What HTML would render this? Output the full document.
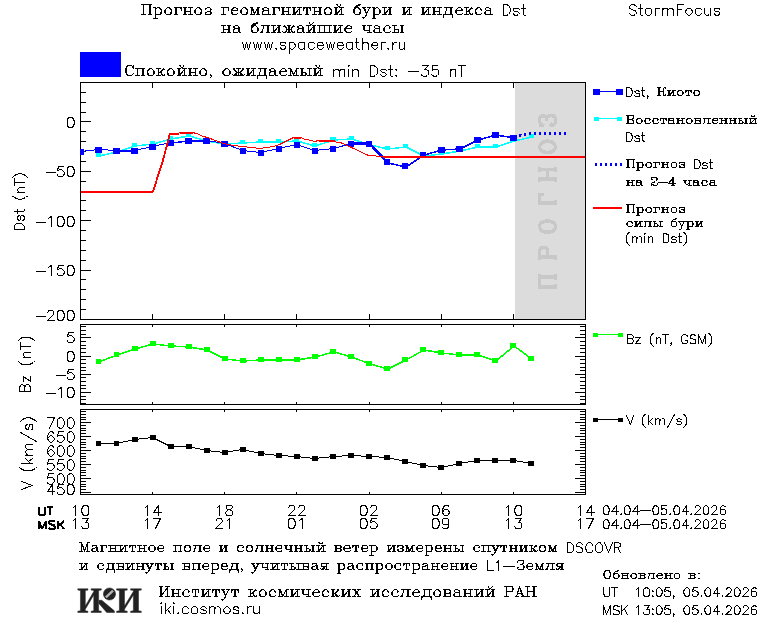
<!DOCTYPE html>
<html><head><meta charset="utf-8"><title>StormFocus</title>
<style>html,body{margin:0;padding:0;background:#fff;font-family:"Liberation Sans",sans-serif}svg{display:block}</style></head>
<body><svg width="760" height="620" viewBox="0 0 760 620" shape-rendering="crispEdges">
<rect width="760" height="620" fill="#fff"/>
<rect x="80" y="52" width="41" height="25" fill="#0000ff"/>
<rect x="515" y="83" width="70" height="236" fill="#dcdcdc"/>
<path d="M539.593 287.05L555.49 287.05M539.593 286.3L555.49 286.3M539.593 277.3L555.49 277.3M539.593 276.55L555.49 276.55M539.593 289.3L539.593 274.3M555.49 289.3L555.49 284.05M555.49 279.55L555.49 274.3" fill="none" stroke="#c8c8c8" stroke-width="3"/>
<path d="M539.593 257.625L555.49 257.625M539.593 256.875L555.49 256.875M539.593 259.875L539.593 250.875L540.35 248.625L541.107 247.875L542.621 247.125L544.892 247.125L546.406 247.875L547.163 248.625L547.92 250.875L547.92 256.875M539.593 250.875L540.35 249.375L541.107 248.625L542.621 247.875L544.892 247.875L546.406 248.625L547.163 249.375L547.92 250.875M555.49 259.875L555.49 254.625" fill="none" stroke="#c8c8c8" stroke-width="3"/>
<path d="M539.593 227.4L540.35 229.65L541.864 231.15L543.378 231.9L546.406 232.65L548.677 232.65L551.705 231.9L553.219 231.15L554.733 229.65L555.49 227.4L555.49 225.9L554.733 223.65L553.219 222.15L551.705 221.4L548.677 220.65L546.406 220.65L543.378 221.4L541.864 222.15L540.35 223.65L539.593 225.9L539.593 227.4M539.593 227.4L540.35 228.9L541.864 230.4L543.378 231.15L546.406 231.9L548.677 231.9L551.705 231.15L553.219 230.4L554.733 228.9L555.49 227.4M555.49 225.9L554.733 224.4L553.219 222.9L551.705 222.15L548.677 221.4L546.406 221.4L543.378 222.15L541.864 222.9L540.35 224.4L539.593 225.9" fill="none" stroke="#c8c8c8" stroke-width="3"/>
<path d="M539.593 203.175L555.49 203.175M539.593 202.425L555.49 202.425M539.593 205.425L539.593 194.175L544.135 194.175L539.593 194.925M555.49 205.425L555.49 200.175" fill="none" stroke="#c8c8c8" stroke-width="3"/>
<path d="M539.593 179.55L555.49 179.55M539.593 178.8L555.49 178.8M539.593 169.8L555.49 169.8M539.593 169.05L555.49 169.05M539.593 181.8L539.593 176.55M539.593 172.05L539.593 166.8M547.163 178.8L547.163 169.8M555.49 181.8L555.49 176.55M555.49 172.05L555.49 166.8" fill="none" stroke="#c8c8c8" stroke-width="3"/>
<path d="M539.593 147.7L540.35 149.95L541.864 151.45L543.378 152.2L546.406 152.95L548.677 152.95L551.705 152.2L553.219 151.45L554.733 149.95L555.49 147.7L555.49 146.2L554.733 143.95L553.219 142.45L551.705 141.7L548.677 140.95L546.406 140.95L543.378 141.7L541.864 142.45L540.35 143.95L539.593 146.2L539.593 147.7M539.593 147.7L540.35 149.2L541.864 150.7L543.378 151.45L546.406 152.2L548.677 152.2L551.705 151.45L553.219 150.7L554.733 149.2L555.49 147.7M555.49 146.2L554.733 144.7L553.219 143.2L551.705 142.45L548.677 141.7L546.406 141.7L543.378 142.45L541.864 143.2L540.35 144.7L539.593 146.2" fill="none" stroke="#c8c8c8" stroke-width="3"/>
<path d="M541.864 124.9L539.593 125.65L544.135 125.65L541.864 124.9L540.35 123.4L539.593 121.9L539.593 118.9L540.35 116.65L541.864 115.9L544.135 115.9L545.649 116.65L546.406 118.9L546.406 121.15M539.593 118.9L540.35 117.4L541.864 116.65L544.135 116.65L545.649 117.4L546.406 118.9M546.406 118.9L547.163 117.4L548.677 115.9L550.191 115.15L552.462 115.15L553.976 115.9L554.733 116.65L555.49 118.9L555.49 122.65L554.733 124.15L553.976 124.9L552.462 125.65L551.705 125.65L550.948 124.9L551.705 124.15L552.462 124.9M547.92 116.65L550.191 115.9L552.462 115.9L553.976 116.65L554.733 117.4L555.49 118.9" fill="none" stroke="#c8c8c8" stroke-width="3"/>
<rect x="80" y="82" width="506" height="1" fill="#000"/>
<rect x="80" y="319" width="506" height="1" fill="#000"/>
<rect x="80" y="82" width="1" height="238" fill="#000"/>
<rect x="585" y="82" width="1" height="238" fill="#000"/>
<rect x="152" y="82" width="1" height="6" fill="#000"/>
<rect x="152" y="314" width="1" height="6" fill="#000"/>
<rect x="224" y="82" width="1" height="6" fill="#000"/>
<rect x="224" y="314" width="1" height="6" fill="#000"/>
<rect x="296" y="82" width="1" height="6" fill="#000"/>
<rect x="296" y="314" width="1" height="6" fill="#000"/>
<rect x="369" y="82" width="1" height="6" fill="#000"/>
<rect x="369" y="314" width="1" height="6" fill="#000"/>
<rect x="441" y="82" width="1" height="6" fill="#000"/>
<rect x="441" y="314" width="1" height="6" fill="#000"/>
<rect x="513" y="82" width="1" height="6" fill="#000"/>
<rect x="513" y="314" width="1" height="6" fill="#000"/>
<rect x="80" y="82" width="6" height="1" fill="#000"/>
<rect x="80" y="92" width="6" height="1" fill="#000"/>
<rect x="80" y="102" width="6" height="1" fill="#000"/>
<rect x="80" y="112" width="6" height="1" fill="#000"/>
<rect x="80" y="121" width="11" height="1" fill="#000"/>
<rect x="80" y="131" width="6" height="1" fill="#000"/>
<rect x="80" y="141" width="6" height="1" fill="#000"/>
<rect x="80" y="151" width="6" height="1" fill="#000"/>
<rect x="80" y="161" width="6" height="1" fill="#000"/>
<rect x="80" y="171" width="11" height="1" fill="#000"/>
<rect x="80" y="181" width="6" height="1" fill="#000"/>
<rect x="80" y="191" width="6" height="1" fill="#000"/>
<rect x="80" y="200" width="6" height="1" fill="#000"/>
<rect x="80" y="210" width="6" height="1" fill="#000"/>
<rect x="80" y="220" width="11" height="1" fill="#000"/>
<rect x="80" y="230" width="6" height="1" fill="#000"/>
<rect x="80" y="240" width="6" height="1" fill="#000"/>
<rect x="80" y="250" width="6" height="1" fill="#000"/>
<rect x="80" y="260" width="6" height="1" fill="#000"/>
<rect x="80" y="270" width="11" height="1" fill="#000"/>
<rect x="80" y="279" width="6" height="1" fill="#000"/>
<rect x="80" y="289" width="6" height="1" fill="#000"/>
<rect x="80" y="299" width="6" height="1" fill="#000"/>
<rect x="80" y="309" width="6" height="1" fill="#000"/>
<rect x="80" y="319" width="11" height="1" fill="#000"/>
<rect x="80" y="324" width="506" height="1" fill="#000"/>
<rect x="80" y="404" width="506" height="1" fill="#000"/>
<rect x="80" y="324" width="1" height="81" fill="#000"/>
<rect x="585" y="324" width="1" height="81" fill="#000"/>
<rect x="152" y="324" width="1" height="3" fill="#000"/>
<rect x="152" y="402" width="1" height="3" fill="#000"/>
<rect x="224" y="324" width="1" height="3" fill="#000"/>
<rect x="224" y="402" width="1" height="3" fill="#000"/>
<rect x="296" y="324" width="1" height="3" fill="#000"/>
<rect x="296" y="402" width="1" height="3" fill="#000"/>
<rect x="369" y="324" width="1" height="3" fill="#000"/>
<rect x="369" y="402" width="1" height="3" fill="#000"/>
<rect x="441" y="324" width="1" height="3" fill="#000"/>
<rect x="441" y="402" width="1" height="3" fill="#000"/>
<rect x="513" y="324" width="1" height="3" fill="#000"/>
<rect x="513" y="402" width="1" height="3" fill="#000"/>
<rect x="80" y="326" width="6" height="1" fill="#000"/>
<rect x="580" y="326" width="6" height="1" fill="#000"/>
<rect x="80" y="330" width="6" height="1" fill="#000"/>
<rect x="580" y="330" width="6" height="1" fill="#000"/>
<rect x="80" y="334" width="6" height="1" fill="#000"/>
<rect x="580" y="334" width="6" height="1" fill="#000"/>
<rect x="80" y="337" width="11" height="1" fill="#000"/>
<rect x="575" y="337" width="11" height="1" fill="#000"/>
<rect x="80" y="341" width="6" height="1" fill="#000"/>
<rect x="580" y="341" width="6" height="1" fill="#000"/>
<rect x="80" y="345" width="6" height="1" fill="#000"/>
<rect x="580" y="345" width="6" height="1" fill="#000"/>
<rect x="80" y="348" width="6" height="1" fill="#000"/>
<rect x="580" y="348" width="6" height="1" fill="#000"/>
<rect x="80" y="352" width="6" height="1" fill="#000"/>
<rect x="580" y="352" width="6" height="1" fill="#000"/>
<rect x="80" y="356" width="11" height="1" fill="#000"/>
<rect x="575" y="356" width="11" height="1" fill="#000"/>
<rect x="80" y="359" width="6" height="1" fill="#000"/>
<rect x="580" y="359" width="6" height="1" fill="#000"/>
<rect x="80" y="363" width="6" height="1" fill="#000"/>
<rect x="580" y="363" width="6" height="1" fill="#000"/>
<rect x="80" y="367" width="6" height="1" fill="#000"/>
<rect x="580" y="367" width="6" height="1" fill="#000"/>
<rect x="80" y="370" width="6" height="1" fill="#000"/>
<rect x="580" y="370" width="6" height="1" fill="#000"/>
<rect x="80" y="374" width="11" height="1" fill="#000"/>
<rect x="575" y="374" width="11" height="1" fill="#000"/>
<rect x="80" y="377" width="6" height="1" fill="#000"/>
<rect x="580" y="377" width="6" height="1" fill="#000"/>
<rect x="80" y="381" width="6" height="1" fill="#000"/>
<rect x="580" y="381" width="6" height="1" fill="#000"/>
<rect x="80" y="385" width="6" height="1" fill="#000"/>
<rect x="580" y="385" width="6" height="1" fill="#000"/>
<rect x="80" y="388" width="6" height="1" fill="#000"/>
<rect x="580" y="388" width="6" height="1" fill="#000"/>
<rect x="80" y="392" width="11" height="1" fill="#000"/>
<rect x="575" y="392" width="11" height="1" fill="#000"/>
<rect x="80" y="396" width="6" height="1" fill="#000"/>
<rect x="580" y="396" width="6" height="1" fill="#000"/>
<rect x="80" y="399" width="6" height="1" fill="#000"/>
<rect x="580" y="399" width="6" height="1" fill="#000"/>
<rect x="80" y="403" width="6" height="1" fill="#000"/>
<rect x="580" y="403" width="6" height="1" fill="#000"/>
<rect x="80" y="409" width="506" height="1" fill="#000"/>
<rect x="80" y="494" width="506" height="1" fill="#000"/>
<rect x="80" y="409" width="1" height="86" fill="#000"/>
<rect x="585" y="409" width="1" height="86" fill="#000"/>
<rect x="152" y="409" width="1" height="3" fill="#000"/>
<rect x="152" y="492" width="1" height="3" fill="#000"/>
<rect x="224" y="409" width="1" height="3" fill="#000"/>
<rect x="224" y="492" width="1" height="3" fill="#000"/>
<rect x="296" y="409" width="1" height="3" fill="#000"/>
<rect x="296" y="492" width="1" height="3" fill="#000"/>
<rect x="369" y="409" width="1" height="3" fill="#000"/>
<rect x="369" y="492" width="1" height="3" fill="#000"/>
<rect x="441" y="409" width="1" height="3" fill="#000"/>
<rect x="441" y="492" width="1" height="3" fill="#000"/>
<rect x="513" y="409" width="1" height="3" fill="#000"/>
<rect x="513" y="492" width="1" height="3" fill="#000"/>
<rect x="80" y="411" width="6" height="1" fill="#000"/>
<rect x="580" y="411" width="6" height="1" fill="#000"/>
<rect x="80" y="414" width="6" height="1" fill="#000"/>
<rect x="580" y="414" width="6" height="1" fill="#000"/>
<rect x="80" y="417" width="6" height="1" fill="#000"/>
<rect x="580" y="417" width="6" height="1" fill="#000"/>
<rect x="80" y="419" width="6" height="1" fill="#000"/>
<rect x="580" y="419" width="6" height="1" fill="#000"/>
<rect x="80" y="422" width="11" height="1" fill="#000"/>
<rect x="575" y="422" width="11" height="1" fill="#000"/>
<rect x="80" y="425" width="6" height="1" fill="#000"/>
<rect x="580" y="425" width="6" height="1" fill="#000"/>
<rect x="80" y="428" width="6" height="1" fill="#000"/>
<rect x="580" y="428" width="6" height="1" fill="#000"/>
<rect x="80" y="430" width="6" height="1" fill="#000"/>
<rect x="580" y="430" width="6" height="1" fill="#000"/>
<rect x="80" y="433" width="6" height="1" fill="#000"/>
<rect x="580" y="433" width="6" height="1" fill="#000"/>
<rect x="80" y="436" width="11" height="1" fill="#000"/>
<rect x="575" y="436" width="11" height="1" fill="#000"/>
<rect x="80" y="439" width="6" height="1" fill="#000"/>
<rect x="580" y="439" width="6" height="1" fill="#000"/>
<rect x="80" y="442" width="6" height="1" fill="#000"/>
<rect x="580" y="442" width="6" height="1" fill="#000"/>
<rect x="80" y="444" width="6" height="1" fill="#000"/>
<rect x="580" y="444" width="6" height="1" fill="#000"/>
<rect x="80" y="447" width="6" height="1" fill="#000"/>
<rect x="580" y="447" width="6" height="1" fill="#000"/>
<rect x="80" y="450" width="11" height="1" fill="#000"/>
<rect x="575" y="450" width="11" height="1" fill="#000"/>
<rect x="80" y="453" width="6" height="1" fill="#000"/>
<rect x="580" y="453" width="6" height="1" fill="#000"/>
<rect x="80" y="456" width="6" height="1" fill="#000"/>
<rect x="580" y="456" width="6" height="1" fill="#000"/>
<rect x="80" y="458" width="6" height="1" fill="#000"/>
<rect x="580" y="458" width="6" height="1" fill="#000"/>
<rect x="80" y="461" width="6" height="1" fill="#000"/>
<rect x="580" y="461" width="6" height="1" fill="#000"/>
<rect x="80" y="464" width="11" height="1" fill="#000"/>
<rect x="575" y="464" width="11" height="1" fill="#000"/>
<rect x="80" y="467" width="6" height="1" fill="#000"/>
<rect x="580" y="467" width="6" height="1" fill="#000"/>
<rect x="80" y="470" width="6" height="1" fill="#000"/>
<rect x="580" y="470" width="6" height="1" fill="#000"/>
<rect x="80" y="472" width="6" height="1" fill="#000"/>
<rect x="580" y="472" width="6" height="1" fill="#000"/>
<rect x="80" y="475" width="6" height="1" fill="#000"/>
<rect x="580" y="475" width="6" height="1" fill="#000"/>
<rect x="80" y="478" width="11" height="1" fill="#000"/>
<rect x="575" y="478" width="11" height="1" fill="#000"/>
<rect x="80" y="481" width="6" height="1" fill="#000"/>
<rect x="580" y="481" width="6" height="1" fill="#000"/>
<rect x="80" y="484" width="6" height="1" fill="#000"/>
<rect x="580" y="484" width="6" height="1" fill="#000"/>
<rect x="80" y="486" width="6" height="1" fill="#000"/>
<rect x="580" y="486" width="6" height="1" fill="#000"/>
<rect x="80" y="489" width="6" height="1" fill="#000"/>
<rect x="580" y="489" width="6" height="1" fill="#000"/>
<rect x="80" y="492" width="11" height="1" fill="#000"/>
<rect x="575" y="492" width="11" height="1" fill="#000"/>
<path d="M99 156L117 152L135 146L153 144L171 139L189 136L207 141L225 144L243 143L261 142L279 142L297 141L315 146L334 140L352 139L370 145L388 149L406 147L424 156L442 154L460 151L478 147L496 147L514 141L532 137" fill="none" stroke="#00ffff" stroke-width="1.5" stroke-linejoin="round"/>
<rect x="96" y="153" width="5" height="4" fill="#00ffff"/>
<rect x="114" y="149" width="5" height="4" fill="#00ffff"/>
<rect x="132" y="143" width="5" height="4" fill="#00ffff"/>
<rect x="150" y="141" width="5" height="4" fill="#00ffff"/>
<rect x="168" y="136" width="5" height="4" fill="#00ffff"/>
<rect x="186" y="133" width="5" height="4" fill="#00ffff"/>
<rect x="204" y="138" width="5" height="4" fill="#00ffff"/>
<rect x="222" y="141" width="5" height="4" fill="#00ffff"/>
<rect x="240" y="140" width="5" height="4" fill="#00ffff"/>
<rect x="258" y="139" width="5" height="4" fill="#00ffff"/>
<rect x="276" y="139" width="5" height="4" fill="#00ffff"/>
<rect x="294" y="138" width="5" height="4" fill="#00ffff"/>
<rect x="312" y="143" width="5" height="4" fill="#00ffff"/>
<rect x="330" y="137" width="6" height="4" fill="#00ffff"/>
<rect x="349" y="136" width="5" height="4" fill="#00ffff"/>
<rect x="367" y="142" width="5" height="4" fill="#00ffff"/>
<rect x="385" y="146" width="5" height="4" fill="#00ffff"/>
<rect x="403" y="144" width="5" height="4" fill="#00ffff"/>
<rect x="421" y="153" width="5" height="4" fill="#00ffff"/>
<rect x="439" y="151" width="5" height="4" fill="#00ffff"/>
<rect x="457" y="148" width="5" height="4" fill="#00ffff"/>
<rect x="475" y="144" width="5" height="4" fill="#00ffff"/>
<rect x="493" y="144" width="5" height="4" fill="#00ffff"/>
<rect x="511" y="138" width="5" height="4" fill="#00ffff"/>
<rect x="529" y="134" width="5" height="4" fill="#00ffff"/>
<path d="M80.5 151.5L98.5 149.5" fill="none" stroke="#0000ff" stroke-width="1"/>
<path d="M98.5 149.5L116.5 150.5" fill="none" stroke="#0000ff" stroke-width="1"/>
<path d="M117 151L135 151" fill="none" stroke="#0000ff" stroke-width="1.5" stroke-linejoin="round"/>
<path d="M134.5 150.5L152.5 146.5" fill="none" stroke="#0000ff" stroke-width="1"/>
<path d="M152.5 146.5L170.5 142.5" fill="none" stroke="#0000ff" stroke-width="1"/>
<path d="M171 143L189 141" fill="none" stroke="#0000ff" stroke-width="1.5" stroke-linejoin="round"/>
<path d="M189 141L207 141" fill="none" stroke="#0000ff" stroke-width="1.5" stroke-linejoin="round"/>
<path d="M206.5 140.5L224.5 143.5" fill="none" stroke="#0000ff" stroke-width="1"/>
<path d="M224.5 143.5L242.5 150.5" fill="none" stroke="#0000ff" stroke-width="1"/>
<path d="M242.5 150.5L260.5 152.5" fill="none" stroke="#0000ff" stroke-width="1"/>
<path d="M260.5 152.5L278.5 148.5" fill="none" stroke="#0000ff" stroke-width="1"/>
<path d="M278.5 148.5L296.5 144.5" fill="none" stroke="#0000ff" stroke-width="1"/>
<path d="M296.5 144.5L314.5 150.5" fill="none" stroke="#0000ff" stroke-width="1"/>
<path d="M314.5 150.5L333.5 148.5" fill="none" stroke="#0000ff" stroke-width="1"/>
<path d="M333.5 148.5L351.5 143.5" fill="none" stroke="#0000ff" stroke-width="1"/>
<path d="M351.5 143.5L369.5 143.5" fill="none" stroke="#0000ff" stroke-width="2.5"/>
<path d="M369.5 143.5L387.5 162.5" fill="none" stroke="#0000ff" stroke-width="2.5"/>
<path d="M388 163L406 167" fill="none" stroke="#0000ff" stroke-width="1.5" stroke-linejoin="round"/>
<path d="M406 167L424 155" fill="none" stroke="#0000ff" stroke-width="1.5" stroke-linejoin="round"/>
<path d="M424 155L442 150" fill="none" stroke="#0000ff" stroke-width="1.5" stroke-linejoin="round"/>
<path d="M442 150L460 149" fill="none" stroke="#0000ff" stroke-width="1.5" stroke-linejoin="round"/>
<path d="M460 149L478 140" fill="none" stroke="#0000ff" stroke-width="1.5" stroke-linejoin="round"/>
<path d="M478 140L496 135" fill="none" stroke="#0000ff" stroke-width="1.5" stroke-linejoin="round"/>
<path d="M496 135L514 138" fill="none" stroke="#0000ff" stroke-width="1.5" stroke-linejoin="round"/>
<rect x="80" y="149" width="4" height="6" fill="#0000ff"/>
<rect x="95" y="147" width="7" height="6" fill="#0000ff"/>
<rect x="113" y="148" width="7" height="6" fill="#0000ff"/>
<rect x="131" y="148" width="7" height="6" fill="#0000ff"/>
<rect x="149" y="144" width="7" height="6" fill="#0000ff"/>
<rect x="167" y="140" width="7" height="6" fill="#0000ff"/>
<rect x="185" y="138" width="7" height="6" fill="#0000ff"/>
<rect x="203" y="138" width="7" height="6" fill="#0000ff"/>
<rect x="221" y="141" width="7" height="6" fill="#0000ff"/>
<rect x="240" y="148" width="6" height="6" fill="#0000ff"/>
<rect x="258" y="150" width="6" height="6" fill="#0000ff"/>
<rect x="276" y="146" width="6" height="6" fill="#0000ff"/>
<rect x="294" y="142" width="6" height="6" fill="#0000ff"/>
<rect x="312" y="148" width="6" height="6" fill="#0000ff"/>
<rect x="330" y="146" width="6" height="6" fill="#0000ff"/>
<rect x="348" y="141" width="6" height="6" fill="#0000ff"/>
<rect x="366" y="141" width="6" height="6" fill="#0000ff"/>
<rect x="384" y="159" width="6" height="6" fill="#0000ff"/>
<rect x="402" y="163" width="6" height="6" fill="#0000ff"/>
<rect x="420" y="152" width="6" height="6" fill="#0000ff"/>
<rect x="438" y="147" width="7" height="6" fill="#0000ff"/>
<rect x="456" y="146" width="7" height="6" fill="#0000ff"/>
<rect x="474" y="137" width="7" height="6" fill="#0000ff"/>
<rect x="492" y="132" width="7" height="6" fill="#0000ff"/>
<rect x="510" y="135" width="7" height="6" fill="#0000ff"/>
<path d="M80.5 191.5L152.5 191.5L162.5 160.5L169.5 133.5L178.5 133.5L179.5 132.5L192.5 132.5L196.5 133.5L203.5 136.5L207.5 137.5L215.5 140.5L223.5 143.5L233.5 145.5L242.5 146.5L251.5 147.5L260.5 148.5L266.5 147.5L273.5 146.5L279.5 144.5L287.5 140.5L293.5 137.5L300.5 137.5L305.5 139.5L311.5 140.5L314.5 141.5L318.5 140.5L334.5 140.5L336.5 142.5L340.5 142.5L351.5 147.5L368.5 155.5L382.5 156.5L585.5 156.5" fill="none" stroke="#ff0000" stroke-width="1"/>
<path d="M81 192L153 192" fill="none" stroke="#ff0000" stroke-width="1.5" stroke-linejoin="round"/>
<path d="M153 192L163 161" fill="none" stroke="#ff0000" stroke-width="1.5" stroke-linejoin="round"/>
<path d="M163 161L170 134" fill="none" stroke="#ff0000" stroke-width="1.5" stroke-linejoin="round"/>
<path d="M170 134L179 134" fill="none" stroke="#ff0000" stroke-width="1.5" stroke-linejoin="round"/>
<path d="M180 133L193 133" fill="none" stroke="#ff0000" stroke-width="1.5" stroke-linejoin="round"/>
<path d="M294 138L301 138" fill="none" stroke="#ff0000" stroke-width="1.5" stroke-linejoin="round"/>
<path d="M319 141L335 141" fill="none" stroke="#ff0000" stroke-width="1.5" stroke-linejoin="round"/>
<path d="M383 157L586 157" fill="none" stroke="#ff0000" stroke-width="1.5" stroke-linejoin="round"/>
<rect x="519" y="134" width="2" height="3" fill="#0000ff"/>
<rect x="524" y="133" width="2" height="3" fill="#0000ff"/>
<rect x="529" y="132" width="2" height="3" fill="#0000ff"/>
<rect x="519" y="136" width="1" height="1" fill="#0000ff"/>
<rect x="521" y="134" width="1" height="1" fill="#0000ff"/>
<rect x="534" y="132" width="2" height="3" fill="#0000ff"/>
<rect x="539" y="132" width="2" height="3" fill="#0000ff"/>
<rect x="544" y="132" width="2" height="3" fill="#0000ff"/>
<rect x="549" y="132" width="2" height="3" fill="#0000ff"/>
<rect x="554" y="132" width="2" height="3" fill="#0000ff"/>
<rect x="559" y="132" width="2" height="3" fill="#0000ff"/>
<rect x="564" y="132" width="2" height="3" fill="#0000ff"/>
<path d="M99 362L117 355L135 349L153 344L171 346L189 347L207 350L225 359L243 361L261 360L279 360L297 360L315 357L334 352L352 357L370 364L388 369L406 360L424 350L442 353L460 355L478 355L496 361L514 346L532 359" fill="none" stroke="#00ff00" stroke-width="1.5" stroke-linejoin="round"/>
<rect x="96" y="359" width="5" height="5" fill="#00ff00"/>
<rect x="114" y="352" width="5" height="5" fill="#00ff00"/>
<rect x="132" y="346" width="6" height="5" fill="#00ff00"/>
<rect x="150" y="341" width="6" height="5" fill="#00ff00"/>
<rect x="168" y="343" width="6" height="5" fill="#00ff00"/>
<rect x="186" y="344" width="6" height="5" fill="#00ff00"/>
<rect x="204" y="347" width="6" height="5" fill="#00ff00"/>
<rect x="222" y="356" width="6" height="5" fill="#00ff00"/>
<rect x="240" y="358" width="6" height="5" fill="#00ff00"/>
<rect x="258" y="357" width="6" height="5" fill="#00ff00"/>
<rect x="276" y="357" width="6" height="5" fill="#00ff00"/>
<rect x="294" y="357" width="6" height="5" fill="#00ff00"/>
<rect x="312" y="354" width="6" height="5" fill="#00ff00"/>
<rect x="330" y="349" width="6" height="5" fill="#00ff00"/>
<rect x="348" y="354" width="6" height="5" fill="#00ff00"/>
<rect x="366" y="361" width="6" height="5" fill="#00ff00"/>
<rect x="384" y="366" width="6" height="5" fill="#00ff00"/>
<rect x="402" y="357" width="6" height="5" fill="#00ff00"/>
<rect x="420" y="347" width="6" height="5" fill="#00ff00"/>
<rect x="438" y="350" width="6" height="5" fill="#00ff00"/>
<rect x="456" y="352" width="6" height="5" fill="#00ff00"/>
<rect x="474" y="352" width="6" height="5" fill="#00ff00"/>
<rect x="492" y="358" width="6" height="5" fill="#00ff00"/>
<rect x="510" y="343" width="6" height="5" fill="#00ff00"/>
<rect x="528" y="356" width="6" height="5" fill="#00ff00"/>
<path d="M98.5 443.5L116.5 443.5L134.5 439.5L152.5 437.5L170.5 446.5L188.5 446.5L206.5 450.5L224.5 452.5L242.5 449.5L260.5 453.5L278.5 455.5L296.5 456.5L314.5 458.5L333.5 456.5L351.5 455.5L369.5 456.5L387.5 457.5L405.5 461.5L423.5 465.5L441.5 467.5L459.5 463.5L477.5 460.5L495.5 460.5L513.5 460.5L531.5 463.5" fill="none" stroke="#000" stroke-width="1"/>
<rect x="96" y="441" width="5" height="5" fill="#000"/>
<rect x="114" y="441" width="5" height="5" fill="#000"/>
<rect x="132" y="437" width="6" height="5" fill="#000"/>
<rect x="150" y="435" width="6" height="5" fill="#000"/>
<rect x="168" y="444" width="6" height="5" fill="#000"/>
<rect x="186" y="444" width="6" height="5" fill="#000"/>
<rect x="204" y="448" width="6" height="5" fill="#000"/>
<rect x="222" y="450" width="6" height="5" fill="#000"/>
<rect x="240" y="447" width="6" height="5" fill="#000"/>
<rect x="258" y="451" width="6" height="5" fill="#000"/>
<rect x="276" y="453" width="6" height="5" fill="#000"/>
<rect x="294" y="454" width="6" height="5" fill="#000"/>
<rect x="312" y="456" width="6" height="5" fill="#000"/>
<rect x="330" y="454" width="6" height="5" fill="#000"/>
<rect x="348" y="453" width="6" height="5" fill="#000"/>
<rect x="366" y="454" width="6" height="5" fill="#000"/>
<rect x="384" y="455" width="6" height="5" fill="#000"/>
<rect x="402" y="459" width="6" height="5" fill="#000"/>
<rect x="420" y="463" width="6" height="5" fill="#000"/>
<rect x="438" y="465" width="6" height="5" fill="#000"/>
<rect x="456" y="461" width="6" height="5" fill="#000"/>
<rect x="474" y="458" width="6" height="5" fill="#000"/>
<rect x="492" y="458" width="6" height="5" fill="#000"/>
<rect x="510" y="458" width="6" height="5" fill="#000"/>
<rect x="528" y="461" width="6" height="5" fill="#000"/>
<rect x="585" y="82" width="1" height="238" fill="#000"/>
<path d="M143.5 4.5L143.5 14.5M143.5 4.5L143.5 14.5M149.5 4.5L149.5 14.5M150.5 4.5L150.5 14.5M141.5 4.5L151.5 4.5M141.5 14.5L145.5 14.5M148.5 14.5L151.5 14.5M155.5 7.5L155.5 18.5M155.5 7.5L155.5 18.5M155.5 9.5L156.5 8.5L157.5 7.5L158.5 7.5L160.5 8.5L161.5 9.5L161.5 10.5L161.5 11.5L161.5 13.5L160.5 14.5L158.5 14.5L157.5 14.5L156.5 14.5L155.5 13.5M158.5 7.5L159.5 8.5L160.5 9.5L161.5 10.5L161.5 11.5L160.5 13.5L159.5 14.5L158.5 14.5M153.5 7.5L155.5 7.5M153.5 18.5L157.5 18.5M167.5 7.5L166.5 8.5L165.5 9.5L164.5 10.5L164.5 11.5L165.5 13.5L166.5 14.5L167.5 14.5L168.5 14.5L170.5 14.5L171.5 13.5L171.5 11.5L171.5 10.5L171.5 9.5L170.5 8.5L168.5 7.5L167.5 7.5M167.5 7.5L166.5 8.5L165.5 9.5L165.5 10.5L165.5 11.5L165.5 13.5L166.5 14.5L167.5 14.5M168.5 14.5L169.5 14.5L170.5 13.5L171.5 11.5L171.5 10.5L170.5 9.5L169.5 8.5L168.5 7.5M175.5 7.5L175.5 14.5M176.5 7.5L176.5 14.5M174.5 7.5L181.5 7.5L181.5 10.5L180.5 7.5M174.5 14.5L177.5 14.5M184.5 7.5L184.5 14.5M185.5 7.5L185.5 14.5M190.5 7.5L190.5 14.5M190.5 7.5L190.5 14.5M183.5 7.5L186.5 7.5M188.5 7.5L192.5 7.5M185.5 11.5L190.5 11.5M183.5 14.5L186.5 14.5M188.5 14.5L192.5 14.5M197.5 7.5L196.5 8.5L195.5 9.5L194.5 10.5L194.5 11.5L195.5 13.5L196.5 14.5L197.5 14.5L198.5 14.5L200.5 14.5L201.5 13.5L201.5 11.5L201.5 10.5L201.5 9.5L200.5 8.5L198.5 7.5L197.5 7.5M197.5 7.5L196.5 8.5L195.5 9.5L195.5 10.5L195.5 11.5L195.5 13.5L196.5 14.5L197.5 14.5M198.5 14.5L199.5 14.5L200.5 13.5L201.5 11.5L201.5 10.5L200.5 9.5L199.5 8.5L198.5 7.5M205.5 8.5L205.5 7.5L205.5 9.5L205.5 8.5L206.5 8.5L207.5 7.5L209.5 7.5L210.5 8.5L211.5 9.5L210.5 10.5L209.5 11.5M209.5 7.5L210.5 8.5L210.5 9.5L210.5 10.5L209.5 11.5M207.5 11.5L209.5 11.5L210.5 11.5L211.5 12.5L211.5 13.5L210.5 14.5L209.5 14.5L207.5 14.5L205.5 14.5L205.5 13.5L205.5 12.5L206.5 12.5L205.5 13.5M209.5 11.5L210.5 11.5L210.5 12.5L210.5 13.5L210.5 14.5L209.5 14.5M223.5 7.5L223.5 14.5M223.5 7.5L223.5 14.5M221.5 7.5L228.5 7.5L228.5 10.5L228.5 7.5M221.5 14.5L225.5 14.5M231.5 10.5L237.5 10.5L237.5 9.5L237.5 8.5L236.5 8.5L235.5 7.5L234.5 7.5L232.5 8.5L231.5 9.5L231.5 10.5L231.5 11.5L231.5 13.5L232.5 14.5L234.5 14.5L235.5 14.5L236.5 14.5L237.5 13.5M237.5 10.5L237.5 9.5L236.5 8.5M234.5 7.5L233.5 8.5L232.5 9.5L231.5 10.5L231.5 11.5L232.5 13.5L233.5 14.5L234.5 14.5M243.5 7.5L242.5 8.5L241.5 9.5L240.5 10.5L240.5 11.5L241.5 13.5L242.5 14.5L243.5 14.5L244.5 14.5L246.5 14.5L247.5 13.5L247.5 11.5L247.5 10.5L247.5 9.5L246.5 8.5L244.5 7.5L243.5 7.5M243.5 7.5L242.5 8.5L241.5 9.5L241.5 10.5L241.5 11.5L241.5 13.5L242.5 14.5L243.5 14.5M244.5 14.5L245.5 14.5L246.5 13.5L247.5 11.5L247.5 10.5L246.5 9.5L245.5 8.5L244.5 7.5M251.5 7.5L251.5 14.5M251.5 7.5L254.5 14.5M252.5 7.5L254.5 13.5M257.5 7.5L254.5 14.5M257.5 7.5L257.5 14.5M258.5 7.5L258.5 14.5M250.5 7.5L252.5 7.5M257.5 7.5L259.5 7.5M250.5 14.5L253.5 14.5M256.5 14.5L259.5 14.5M263.5 8.5L263.5 9.5L262.5 9.5L262.5 8.5L263.5 8.5L264.5 7.5L266.5 7.5L267.5 8.5L268.5 8.5L268.5 9.5L268.5 13.5L269.5 14.5M268.5 8.5L268.5 13.5L268.5 14.5L269.5 14.5L270.5 14.5M268.5 9.5L267.5 10.5L264.5 10.5L262.5 11.5L262.5 12.5L262.5 13.5L262.5 14.5L264.5 14.5L265.5 14.5L267.5 14.5L268.5 13.5M264.5 10.5L263.5 11.5L262.5 12.5L262.5 13.5L263.5 14.5L264.5 14.5M273.5 7.5L273.5 14.5M274.5 7.5L274.5 14.5M272.5 7.5L279.5 7.5L279.5 10.5L278.5 7.5M272.5 14.5L275.5 14.5M282.5 7.5L282.5 14.5M283.5 7.5L283.5 14.5M288.5 7.5L288.5 14.5M288.5 7.5L288.5 14.5M281.5 7.5L284.5 7.5M286.5 7.5L290.5 7.5M283.5 11.5L288.5 11.5M281.5 14.5L284.5 14.5M286.5 14.5L290.5 14.5M293.5 7.5L293.5 14.5M294.5 7.5L294.5 14.5M299.5 7.5L299.5 14.5M299.5 7.5L299.5 14.5M292.5 7.5L295.5 7.5M297.5 7.5L301.5 7.5M292.5 14.5L295.5 14.5M297.5 14.5L301.5 14.5M299.5 8.5L294.5 14.5M306.5 7.5L306.5 14.5M307.5 7.5L307.5 14.5M304.5 7.5L303.5 10.5L303.5 7.5L310.5 7.5L310.5 10.5L309.5 7.5M305.5 14.5L308.5 14.5M314.5 7.5L314.5 14.5M314.5 7.5L314.5 14.5M319.5 7.5L319.5 14.5M320.5 7.5L320.5 14.5M312.5 7.5L316.5 7.5M318.5 7.5L321.5 7.5M314.5 11.5L319.5 11.5M312.5 14.5L316.5 14.5M318.5 14.5L321.5 14.5M327.5 7.5L325.5 8.5L324.5 9.5L324.5 10.5L324.5 11.5L324.5 13.5L325.5 14.5L327.5 14.5L328.5 14.5L330.5 14.5L331.5 13.5L331.5 11.5L331.5 10.5L331.5 9.5L330.5 8.5L328.5 7.5L327.5 7.5M327.5 7.5L326.5 8.5L325.5 9.5L324.5 10.5L324.5 11.5L325.5 13.5L326.5 14.5L327.5 14.5M328.5 14.5L329.5 14.5L330.5 13.5L331.5 11.5L331.5 10.5L330.5 9.5L329.5 8.5L328.5 7.5M335.5 7.5L335.5 14.5M336.5 7.5L336.5 14.5M341.5 7.5L341.5 14.5M341.5 7.5L341.5 14.5M334.5 7.5L337.5 7.5M339.5 7.5L343.5 7.5M334.5 14.5L337.5 14.5M339.5 14.5L343.5 14.5M341.5 8.5L336.5 14.5M337.5 4.5L336.5 4.5L337.5 5.5L338.5 6.5L339.5 6.5L340.5 5.5L340.5 4.5M360.5 4.5L359.5 4.5L356.5 5.5L355.5 6.5L354.5 8.5L353.5 9.5L353.5 11.5L354.5 13.5L355.5 14.5L356.5 14.5L357.5 14.5L359.5 14.5L360.5 13.5L360.5 11.5L360.5 10.5L360.5 9.5L359.5 8.5L357.5 7.5L356.5 7.5L355.5 8.5L354.5 9.5L353.5 10.5M360.5 4.5L359.5 5.5L358.5 5.5L356.5 6.5L355.5 7.5L354.5 8.5M356.5 7.5L355.5 8.5L354.5 9.5L354.5 10.5L354.5 11.5L354.5 13.5L355.5 14.5L356.5 14.5M357.5 14.5L358.5 14.5L359.5 13.5L360.5 11.5L360.5 10.5L359.5 9.5L358.5 8.5L357.5 7.5M363.5 7.5L366.5 14.5M364.5 7.5L366.5 13.5M369.5 7.5L366.5 14.5L365.5 16.5L364.5 17.5L363.5 18.5L362.5 17.5L363.5 17.5M362.5 7.5L365.5 7.5M367.5 7.5L370.5 7.5M373.5 7.5L373.5 18.5M374.5 7.5L374.5 18.5M374.5 9.5L375.5 8.5L376.5 7.5L377.5 7.5L378.5 8.5L379.5 9.5L380.5 10.5L380.5 11.5L379.5 13.5L378.5 14.5L377.5 14.5L376.5 14.5L375.5 14.5L374.5 13.5M377.5 7.5L378.5 8.5L379.5 9.5L379.5 10.5L379.5 11.5L379.5 13.5L378.5 14.5L377.5 14.5M372.5 7.5L374.5 7.5M372.5 18.5L375.5 18.5M384.5 7.5L384.5 14.5M384.5 7.5L384.5 14.5M389.5 7.5L389.5 14.5M390.5 7.5L390.5 14.5M382.5 7.5L386.5 7.5M388.5 7.5L391.5 7.5M382.5 14.5L386.5 14.5M388.5 14.5L391.5 14.5M389.5 8.5L384.5 14.5M403.5 7.5L403.5 14.5M404.5 7.5L404.5 14.5M409.5 7.5L409.5 14.5M409.5 7.5L409.5 14.5M402.5 7.5L405.5 7.5M407.5 7.5L411.5 7.5M402.5 14.5L405.5 14.5M407.5 14.5L411.5 14.5M409.5 8.5L404.5 14.5M422.5 7.5L422.5 14.5M423.5 7.5L423.5 14.5M428.5 7.5L428.5 14.5M428.5 7.5L428.5 14.5M421.5 7.5L424.5 7.5M426.5 7.5L430.5 7.5M421.5 14.5L424.5 14.5M426.5 14.5L430.5 14.5M428.5 8.5L423.5 14.5M433.5 7.5L433.5 14.5M434.5 7.5L434.5 14.5M439.5 7.5L439.5 14.5M439.5 7.5L439.5 14.5M432.5 7.5L435.5 7.5M437.5 7.5L441.5 7.5M434.5 11.5L439.5 11.5M432.5 14.5L435.5 14.5M437.5 14.5L441.5 14.5M446.5 7.5L446.5 9.5L445.5 12.5L445.5 14.5L444.5 14.5M450.5 7.5L450.5 14.5M451.5 7.5L451.5 14.5M444.5 7.5L452.5 7.5M443.5 14.5L443.5 17.5L443.5 14.5L452.5 14.5L452.5 17.5L452.5 14.5M456.5 10.5L462.5 10.5L462.5 9.5L461.5 8.5L460.5 7.5L458.5 7.5L457.5 8.5L456.5 9.5L455.5 10.5L455.5 11.5L456.5 13.5L457.5 14.5L458.5 14.5L459.5 14.5L461.5 14.5L462.5 13.5M461.5 10.5L461.5 9.5L461.5 8.5M458.5 7.5L457.5 8.5L456.5 9.5L456.5 10.5L456.5 11.5L456.5 13.5L457.5 14.5L458.5 14.5M466.5 7.5L466.5 14.5M466.5 7.5L466.5 14.5M464.5 7.5L468.5 7.5M466.5 11.5L467.5 11.5L469.5 10.5L470.5 8.5L471.5 7.5L472.5 8.5L471.5 8.5M467.5 11.5L469.5 11.5L469.5 12.5L470.5 14.5L471.5 14.5M467.5 11.5L468.5 11.5L469.5 12.5L470.5 14.5L471.5 14.5L472.5 14.5L472.5 13.5M464.5 14.5L468.5 14.5M481.5 9.5L480.5 9.5L481.5 10.5L481.5 9.5L480.5 8.5L479.5 7.5L478.5 7.5L476.5 8.5L475.5 9.5L475.5 10.5L475.5 11.5L475.5 13.5L476.5 14.5L478.5 14.5L479.5 14.5L480.5 14.5L481.5 13.5M478.5 7.5L477.5 8.5L476.5 9.5L475.5 10.5L475.5 11.5L476.5 13.5L477.5 14.5L478.5 14.5M485.5 8.5L485.5 9.5L485.5 8.5L486.5 7.5L488.5 7.5L489.5 8.5L490.5 8.5L490.5 9.5L490.5 13.5L491.5 14.5M490.5 8.5L490.5 13.5L490.5 14.5L491.5 14.5L492.5 14.5M490.5 9.5L489.5 10.5L486.5 10.5L485.5 11.5L484.5 12.5L484.5 13.5L485.5 14.5L486.5 14.5L488.5 14.5L489.5 14.5L490.5 13.5M486.5 10.5L485.5 11.5L485.5 12.5L485.5 13.5L485.5 14.5L486.5 14.5M503.5 4.5L503.5 15.5M503.5 4.5L506.5 4.5L508.5 5.5L509.5 6.5L509.5 7.5L510.5 8.5L510.5 11.5L509.5 12.5L509.5 13.5L508.5 14.5L506.5 15.5L503.5 15.5M519.5 9.5L518.5 8.5L516.5 8.5L515.5 8.5L513.5 8.5L513.5 9.5L513.5 10.5L514.5 11.5L517.5 11.5L518.5 12.5L519.5 13.5L518.5 14.5L516.5 15.5L515.5 15.5L513.5 14.5L513.5 13.5M523.5 4.5L523.5 13.5L523.5 14.5L524.5 15.5L525.5 15.5M521.5 8.5L525.5 8.5" fill="none" stroke="#000" stroke-width="1" stroke-linecap="square"/>
<path d="M223.5 25.5L223.5 32.5M223.5 25.5L223.5 32.5M228.5 25.5L228.5 32.5M229.5 25.5L229.5 32.5M221.5 25.5L225.5 25.5M227.5 25.5L230.5 25.5M223.5 29.5L228.5 29.5M221.5 32.5L225.5 32.5M227.5 32.5L230.5 32.5M234.5 26.5L234.5 27.5L233.5 27.5L233.5 26.5L234.5 26.5L235.5 25.5L237.5 25.5L238.5 26.5L239.5 27.5L239.5 31.5L239.5 32.5L240.5 32.5M238.5 26.5L238.5 31.5L239.5 32.5L240.5 32.5M238.5 27.5L238.5 28.5L235.5 28.5L233.5 29.5L233.5 30.5L233.5 31.5L233.5 32.5L235.5 32.5L236.5 32.5L237.5 32.5L238.5 31.5M235.5 28.5L234.5 29.5L233.5 30.5L233.5 31.5L234.5 32.5L235.5 32.5M257.5 22.5L254.5 23.5L252.5 24.5L251.5 26.5L251.5 27.5L251.5 29.5L251.5 31.5L252.5 32.5L254.5 32.5L255.5 32.5L256.5 32.5L257.5 31.5L258.5 29.5L258.5 28.5L257.5 27.5L256.5 26.5L255.5 25.5L254.5 25.5L252.5 26.5L251.5 27.5L251.5 28.5M257.5 22.5L257.5 23.5L256.5 23.5L254.5 24.5L252.5 25.5L251.5 26.5M254.5 25.5L253.5 26.5L252.5 27.5L251.5 28.5L251.5 29.5L252.5 31.5L253.5 32.5L254.5 32.5M255.5 32.5L256.5 32.5L257.5 31.5L257.5 29.5L257.5 28.5L257.5 27.5L256.5 26.5L255.5 25.5M263.5 25.5L263.5 27.5L262.5 30.5L262.5 32.5L261.5 32.5L260.5 32.5L261.5 31.5L261.5 32.5M267.5 25.5L267.5 32.5M268.5 25.5L268.5 32.5M261.5 25.5L269.5 25.5M266.5 32.5L269.5 32.5M273.5 25.5L273.5 32.5M273.5 25.5L273.5 32.5M278.5 25.5L278.5 32.5M279.5 25.5L279.5 32.5M271.5 25.5L275.5 25.5M277.5 25.5L280.5 25.5M271.5 32.5L275.5 32.5M277.5 32.5L280.5 32.5M278.5 26.5L273.5 32.5M288.5 25.5L288.5 32.5M289.5 25.5L289.5 32.5M287.5 25.5L290.5 25.5M284.5 26.5L283.5 26.5L284.5 25.5L285.5 26.5L286.5 28.5L287.5 29.5L290.5 29.5L291.5 28.5L292.5 26.5L293.5 25.5L294.5 26.5L293.5 26.5M287.5 29.5L286.5 29.5L286.5 30.5L285.5 32.5L284.5 32.5M287.5 29.5L286.5 30.5L285.5 32.5L284.5 32.5L283.5 32.5L282.5 31.5M290.5 29.5L291.5 29.5L291.5 30.5L292.5 32.5L293.5 32.5M290.5 29.5L291.5 30.5L292.5 32.5L293.5 32.5L294.5 32.5L294.5 31.5M287.5 32.5L290.5 32.5M298.5 26.5L298.5 27.5L297.5 27.5L297.5 26.5L298.5 26.5L299.5 25.5L301.5 25.5L302.5 26.5L303.5 27.5L303.5 31.5L303.5 32.5L304.5 32.5M302.5 26.5L302.5 31.5L303.5 32.5L304.5 32.5M302.5 27.5L302.5 28.5L299.5 28.5L297.5 29.5L297.5 30.5L297.5 31.5L297.5 32.5L299.5 32.5L300.5 32.5L301.5 32.5L302.5 31.5M299.5 28.5L298.5 29.5L297.5 30.5L297.5 31.5L298.5 32.5L299.5 32.5M308.5 25.5L308.5 32.5M308.5 25.5L308.5 32.5M313.5 25.5L313.5 32.5M314.5 25.5L314.5 32.5M306.5 25.5L310.5 25.5M312.5 25.5L315.5 25.5M306.5 32.5L310.5 32.5M312.5 32.5L315.5 32.5M313.5 26.5L308.5 32.5M309.5 22.5L309.5 23.5L310.5 24.5L311.5 24.5L312.5 23.5L313.5 22.5M319.5 25.5L319.5 32.5M319.5 25.5L319.5 32.5M324.5 25.5L324.5 32.5M324.5 25.5L324.5 32.5M329.5 25.5L329.5 32.5M329.5 25.5L329.5 32.5M317.5 25.5L321.5 25.5M322.5 25.5L326.5 25.5M327.5 25.5L331.5 25.5M317.5 32.5L331.5 32.5M334.5 25.5L334.5 32.5M335.5 25.5L335.5 32.5M340.5 25.5L340.5 32.5M340.5 25.5L340.5 32.5M333.5 25.5L336.5 25.5M338.5 25.5L342.5 25.5M333.5 32.5L336.5 32.5M338.5 32.5L342.5 32.5M340.5 26.5L335.5 32.5M345.5 28.5L351.5 28.5L351.5 27.5L351.5 26.5L350.5 26.5L349.5 25.5L348.5 25.5L346.5 26.5L345.5 27.5L344.5 28.5L344.5 29.5L345.5 31.5L346.5 32.5L348.5 32.5L349.5 32.5L350.5 32.5L351.5 31.5M351.5 28.5L351.5 27.5L350.5 26.5M348.5 25.5L347.5 26.5L345.5 27.5L345.5 28.5L345.5 29.5L345.5 31.5L347.5 32.5L348.5 32.5M363.5 25.5L363.5 29.5L364.5 30.5L365.5 30.5L366.5 30.5L368.5 30.5L369.5 29.5M364.5 25.5L364.5 29.5L364.5 30.5L365.5 30.5M369.5 25.5L369.5 32.5M369.5 25.5L369.5 32.5M362.5 25.5L365.5 25.5M367.5 25.5L371.5 25.5M367.5 32.5L371.5 32.5M374.5 26.5L374.5 27.5L374.5 26.5L375.5 25.5L377.5 25.5L378.5 26.5L379.5 26.5L379.5 27.5L379.5 31.5L380.5 32.5M379.5 26.5L379.5 31.5L379.5 32.5L380.5 32.5L381.5 32.5M379.5 27.5L378.5 28.5L375.5 28.5L374.5 29.5L373.5 30.5L373.5 31.5L374.5 32.5L375.5 32.5L377.5 32.5L378.5 32.5L379.5 31.5M375.5 28.5L374.5 29.5L374.5 30.5L374.5 31.5L374.5 32.5L375.5 32.5M389.5 27.5L389.5 28.5L390.5 27.5L389.5 26.5L388.5 25.5L386.5 25.5L385.5 26.5L384.5 27.5L383.5 28.5L383.5 29.5L384.5 31.5L385.5 32.5L386.5 32.5L387.5 32.5L389.5 32.5L390.5 31.5M386.5 25.5L385.5 26.5L384.5 27.5L384.5 28.5L384.5 29.5L384.5 31.5L385.5 32.5L386.5 32.5M394.5 25.5L394.5 32.5M394.5 25.5L394.5 32.5M392.5 25.5L396.5 25.5M394.5 29.5L396.5 29.5L398.5 29.5L398.5 30.5L398.5 31.5L398.5 32.5L396.5 32.5L392.5 32.5M396.5 29.5L397.5 29.5L398.5 30.5L398.5 31.5L397.5 32.5L396.5 32.5M401.5 25.5L401.5 32.5M402.5 25.5L402.5 32.5M400.5 25.5L403.5 25.5M400.5 32.5L403.5 32.5" fill="none" stroke="#000" stroke-width="1" stroke-linecap="square"/>
<path d="M242.5 42.5L244.5 49.5M246.5 42.5L244.5 49.5M246.5 42.5L248.5 49.5M250.5 42.5L248.5 49.5M253.5 42.5L255.5 49.5M257.5 42.5L255.5 49.5M257.5 42.5L259.5 49.5M261.5 42.5L259.5 49.5M264.5 42.5L266.5 49.5M268.5 42.5L266.5 49.5M268.5 42.5L270.5 49.5M272.5 42.5L270.5 49.5M276.5 48.5L275.5 48.5L276.5 49.5L276.5 48.5M285.5 43.5L285.5 42.5L283.5 42.5L282.5 42.5L280.5 42.5L280.5 43.5L280.5 44.5L281.5 45.5L284.5 45.5L285.5 46.5L285.5 47.5L285.5 48.5L283.5 49.5L282.5 49.5L280.5 48.5L280.5 47.5M289.5 42.5L289.5 53.5M289.5 43.5L290.5 42.5L291.5 42.5L292.5 42.5L293.5 42.5L294.5 43.5L295.5 45.5L295.5 46.5L294.5 47.5L293.5 48.5L292.5 49.5L291.5 49.5L290.5 48.5L289.5 47.5M304.5 42.5L304.5 49.5M304.5 43.5L303.5 42.5L302.5 42.5L300.5 42.5L299.5 42.5L298.5 43.5L298.5 45.5L298.5 46.5L298.5 47.5L299.5 48.5L300.5 49.5L302.5 49.5L303.5 48.5L304.5 47.5M314.5 43.5L313.5 42.5L312.5 42.5L310.5 42.5L309.5 42.5L308.5 43.5L308.5 45.5L308.5 46.5L308.5 47.5L309.5 48.5L310.5 49.5L312.5 49.5L313.5 48.5L314.5 47.5M317.5 45.5L323.5 45.5L323.5 44.5L322.5 43.5L322.5 42.5L321.5 42.5L319.5 42.5L318.5 42.5L317.5 43.5L317.5 45.5L317.5 46.5L317.5 47.5L318.5 48.5L319.5 49.5L321.5 49.5L322.5 48.5L323.5 47.5M326.5 42.5L328.5 49.5M330.5 42.5L328.5 49.5M330.5 42.5L332.5 49.5M334.5 42.5L332.5 49.5M337.5 45.5L343.5 45.5L343.5 44.5L342.5 43.5L342.5 42.5L341.5 42.5L339.5 42.5L338.5 42.5L337.5 43.5L337.5 45.5L337.5 46.5L337.5 47.5L338.5 48.5L339.5 49.5L341.5 49.5L342.5 48.5L343.5 47.5M352.5 42.5L352.5 49.5M352.5 43.5L351.5 42.5L350.5 42.5L348.5 42.5L347.5 42.5L346.5 43.5L346.5 45.5L346.5 46.5L346.5 47.5L347.5 48.5L348.5 49.5L350.5 49.5L351.5 48.5L352.5 47.5M356.5 38.5L356.5 47.5L357.5 48.5L358.5 49.5L359.5 49.5M355.5 42.5L358.5 42.5M362.5 38.5L362.5 49.5M362.5 44.5L363.5 42.5L364.5 42.5L366.5 42.5L367.5 42.5L368.5 44.5L368.5 49.5M371.5 45.5L377.5 45.5L377.5 44.5L377.5 43.5L376.5 42.5L375.5 42.5L374.5 42.5L373.5 42.5L372.5 43.5L371.5 45.5L371.5 46.5L372.5 47.5L373.5 48.5L374.5 49.5L375.5 49.5L376.5 48.5L377.5 47.5M381.5 42.5L381.5 49.5M381.5 45.5L381.5 43.5L382.5 42.5L383.5 42.5L385.5 42.5M388.5 48.5L387.5 48.5L388.5 49.5L388.5 48.5M392.5 42.5L392.5 49.5M392.5 45.5L393.5 43.5L394.5 42.5L395.5 42.5L396.5 42.5M399.5 42.5L399.5 47.5L399.5 48.5L400.5 49.5L402.5 49.5L403.5 48.5L404.5 47.5M404.5 42.5L404.5 49.5" fill="none" stroke="#000" stroke-width="1" stroke-linecap="square"/>
<path d="M636.5 6.5L635.5 5.5L633.5 4.5L631.5 4.5L630.5 5.5L629.5 6.5L629.5 7.5L629.5 8.5L630.5 8.5L631.5 9.5L634.5 10.5L635.5 10.5L635.5 11.5L636.5 12.5L636.5 13.5L635.5 14.5L633.5 15.5L631.5 15.5L630.5 14.5L629.5 13.5M640.5 4.5L640.5 13.5L640.5 14.5L641.5 15.5L642.5 15.5M638.5 8.5L642.5 8.5M647.5 8.5L646.5 8.5L645.5 9.5L645.5 11.5L645.5 12.5L645.5 13.5L646.5 14.5L647.5 15.5L649.5 15.5L650.5 14.5L651.5 13.5L651.5 12.5L651.5 11.5L651.5 9.5L650.5 8.5L649.5 8.5L647.5 8.5M655.5 8.5L655.5 15.5M655.5 11.5L655.5 9.5L656.5 8.5L658.5 8.5L659.5 8.5M662.5 8.5L662.5 15.5M662.5 10.5L663.5 8.5L664.5 8.5L666.5 8.5L667.5 8.5L667.5 10.5L667.5 15.5M667.5 10.5L669.5 8.5L670.5 8.5L671.5 8.5L672.5 8.5L673.5 10.5L673.5 15.5M677.5 4.5L677.5 15.5M677.5 4.5L683.5 4.5M677.5 9.5L681.5 9.5M688.5 8.5L687.5 8.5L686.5 9.5L685.5 11.5L685.5 12.5L686.5 13.5L687.5 14.5L688.5 15.5L689.5 15.5L690.5 14.5L691.5 13.5L692.5 12.5L692.5 11.5L691.5 9.5L690.5 8.5L689.5 8.5L688.5 8.5M701.5 9.5L700.5 8.5L699.5 8.5L697.5 8.5L696.5 8.5L695.5 9.5L695.5 11.5L695.5 12.5L695.5 13.5L696.5 14.5L697.5 15.5L699.5 15.5L700.5 14.5L701.5 13.5M704.5 8.5L704.5 13.5L705.5 14.5L706.5 15.5L707.5 15.5L709.5 14.5L710.5 13.5M710.5 8.5L710.5 15.5M719.5 9.5L719.5 8.5L717.5 8.5L716.5 8.5L714.5 8.5L714.5 9.5L714.5 10.5L715.5 11.5L718.5 11.5L719.5 12.5L719.5 13.5L719.5 14.5L717.5 15.5L716.5 15.5L714.5 14.5L714.5 13.5" fill="none" stroke="#000" stroke-width="1" stroke-linecap="square"/>
<path d="M132.5 66.5L133.5 68.5L133.5 65.5L132.5 66.5L131.5 65.5L130.5 65.5L129.5 65.5L127.5 65.5L126.5 66.5L126.5 67.5L125.5 69.5L125.5 71.5L126.5 73.5L126.5 74.5L127.5 75.5L129.5 75.5L130.5 75.5L131.5 75.5L132.5 74.5L133.5 73.5M129.5 65.5L128.5 65.5L127.5 66.5L126.5 67.5L126.5 69.5L126.5 71.5L126.5 73.5L127.5 74.5L128.5 75.5L129.5 75.5M137.5 68.5L137.5 75.5M137.5 68.5L137.5 75.5M142.5 68.5L142.5 75.5M143.5 68.5L143.5 75.5M135.5 68.5L144.5 68.5M135.5 75.5L139.5 75.5M141.5 75.5L144.5 75.5M150.5 68.5L148.5 69.5L147.5 70.5L147.5 71.5L147.5 72.5L147.5 74.5L148.5 75.5L150.5 75.5L151.5 75.5L152.5 75.5L153.5 74.5L154.5 72.5L154.5 71.5L153.5 70.5L152.5 69.5L151.5 68.5L150.5 68.5M150.5 68.5L149.5 69.5L148.5 70.5L147.5 71.5L147.5 72.5L148.5 74.5L149.5 75.5L150.5 75.5M151.5 75.5L152.5 75.5L153.5 74.5L153.5 72.5L153.5 71.5L153.5 70.5L152.5 69.5L151.5 68.5M158.5 68.5L158.5 75.5M158.5 68.5L158.5 75.5M156.5 68.5L160.5 68.5M158.5 72.5L159.5 72.5L161.5 71.5L162.5 69.5L163.5 68.5L164.5 69.5L163.5 69.5M159.5 72.5L161.5 72.5L161.5 73.5L162.5 75.5L163.5 75.5M159.5 72.5L160.5 72.5L161.5 73.5L162.5 75.5L163.5 75.5L164.5 75.5L164.5 74.5M156.5 75.5L160.5 75.5M170.5 68.5L168.5 69.5L167.5 70.5L167.5 71.5L167.5 72.5L167.5 74.5L168.5 75.5L170.5 75.5L171.5 75.5L172.5 75.5L173.5 74.5L174.5 72.5L174.5 71.5L173.5 70.5L172.5 69.5L171.5 68.5L170.5 68.5M170.5 68.5L169.5 69.5L168.5 70.5L167.5 71.5L167.5 72.5L168.5 74.5L169.5 75.5L170.5 75.5M171.5 75.5L172.5 75.5L173.5 74.5L173.5 72.5L173.5 71.5L173.5 70.5L172.5 69.5L171.5 68.5M178.5 68.5L178.5 75.5M179.5 68.5L179.5 75.5M184.5 68.5L184.5 75.5M184.5 68.5L184.5 75.5M177.5 68.5L180.5 68.5M182.5 68.5L186.5 68.5M177.5 75.5L180.5 75.5M182.5 75.5L186.5 75.5M184.5 69.5L179.5 75.5M180.5 65.5L179.5 65.5L180.5 66.5L181.5 67.5L182.5 67.5L183.5 66.5L183.5 65.5M189.5 68.5L189.5 75.5M190.5 68.5L190.5 75.5M195.5 68.5L195.5 75.5M195.5 68.5L195.5 75.5M188.5 68.5L191.5 68.5M193.5 68.5L197.5 68.5M190.5 72.5L195.5 72.5M188.5 75.5L191.5 75.5M193.5 75.5L197.5 75.5M202.5 68.5L201.5 69.5L200.5 70.5L199.5 71.5L199.5 72.5L200.5 74.5L201.5 75.5L202.5 75.5L203.5 75.5L205.5 75.5L206.5 74.5L206.5 72.5L206.5 71.5L206.5 70.5L205.5 69.5L203.5 68.5L202.5 68.5M202.5 68.5L201.5 69.5L200.5 70.5L200.5 71.5L200.5 72.5L200.5 74.5L201.5 75.5L202.5 75.5M203.5 75.5L204.5 75.5L205.5 74.5L206.5 72.5L206.5 71.5L205.5 70.5L204.5 69.5L203.5 68.5M210.5 75.5L210.5 74.5L211.5 75.5L211.5 76.5L210.5 77.5M226.5 68.5L224.5 69.5L223.5 70.5L222.5 71.5L222.5 72.5L223.5 74.5L224.5 75.5L226.5 75.5L227.5 75.5L228.5 75.5L229.5 74.5L230.5 72.5L230.5 71.5L229.5 70.5L228.5 69.5L227.5 68.5L226.5 68.5M226.5 68.5L225.5 69.5L223.5 70.5L223.5 71.5L223.5 72.5L223.5 74.5L225.5 75.5L226.5 75.5M227.5 75.5L228.5 75.5L229.5 74.5L229.5 72.5L229.5 71.5L229.5 70.5L228.5 69.5L227.5 68.5M238.5 68.5L238.5 75.5M238.5 68.5L238.5 75.5M236.5 68.5L240.5 68.5M234.5 69.5L233.5 69.5L233.5 68.5L234.5 68.5L234.5 69.5L235.5 71.5L236.5 71.5L237.5 72.5L239.5 72.5L240.5 71.5L241.5 71.5L242.5 69.5L242.5 68.5L243.5 68.5L243.5 69.5L242.5 69.5M237.5 72.5L236.5 72.5L235.5 73.5L234.5 75.5M237.5 72.5L236.5 73.5L235.5 75.5L234.5 75.5L233.5 75.5L232.5 74.5M239.5 72.5L240.5 72.5L241.5 73.5L242.5 75.5M239.5 72.5L240.5 73.5L241.5 75.5L242.5 75.5L243.5 75.5L244.5 74.5M236.5 75.5L240.5 75.5M247.5 68.5L247.5 75.5M248.5 68.5L248.5 75.5M253.5 68.5L253.5 75.5M253.5 68.5L253.5 75.5M246.5 68.5L249.5 68.5M251.5 68.5L255.5 68.5M246.5 75.5L249.5 75.5M251.5 75.5L255.5 75.5M253.5 69.5L248.5 75.5M260.5 68.5L260.5 70.5L259.5 73.5L259.5 75.5L258.5 75.5M264.5 68.5L264.5 75.5M265.5 68.5L265.5 75.5M258.5 68.5L266.5 68.5M257.5 75.5L257.5 78.5L257.5 75.5L266.5 75.5L266.5 78.5L266.5 75.5M270.5 69.5L270.5 70.5L269.5 70.5L269.5 69.5L270.5 69.5L271.5 68.5L273.5 68.5L274.5 69.5L275.5 70.5L275.5 74.5L276.5 75.5M274.5 69.5L274.5 74.5L275.5 75.5L276.5 75.5L277.5 75.5M274.5 70.5L274.5 71.5L271.5 71.5L269.5 72.5L269.5 73.5L269.5 74.5L269.5 75.5L271.5 75.5L272.5 75.5L273.5 75.5L274.5 74.5M271.5 71.5L270.5 72.5L269.5 73.5L269.5 74.5L270.5 75.5L271.5 75.5M280.5 71.5L286.5 71.5L286.5 70.5L285.5 69.5L284.5 68.5L282.5 68.5L281.5 69.5L280.5 70.5L279.5 71.5L279.5 72.5L280.5 74.5L281.5 75.5L282.5 75.5L283.5 75.5L285.5 75.5L286.5 74.5M285.5 71.5L285.5 70.5L285.5 69.5M282.5 68.5L281.5 69.5L280.5 70.5L280.5 71.5L280.5 72.5L280.5 74.5L281.5 75.5L282.5 75.5M290.5 68.5L290.5 75.5M290.5 68.5L293.5 75.5M290.5 68.5L293.5 74.5M296.5 68.5L293.5 75.5M296.5 68.5L296.5 75.5M296.5 68.5L296.5 75.5M288.5 68.5L290.5 68.5M296.5 68.5L298.5 68.5M288.5 75.5L291.5 75.5M294.5 75.5L298.5 75.5M301.5 68.5L301.5 75.5M302.5 68.5L302.5 75.5M300.5 68.5L303.5 68.5M302.5 72.5L304.5 72.5L305.5 72.5L306.5 73.5L306.5 74.5L305.5 75.5L304.5 75.5L300.5 75.5M304.5 72.5L305.5 72.5L305.5 73.5L305.5 74.5L305.5 75.5L304.5 75.5M309.5 68.5L309.5 75.5M309.5 68.5L309.5 75.5M307.5 68.5L311.5 68.5M307.5 75.5L311.5 75.5M314.5 68.5L314.5 75.5M315.5 68.5L315.5 75.5M320.5 68.5L320.5 75.5M320.5 68.5L320.5 75.5M313.5 68.5L316.5 68.5M318.5 68.5L322.5 68.5M313.5 75.5L316.5 75.5M318.5 75.5L322.5 75.5M320.5 69.5L315.5 75.5M316.5 65.5L315.5 65.5L316.5 66.5L317.5 67.5L318.5 67.5L319.5 66.5L319.5 65.5M333.5 69.5L333.5 76.5M333.5 71.5L335.5 69.5L336.5 69.5L337.5 69.5L338.5 69.5L339.5 71.5L339.5 76.5M339.5 71.5L340.5 69.5L341.5 69.5L343.5 69.5L344.5 69.5L344.5 71.5L344.5 76.5M348.5 65.5L348.5 66.5L349.5 65.5L348.5 65.5M348.5 69.5L348.5 76.5M352.5 69.5L352.5 76.5M352.5 71.5L354.5 69.5L355.5 69.5L356.5 69.5L357.5 69.5L358.5 71.5L358.5 76.5M370.5 65.5L370.5 76.5M370.5 65.5L373.5 65.5L375.5 66.5L376.5 67.5L377.5 68.5L377.5 69.5L377.5 72.5L377.5 73.5L376.5 74.5L375.5 75.5L373.5 76.5L370.5 76.5M386.5 70.5L385.5 69.5L384.5 69.5L382.5 69.5L381.5 69.5L380.5 70.5L381.5 71.5L382.5 72.5L384.5 72.5L385.5 73.5L386.5 74.5L385.5 75.5L384.5 76.5L382.5 76.5L381.5 75.5L380.5 74.5M390.5 65.5L390.5 74.5L390.5 75.5L391.5 76.5L392.5 76.5M388.5 69.5L392.5 69.5M396.5 69.5L395.5 69.5L396.5 70.5L396.5 69.5M396.5 75.5L395.5 75.5L396.5 76.5L396.5 75.5M408.5 71.5L418.5 71.5M422.5 65.5L428.5 65.5L424.5 69.5L426.5 69.5L427.5 70.5L428.5 70.5L428.5 72.5L428.5 73.5L428.5 74.5L427.5 75.5L425.5 76.5L423.5 76.5L422.5 75.5L421.5 75.5L421.5 74.5M437.5 65.5L432.5 65.5L432.5 70.5L432.5 69.5L434.5 69.5L435.5 69.5L437.5 69.5L438.5 70.5L438.5 72.5L438.5 73.5L438.5 74.5L437.5 75.5L435.5 76.5L434.5 76.5L432.5 75.5L431.5 74.5M450.5 69.5L450.5 76.5M450.5 71.5L451.5 69.5L452.5 69.5L454.5 69.5L455.5 69.5L455.5 71.5L455.5 76.5M461.5 65.5L461.5 76.5M458.5 65.5L465.5 65.5" fill="none" stroke="#000" stroke-width="1" stroke-linecap="square"/>
<rect x="596" y="91" width="24" height="1" fill="#0000ff"/>
<rect x="593" y="89" width="7" height="6" fill="#0000ff"/>
<rect x="616" y="89" width="7" height="6" fill="#0000ff"/>
<path d="M626.5 87.5L626.5 96.5M626.5 87.5L629.5 87.5L630.5 88.5L631.5 88.5L631.5 89.5L632.5 91.5L632.5 93.5L631.5 94.5L631.5 95.5L630.5 96.5L629.5 96.5L626.5 96.5M639.5 91.5L637.5 90.5L636.5 90.5L635.5 91.5L634.5 91.5L635.5 92.5L636.5 93.5L638.5 93.5L639.5 93.5L639.5 94.5L639.5 95.5L639.5 96.5L637.5 96.5L636.5 96.5L635.5 96.5L634.5 95.5M642.5 87.5L642.5 94.5L643.5 96.5L644.5 96.5M641.5 90.5L644.5 90.5M648.5 96.5L647.5 96.5L647.5 95.5L648.5 96.5L647.5 97.5L647.5 98.5M658.5 87.5L658.5 95.5M659.5 87.5L659.5 95.5M657.5 87.5L660.5 87.5M659.5 91.5L662.5 91.5L663.5 90.5L663.5 88.5L664.5 87.5L665.5 87.5L665.5 88.5L664.5 87.5L665.5 87.5M662.5 91.5L663.5 91.5L663.5 92.5L663.5 94.5L664.5 95.5M662.5 91.5L663.5 92.5L663.5 94.5L663.5 95.5L664.5 95.5L665.5 95.5L665.5 94.5M657.5 95.5L660.5 95.5M668.5 90.5L668.5 95.5M669.5 90.5L669.5 95.5M673.5 90.5L673.5 95.5M673.5 90.5L673.5 95.5M667.5 90.5L670.5 90.5M672.5 90.5L675.5 90.5M667.5 95.5L670.5 95.5M672.5 95.5L675.5 95.5M673.5 90.5L669.5 95.5M679.5 90.5L678.5 90.5L677.5 91.5L677.5 92.5L677.5 93.5L677.5 94.5L678.5 95.5L679.5 95.5L680.5 95.5L681.5 95.5L682.5 94.5L683.5 93.5L683.5 92.5L682.5 91.5L681.5 90.5L680.5 90.5L679.5 90.5M679.5 90.5L678.5 90.5L678.5 91.5L677.5 92.5L677.5 93.5L678.5 94.5L678.5 95.5L679.5 95.5M680.5 95.5L681.5 95.5L682.5 94.5L682.5 93.5L682.5 92.5L682.5 91.5L681.5 90.5L680.5 90.5M688.5 90.5L688.5 95.5M688.5 90.5L688.5 95.5M686.5 90.5L685.5 92.5L685.5 90.5L691.5 90.5L691.5 92.5L690.5 90.5M686.5 95.5L689.5 95.5M696.5 90.5L694.5 90.5L694.5 91.5L693.5 92.5L693.5 93.5L694.5 94.5L694.5 95.5L696.5 95.5L697.5 95.5L698.5 95.5L699.5 94.5L699.5 93.5L699.5 92.5L699.5 91.5L698.5 90.5L697.5 90.5L696.5 90.5M696.5 90.5L695.5 90.5L694.5 91.5L694.5 92.5L694.5 93.5L694.5 94.5L695.5 95.5L696.5 95.5M697.5 95.5L698.5 94.5L699.5 93.5L699.5 92.5L698.5 91.5L697.5 90.5" fill="none" stroke="#000" stroke-width="1" stroke-linecap="square"/>
<rect x="596" y="118" width="24" height="1" fill="#00ffff"/>
<rect x="594" y="117" width="5" height="4" fill="#00ffff"/>
<rect x="617" y="117" width="5" height="4" fill="#00ffff"/>
<path d="M627.5 115.5L627.5 123.5M628.5 115.5L628.5 123.5M626.5 115.5L631.5 115.5L632.5 115.5L633.5 115.5L633.5 116.5L633.5 117.5L633.5 118.5L632.5 118.5L631.5 119.5M631.5 115.5L632.5 115.5L633.5 116.5L633.5 117.5L632.5 118.5L631.5 119.5M628.5 119.5L631.5 119.5L632.5 119.5L633.5 120.5L633.5 122.5L633.5 123.5L632.5 123.5L631.5 123.5L626.5 123.5M631.5 119.5L632.5 119.5L632.5 120.5L633.5 120.5L633.5 122.5L632.5 123.5L631.5 123.5M638.5 118.5L637.5 118.5L636.5 119.5L636.5 120.5L636.5 121.5L636.5 122.5L637.5 123.5L638.5 123.5L639.5 123.5L640.5 123.5L641.5 122.5L642.5 121.5L642.5 120.5L641.5 119.5L640.5 118.5L639.5 118.5L638.5 118.5M638.5 118.5L637.5 118.5L637.5 119.5L636.5 120.5L636.5 121.5L637.5 122.5L637.5 123.5L638.5 123.5M639.5 123.5L640.5 123.5L641.5 122.5L641.5 121.5L641.5 120.5L641.5 119.5L640.5 118.5L639.5 118.5M649.5 119.5L649.5 120.5L650.5 119.5L649.5 118.5L648.5 118.5L647.5 118.5L645.5 118.5L645.5 119.5L644.5 120.5L644.5 121.5L645.5 122.5L645.5 123.5L647.5 123.5L649.5 123.5L650.5 122.5M647.5 118.5L646.5 118.5L645.5 119.5L645.5 120.5L645.5 121.5L645.5 122.5L646.5 123.5L647.5 123.5M657.5 119.5L657.5 120.5L658.5 119.5L657.5 118.5L656.5 118.5L655.5 118.5L653.5 118.5L653.5 119.5L652.5 120.5L652.5 121.5L653.5 122.5L653.5 123.5L655.5 123.5L657.5 123.5L658.5 122.5M655.5 118.5L654.5 118.5L653.5 119.5L653.5 120.5L653.5 121.5L653.5 122.5L654.5 123.5L655.5 123.5M663.5 118.5L663.5 123.5M663.5 118.5L663.5 123.5M660.5 118.5L660.5 120.5L660.5 118.5L666.5 118.5L666.5 120.5L665.5 118.5M661.5 123.5L664.5 123.5M669.5 118.5L669.5 119.5L668.5 119.5L668.5 118.5L669.5 118.5L670.5 118.5L671.5 118.5L672.5 118.5L673.5 118.5L673.5 119.5L673.5 122.5L674.5 123.5M673.5 118.5L673.5 122.5L673.5 123.5L674.5 123.5M673.5 119.5L672.5 120.5L670.5 120.5L668.5 120.5L668.5 121.5L668.5 122.5L668.5 123.5L670.5 123.5L671.5 123.5L672.5 123.5L673.5 122.5M670.5 120.5L669.5 120.5L668.5 121.5L668.5 122.5L669.5 123.5L670.5 123.5M677.5 118.5L677.5 123.5M678.5 118.5L678.5 123.5M682.5 118.5L682.5 123.5M682.5 118.5L682.5 123.5M676.5 118.5L679.5 118.5M681.5 118.5L684.5 118.5M678.5 120.5L682.5 120.5M676.5 123.5L679.5 123.5M681.5 123.5L684.5 123.5M688.5 118.5L687.5 118.5L686.5 119.5L686.5 120.5L686.5 121.5L686.5 122.5L687.5 123.5L688.5 123.5L689.5 123.5L690.5 123.5L691.5 122.5L692.5 121.5L692.5 120.5L691.5 119.5L690.5 118.5L689.5 118.5L688.5 118.5M688.5 118.5L687.5 118.5L687.5 119.5L686.5 120.5L686.5 121.5L687.5 122.5L687.5 123.5L688.5 123.5M689.5 123.5L690.5 123.5L691.5 122.5L691.5 121.5L691.5 120.5L691.5 119.5L690.5 118.5L689.5 118.5M695.5 118.5L695.5 123.5M695.5 118.5L695.5 123.5M694.5 118.5L698.5 118.5L700.5 118.5L700.5 119.5L700.5 120.5L698.5 120.5M698.5 118.5L699.5 118.5L700.5 119.5L699.5 120.5L698.5 120.5M695.5 120.5L698.5 120.5L700.5 121.5L700.5 122.5L700.5 123.5L698.5 123.5L694.5 123.5M698.5 120.5L699.5 121.5L700.5 122.5L699.5 123.5L698.5 123.5M704.5 118.5L704.5 119.5L704.5 122.5L703.5 123.5L702.5 123.5L703.5 123.5M708.5 118.5L708.5 123.5M708.5 118.5L708.5 123.5M703.5 118.5L710.5 118.5M707.5 123.5L710.5 123.5M712.5 120.5L717.5 120.5L717.5 119.5L717.5 118.5L716.5 118.5L714.5 118.5L713.5 118.5L712.5 119.5L712.5 120.5L712.5 121.5L712.5 122.5L713.5 123.5L714.5 123.5L715.5 123.5L716.5 123.5L717.5 122.5M717.5 120.5L717.5 119.5L716.5 118.5M714.5 118.5L713.5 118.5L713.5 119.5L712.5 120.5L712.5 121.5L713.5 122.5L713.5 123.5L714.5 123.5M721.5 118.5L721.5 123.5M721.5 118.5L721.5 123.5M725.5 118.5L725.5 123.5M726.5 118.5L726.5 123.5M719.5 118.5L722.5 118.5M724.5 118.5L727.5 118.5M721.5 120.5L725.5 120.5M719.5 123.5L722.5 123.5M724.5 123.5L727.5 123.5M730.5 118.5L730.5 123.5M730.5 118.5L730.5 123.5M734.5 118.5L734.5 123.5M735.5 118.5L735.5 123.5M729.5 118.5L731.5 118.5M733.5 118.5L736.5 118.5M730.5 120.5L734.5 120.5M729.5 123.5L731.5 123.5M733.5 123.5L736.5 123.5M739.5 118.5L739.5 123.5M739.5 118.5L739.5 123.5M738.5 118.5L741.5 118.5M739.5 120.5L741.5 120.5L742.5 121.5L743.5 122.5L742.5 123.5L741.5 123.5L738.5 123.5M741.5 120.5L742.5 121.5L742.5 122.5L742.5 123.5L741.5 123.5M745.5 118.5L745.5 123.5M746.5 118.5L746.5 123.5M744.5 118.5L747.5 118.5M744.5 123.5L747.5 123.5M750.5 118.5L750.5 123.5M750.5 118.5L750.5 123.5M755.5 118.5L755.5 123.5M755.5 118.5L755.5 123.5M749.5 118.5L752.5 118.5M753.5 118.5L756.5 118.5M749.5 123.5L752.5 123.5M753.5 123.5L756.5 123.5M755.5 118.5L750.5 123.5M751.5 115.5L751.5 116.5L752.5 116.5L753.5 116.5L754.5 116.5L754.5 115.5" fill="none" stroke="#000" stroke-width="1" stroke-linecap="square"/>
<path d="M626.5 132.5L626.5 141.5M626.5 132.5L629.5 132.5L630.5 133.5L631.5 133.5L631.5 134.5L632.5 136.5L632.5 138.5L631.5 139.5L631.5 140.5L630.5 141.5L629.5 141.5L626.5 141.5M639.5 136.5L637.5 135.5L636.5 135.5L635.5 136.5L634.5 136.5L635.5 137.5L636.5 138.5L638.5 138.5L639.5 138.5L639.5 139.5L639.5 140.5L639.5 141.5L637.5 141.5L636.5 141.5L635.5 141.5L634.5 140.5M642.5 132.5L642.5 139.5L643.5 141.5L644.5 141.5M641.5 135.5L644.5 135.5" fill="none" stroke="#000" stroke-width="1" stroke-linecap="square"/>
<rect x="595" y="163" width="2" height="3" fill="#0000ff"/>
<rect x="600" y="163" width="2" height="3" fill="#0000ff"/>
<rect x="605" y="163" width="2" height="3" fill="#0000ff"/>
<rect x="610" y="163" width="2" height="3" fill="#0000ff"/>
<rect x="615" y="163" width="2" height="3" fill="#0000ff"/>
<rect x="620" y="163" width="2" height="3" fill="#0000ff"/>
<path d="M627.5 159.5L627.5 167.5M628.5 159.5L628.5 167.5M633.5 159.5L633.5 167.5M633.5 159.5L633.5 167.5M626.5 159.5L634.5 159.5M626.5 167.5L629.5 167.5M632.5 167.5L634.5 167.5M637.5 162.5L637.5 170.5M638.5 162.5L638.5 170.5M638.5 163.5L639.5 162.5L640.5 162.5L642.5 162.5L642.5 163.5L643.5 164.5L643.5 165.5L642.5 166.5L642.5 167.5L640.5 167.5L639.5 167.5L638.5 166.5M640.5 162.5L641.5 162.5L642.5 163.5L642.5 164.5L642.5 165.5L642.5 166.5L641.5 167.5L640.5 167.5M636.5 162.5L638.5 162.5M636.5 170.5L639.5 170.5M648.5 162.5L647.5 162.5L646.5 163.5L645.5 164.5L645.5 165.5L646.5 166.5L647.5 167.5L648.5 167.5L649.5 167.5L650.5 167.5L651.5 166.5L651.5 165.5L651.5 164.5L651.5 163.5L650.5 162.5L649.5 162.5L648.5 162.5M648.5 162.5L647.5 162.5L646.5 163.5L646.5 164.5L646.5 165.5L646.5 166.5L647.5 167.5L648.5 167.5M649.5 167.5L650.5 167.5L650.5 166.5L651.5 165.5L651.5 164.5L650.5 163.5L650.5 162.5L649.5 162.5M655.5 162.5L655.5 167.5M655.5 162.5L655.5 167.5M653.5 162.5L659.5 162.5L659.5 164.5L659.5 162.5M653.5 167.5L656.5 167.5M662.5 162.5L662.5 167.5M663.5 162.5L663.5 167.5M667.5 162.5L667.5 167.5M667.5 162.5L667.5 167.5M661.5 162.5L664.5 162.5M666.5 162.5L668.5 162.5M663.5 164.5L667.5 164.5M661.5 167.5L664.5 167.5M666.5 167.5L668.5 167.5M673.5 162.5L672.5 162.5L671.5 163.5L671.5 164.5L671.5 165.5L671.5 166.5L672.5 167.5L673.5 167.5L674.5 167.5L675.5 167.5L676.5 166.5L676.5 165.5L676.5 164.5L676.5 163.5L675.5 162.5L674.5 162.5L673.5 162.5M673.5 162.5L672.5 162.5L671.5 163.5L671.5 164.5L671.5 165.5L671.5 166.5L672.5 167.5L673.5 167.5M674.5 167.5L675.5 167.5L676.5 166.5L676.5 165.5L676.5 164.5L676.5 163.5L675.5 162.5L674.5 162.5M679.5 162.5L679.5 163.5L679.5 162.5L680.5 162.5L681.5 162.5L682.5 162.5L684.5 162.5L684.5 163.5L684.5 164.5L682.5 164.5M682.5 162.5L683.5 162.5L684.5 163.5L683.5 164.5L682.5 164.5M681.5 164.5L682.5 164.5L684.5 165.5L684.5 166.5L684.5 167.5L682.5 167.5L681.5 167.5L679.5 167.5L679.5 166.5L679.5 165.5L680.5 166.5L679.5 166.5M682.5 164.5L683.5 165.5L684.5 166.5L683.5 167.5L682.5 167.5M694.5 159.5L694.5 168.5M694.5 159.5L697.5 159.5L698.5 160.5L699.5 160.5L699.5 161.5L700.5 163.5L700.5 165.5L699.5 166.5L699.5 167.5L698.5 168.5L697.5 168.5L694.5 168.5M707.5 163.5L706.5 163.5L705.5 162.5L704.5 162.5L702.5 163.5L702.5 164.5L703.5 165.5L705.5 165.5L706.5 165.5L707.5 166.5L707.5 167.5L706.5 168.5L705.5 168.5L704.5 168.5L702.5 168.5L702.5 167.5M710.5 159.5L710.5 166.5L710.5 168.5L711.5 168.5L712.5 168.5M709.5 162.5L712.5 162.5" fill="none" stroke="#000" stroke-width="1" stroke-linecap="square"/>
<path d="M627.5 180.5L627.5 185.5M628.5 180.5L628.5 185.5M632.5 180.5L632.5 185.5M632.5 180.5L632.5 185.5M626.5 180.5L629.5 180.5M631.5 180.5L634.5 180.5M628.5 182.5L632.5 182.5M626.5 185.5L629.5 185.5M631.5 185.5L634.5 185.5M637.5 180.5L637.5 181.5L636.5 181.5L636.5 180.5L637.5 180.5L639.5 180.5L640.5 180.5L641.5 181.5L641.5 184.5L641.5 185.5L642.5 185.5M640.5 180.5L640.5 184.5L641.5 185.5L642.5 185.5M640.5 181.5L640.5 182.5L637.5 182.5L636.5 182.5L636.5 183.5L636.5 184.5L636.5 185.5L637.5 185.5L639.5 185.5L640.5 184.5M637.5 182.5L636.5 183.5L636.5 184.5L637.5 185.5M651.5 178.5L652.5 179.5L651.5 179.5L651.5 178.5L651.5 177.5L652.5 177.5L653.5 177.5L655.5 177.5L656.5 177.5L657.5 178.5L657.5 179.5L656.5 180.5L655.5 181.5L653.5 182.5L652.5 182.5L651.5 183.5L651.5 184.5L651.5 185.5M655.5 177.5L656.5 177.5L656.5 178.5L656.5 179.5L656.5 180.5L655.5 181.5L653.5 182.5M651.5 185.5L651.5 184.5L652.5 184.5L654.5 185.5L655.5 185.5L656.5 185.5L657.5 184.5M652.5 184.5L654.5 185.5L656.5 185.5L657.5 184.5L657.5 183.5M658.5 182.5L667.5 182.5M672.5 177.5L672.5 185.5M673.5 177.5L673.5 185.5M673.5 177.5L668.5 183.5L675.5 183.5M671.5 185.5L674.5 185.5M684.5 180.5L684.5 182.5L685.5 183.5L686.5 184.5L687.5 184.5L688.5 183.5L689.5 182.5M685.5 180.5L685.5 182.5L685.5 183.5L686.5 184.5M689.5 180.5L689.5 185.5M689.5 180.5L689.5 185.5M683.5 180.5L686.5 180.5M688.5 180.5L691.5 180.5M688.5 185.5L691.5 185.5M694.5 180.5L694.5 181.5L693.5 181.5L693.5 180.5L694.5 180.5L695.5 180.5L696.5 180.5L697.5 180.5L698.5 181.5L698.5 184.5L698.5 185.5L699.5 185.5M697.5 180.5L697.5 184.5L698.5 185.5L699.5 185.5M697.5 181.5L697.5 182.5L695.5 182.5L693.5 182.5L693.5 183.5L693.5 184.5L693.5 185.5L695.5 185.5L696.5 185.5L697.5 185.5L697.5 184.5M695.5 182.5L694.5 182.5L693.5 183.5L693.5 184.5L694.5 185.5L695.5 185.5M706.5 181.5L706.5 182.5L707.5 181.5L706.5 180.5L705.5 180.5L704.5 180.5L702.5 180.5L702.5 181.5L701.5 182.5L701.5 183.5L702.5 184.5L702.5 185.5L704.5 185.5L705.5 185.5L706.5 185.5L707.5 184.5M704.5 180.5L703.5 180.5L702.5 181.5L702.5 182.5L702.5 183.5L702.5 184.5L703.5 185.5L704.5 185.5M710.5 180.5L710.5 181.5L710.5 180.5L711.5 180.5L713.5 180.5L714.5 180.5L714.5 181.5L714.5 184.5L715.5 185.5M714.5 180.5L714.5 184.5L714.5 185.5L715.5 185.5L716.5 185.5M714.5 181.5L713.5 182.5L711.5 182.5L710.5 182.5L709.5 183.5L709.5 184.5L710.5 185.5L711.5 185.5L712.5 185.5L713.5 185.5L714.5 184.5M711.5 182.5L710.5 182.5L710.5 183.5L710.5 184.5L710.5 185.5L711.5 185.5" fill="none" stroke="#000" stroke-width="1" stroke-linecap="square"/>
<rect x="593" y="207" width="29" height="2" fill="#ff0000"/>
<path d="M627.5 204.5L627.5 212.5M628.5 204.5L628.5 212.5M633.5 204.5L633.5 212.5M633.5 204.5L633.5 212.5M626.5 204.5L634.5 204.5M626.5 212.5L629.5 212.5M632.5 212.5L634.5 212.5M637.5 207.5L637.5 215.5M638.5 207.5L638.5 215.5M638.5 208.5L639.5 207.5L640.5 207.5L642.5 207.5L642.5 208.5L643.5 209.5L643.5 210.5L642.5 211.5L642.5 212.5L640.5 212.5L639.5 212.5L638.5 211.5M640.5 207.5L641.5 207.5L642.5 208.5L642.5 209.5L642.5 210.5L642.5 211.5L641.5 212.5L640.5 212.5M636.5 207.5L638.5 207.5M636.5 215.5L639.5 215.5M648.5 207.5L647.5 207.5L646.5 208.5L645.5 209.5L645.5 210.5L646.5 211.5L647.5 212.5L648.5 212.5L649.5 212.5L650.5 212.5L651.5 211.5L651.5 210.5L651.5 209.5L651.5 208.5L650.5 207.5L649.5 207.5L648.5 207.5M648.5 207.5L647.5 207.5L646.5 208.5L646.5 209.5L646.5 210.5L646.5 211.5L647.5 212.5L648.5 212.5M649.5 212.5L650.5 212.5L650.5 211.5L651.5 210.5L651.5 209.5L650.5 208.5L650.5 207.5L649.5 207.5M655.5 207.5L655.5 212.5M655.5 207.5L655.5 212.5M653.5 207.5L659.5 207.5L659.5 209.5L659.5 207.5M653.5 212.5L656.5 212.5M662.5 207.5L662.5 212.5M663.5 207.5L663.5 212.5M667.5 207.5L667.5 212.5M667.5 207.5L667.5 212.5M661.5 207.5L664.5 207.5M666.5 207.5L668.5 207.5M663.5 209.5L667.5 209.5M661.5 212.5L664.5 212.5M666.5 212.5L668.5 212.5M673.5 207.5L672.5 207.5L671.5 208.5L671.5 209.5L671.5 210.5L671.5 211.5L672.5 212.5L673.5 212.5L674.5 212.5L675.5 212.5L676.5 211.5L676.5 210.5L676.5 209.5L676.5 208.5L675.5 207.5L674.5 207.5L673.5 207.5M673.5 207.5L672.5 207.5L671.5 208.5L671.5 209.5L671.5 210.5L671.5 211.5L672.5 212.5L673.5 212.5M674.5 212.5L675.5 212.5L676.5 211.5L676.5 210.5L676.5 209.5L676.5 208.5L675.5 207.5L674.5 207.5M679.5 207.5L679.5 208.5L679.5 207.5L680.5 207.5L681.5 207.5L682.5 207.5L684.5 207.5L684.5 208.5L684.5 209.5L682.5 209.5M682.5 207.5L683.5 207.5L684.5 208.5L683.5 209.5L682.5 209.5M681.5 209.5L682.5 209.5L684.5 210.5L684.5 211.5L684.5 212.5L682.5 212.5L681.5 212.5L679.5 212.5L679.5 211.5L679.5 210.5L680.5 211.5L679.5 211.5M682.5 209.5L683.5 210.5L684.5 211.5L683.5 212.5L682.5 212.5" fill="none" stroke="#000" stroke-width="1" stroke-linecap="square"/>
<path d="M632.5 222.5L631.5 222.5L632.5 223.5L632.5 222.5L631.5 221.5L630.5 221.5L629.5 221.5L628.5 221.5L627.5 222.5L626.5 223.5L626.5 224.5L627.5 225.5L628.5 226.5L629.5 226.5L630.5 226.5L631.5 226.5L632.5 225.5M629.5 221.5L628.5 221.5L627.5 222.5L627.5 223.5L627.5 224.5L627.5 225.5L628.5 226.5L629.5 226.5M635.5 221.5L635.5 226.5M636.5 221.5L636.5 226.5M640.5 221.5L640.5 226.5M640.5 221.5L640.5 226.5M634.5 221.5L637.5 221.5M639.5 221.5L642.5 221.5M634.5 226.5L637.5 226.5M639.5 226.5L642.5 226.5M640.5 221.5L636.5 226.5M645.5 221.5L645.5 222.5L645.5 225.5L645.5 226.5L644.5 226.5L643.5 226.5L644.5 226.5M649.5 221.5L649.5 226.5M650.5 221.5L650.5 226.5M644.5 221.5L651.5 221.5M648.5 226.5L651.5 226.5M654.5 221.5L654.5 226.5M654.5 221.5L654.5 226.5M653.5 221.5L655.5 221.5M654.5 223.5L656.5 223.5L657.5 224.5L658.5 225.5L657.5 226.5L656.5 226.5L653.5 226.5M656.5 223.5L657.5 224.5L657.5 225.5L657.5 226.5L656.5 226.5M660.5 221.5L660.5 226.5M660.5 221.5L660.5 226.5M659.5 221.5L662.5 221.5M659.5 226.5L662.5 226.5M676.5 218.5L673.5 219.5L672.5 220.5L671.5 221.5L671.5 222.5L671.5 224.5L671.5 225.5L672.5 226.5L673.5 226.5L674.5 226.5L675.5 226.5L676.5 225.5L676.5 224.5L676.5 223.5L676.5 222.5L675.5 221.5L674.5 221.5L673.5 221.5L672.5 221.5L671.5 222.5L671.5 223.5M676.5 218.5L675.5 219.5L673.5 219.5L672.5 220.5L671.5 221.5M673.5 221.5L672.5 221.5L671.5 222.5L671.5 223.5L671.5 224.5L671.5 225.5L672.5 226.5L673.5 226.5M674.5 226.5L675.5 226.5L676.5 225.5L676.5 224.5L676.5 223.5L676.5 222.5L675.5 221.5L674.5 221.5M679.5 221.5L681.5 226.5M679.5 221.5L681.5 226.5M684.5 221.5L681.5 226.5L681.5 228.5L680.5 229.5L679.5 229.5L678.5 229.5L679.5 229.5M678.5 221.5L681.5 221.5M682.5 221.5L685.5 221.5M687.5 221.5L687.5 229.5M688.5 221.5L688.5 229.5M688.5 222.5L689.5 221.5L690.5 221.5L692.5 221.5L692.5 222.5L693.5 223.5L693.5 224.5L692.5 225.5L692.5 226.5L690.5 226.5L689.5 226.5L688.5 225.5M690.5 221.5L691.5 221.5L692.5 222.5L692.5 223.5L692.5 224.5L692.5 225.5L691.5 226.5L690.5 226.5M686.5 221.5L688.5 221.5M686.5 229.5L689.5 229.5M696.5 221.5L696.5 226.5M697.5 221.5L697.5 226.5M701.5 221.5L701.5 226.5M701.5 221.5L701.5 226.5M695.5 221.5L698.5 221.5M700.5 221.5L702.5 221.5M695.5 226.5L698.5 226.5M700.5 226.5L702.5 226.5M701.5 221.5L697.5 226.5" fill="none" stroke="#000" stroke-width="1" stroke-linecap="square"/>
<path d="M629.5 232.5L628.5 232.5L627.5 234.5L626.5 235.5L626.5 237.5L626.5 239.5L626.5 241.5L627.5 243.5L628.5 244.5L629.5 245.5M632.5 236.5L632.5 242.5M632.5 238.5L633.5 237.5L634.5 236.5L635.5 236.5L636.5 237.5L636.5 238.5L636.5 242.5M636.5 238.5L638.5 237.5L639.5 236.5L640.5 236.5L641.5 237.5L641.5 238.5L641.5 242.5M644.5 233.5L644.5 234.5L645.5 233.5L644.5 233.5M644.5 236.5L644.5 242.5M648.5 236.5L648.5 242.5M648.5 238.5L649.5 237.5L650.5 236.5L651.5 236.5L652.5 237.5L652.5 238.5L652.5 242.5M663.5 233.5L663.5 242.5M663.5 233.5L665.5 233.5L667.5 234.5L668.5 234.5L668.5 235.5L668.5 237.5L668.5 239.5L668.5 240.5L668.5 241.5L667.5 242.5L665.5 242.5L663.5 242.5M676.5 237.5L675.5 237.5L674.5 236.5L673.5 236.5L671.5 237.5L671.5 238.5L672.5 239.5L674.5 239.5L675.5 239.5L676.5 240.5L676.5 241.5L675.5 242.5L674.5 242.5L673.5 242.5L671.5 242.5L671.5 241.5M679.5 233.5L679.5 240.5L679.5 242.5L680.5 242.5L681.5 242.5M678.5 236.5L681.5 236.5M683.5 232.5L684.5 232.5L685.5 234.5L686.5 235.5L686.5 237.5L686.5 239.5L686.5 241.5L685.5 243.5L684.5 244.5L683.5 245.5" fill="none" stroke="#000" stroke-width="1" stroke-linecap="square"/>
<rect x="595" y="334" width="26" height="1" fill="#00ff00"/>
<rect x="593" y="333" width="5" height="4" fill="#00ff00"/>
<rect x="618" y="333" width="5" height="4" fill="#00ff00"/>
<path d="M627.5 334.5L627.5 343.5M627.5 334.5L631.5 334.5L632.5 335.5L633.5 336.5L633.5 337.5L632.5 338.5L631.5 338.5M627.5 338.5L631.5 338.5L632.5 339.5L633.5 340.5L633.5 341.5L632.5 342.5L632.5 343.5L631.5 343.5L627.5 343.5M640.5 337.5L635.5 343.5M635.5 337.5L640.5 337.5M635.5 343.5L640.5 343.5M653.5 333.5L652.5 333.5L651.5 335.5L650.5 336.5L650.5 338.5L650.5 340.5L650.5 342.5L651.5 344.5L652.5 345.5L653.5 346.5M656.5 337.5L656.5 343.5M656.5 339.5L657.5 338.5L658.5 337.5L659.5 337.5L660.5 338.5L660.5 339.5L660.5 343.5M665.5 334.5L665.5 343.5M662.5 334.5L668.5 334.5M671.5 343.5L670.5 343.5L671.5 342.5L671.5 343.5L671.5 344.5L670.5 345.5M687.5 336.5L687.5 335.5L686.5 335.5L685.5 334.5L683.5 334.5L682.5 335.5L681.5 336.5L681.5 338.5L681.5 340.5L681.5 341.5L682.5 342.5L682.5 343.5L683.5 343.5L685.5 343.5L686.5 343.5L687.5 342.5L687.5 341.5L687.5 340.5M685.5 340.5L687.5 340.5M695.5 335.5L693.5 334.5L692.5 334.5L690.5 335.5L690.5 336.5L690.5 337.5L690.5 338.5L691.5 338.5L694.5 339.5L695.5 339.5L695.5 340.5L695.5 342.5L695.5 343.5L693.5 343.5L692.5 343.5L690.5 343.5L690.5 342.5M698.5 334.5L698.5 343.5M698.5 334.5L702.5 343.5M705.5 334.5L702.5 343.5M705.5 334.5L705.5 343.5M708.5 333.5L709.5 333.5L710.5 335.5L711.5 336.5L711.5 338.5L711.5 340.5L711.5 342.5L710.5 344.5L709.5 345.5L708.5 346.5" fill="none" stroke="#000" stroke-width="1" stroke-linecap="square"/>
<rect x="595" y="419" width="26" height="1" fill="#000"/>
<rect x="593" y="418" width="5" height="4" fill="#000"/>
<rect x="618" y="418" width="5" height="4" fill="#000"/>
<path d="M626.5 415.5L630.5 424.5M633.5 415.5L630.5 424.5M645.5 414.5L644.5 414.5L643.5 416.5L642.5 417.5L642.5 419.5L642.5 421.5L642.5 423.5L643.5 425.5L644.5 426.5L645.5 427.5M648.5 415.5L648.5 424.5M652.5 418.5L648.5 422.5M649.5 421.5L652.5 424.5M655.5 418.5L655.5 424.5M655.5 420.5L656.5 419.5L657.5 418.5L658.5 418.5L659.5 419.5L659.5 420.5L659.5 424.5M659.5 420.5L661.5 419.5L662.5 418.5L663.5 418.5L664.5 419.5L664.5 420.5L664.5 424.5M674.5 414.5L667.5 427.5M681.5 419.5L680.5 419.5L679.5 418.5L678.5 418.5L677.5 419.5L676.5 419.5L677.5 420.5L677.5 421.5L680.5 421.5L681.5 422.5L681.5 423.5L680.5 424.5L679.5 424.5L678.5 424.5L677.5 424.5L676.5 423.5M683.5 414.5L684.5 414.5L685.5 416.5L686.5 417.5L686.5 419.5L686.5 421.5L686.5 423.5L685.5 425.5L684.5 426.5L683.5 427.5" fill="none" stroke="#000" stroke-width="1" stroke-linecap="square"/>
<path d="M70.5 117.5L68.5 117.5L67.5 119.5L67.5 121.5L67.5 123.5L67.5 125.5L68.5 127.5L70.5 127.5L71.5 127.5L72.5 127.5L73.5 125.5L74.5 123.5L74.5 121.5L73.5 119.5L72.5 117.5L71.5 117.5L70.5 117.5" fill="none" stroke="#000" stroke-width="1" stroke-linecap="square"/>
<path d="M46.5 172.5L55.5 172.5M63.5 166.5L58.5 166.5L57.5 170.5L58.5 170.5L59.5 169.5L61.5 169.5L62.5 170.5L63.5 171.5L64.5 172.5L64.5 173.5L63.5 175.5L62.5 176.5L61.5 176.5L59.5 176.5L58.5 176.5L57.5 175.5L57.5 174.5M70.5 166.5L68.5 166.5L67.5 168.5L67.5 170.5L67.5 172.5L67.5 174.5L68.5 176.5L70.5 176.5L71.5 176.5L72.5 176.5L73.5 174.5L74.5 172.5L74.5 170.5L73.5 168.5L72.5 166.5L71.5 166.5L70.5 166.5" fill="none" stroke="#000" stroke-width="1" stroke-linecap="square"/>
<path d="M36.5 222.5L45.5 222.5M48.5 218.5L49.5 217.5L51.5 216.5L51.5 226.5M60.5 216.5L58.5 216.5L57.5 218.5L57.5 220.5L57.5 222.5L57.5 224.5L58.5 226.5L60.5 226.5L61.5 226.5L62.5 226.5L63.5 224.5L64.5 222.5L64.5 220.5L63.5 218.5L62.5 216.5L61.5 216.5L60.5 216.5M70.5 216.5L68.5 216.5L67.5 218.5L67.5 220.5L67.5 222.5L67.5 224.5L68.5 226.5L70.5 226.5L71.5 226.5L72.5 226.5L73.5 224.5L74.5 222.5L74.5 220.5L73.5 218.5L72.5 216.5L71.5 216.5L70.5 216.5" fill="none" stroke="#000" stroke-width="1" stroke-linecap="square"/>
<path d="M36.5 271.5L45.5 271.5M48.5 267.5L49.5 266.5L51.5 265.5L51.5 275.5M63.5 265.5L58.5 265.5L57.5 269.5L58.5 269.5L59.5 268.5L61.5 268.5L62.5 269.5L63.5 270.5L64.5 271.5L64.5 272.5L63.5 274.5L62.5 275.5L61.5 275.5L59.5 275.5L58.5 275.5L57.5 274.5L57.5 273.5M70.5 265.5L68.5 265.5L67.5 267.5L67.5 269.5L67.5 271.5L67.5 273.5L68.5 275.5L70.5 275.5L71.5 275.5L72.5 275.5L73.5 273.5L74.5 271.5L74.5 269.5L73.5 267.5L72.5 265.5L71.5 265.5L70.5 265.5" fill="none" stroke="#000" stroke-width="1" stroke-linecap="square"/>
<path d="M36.5 316.5L45.5 316.5M47.5 312.5L48.5 311.5L48.5 310.5L49.5 310.5L51.5 310.5L52.5 310.5L53.5 311.5L53.5 312.5L53.5 313.5L53.5 314.5L52.5 315.5L47.5 320.5L54.5 320.5M60.5 310.5L58.5 310.5L57.5 312.5L57.5 314.5L57.5 316.5L57.5 318.5L58.5 320.5L60.5 320.5L61.5 320.5L62.5 320.5L63.5 318.5L64.5 316.5L64.5 314.5L63.5 312.5L62.5 310.5L61.5 310.5L60.5 310.5M70.5 310.5L68.5 310.5L67.5 312.5L67.5 314.5L67.5 316.5L67.5 318.5L68.5 320.5L70.5 320.5L71.5 320.5L72.5 320.5L73.5 318.5L74.5 316.5L74.5 314.5L73.5 312.5L72.5 310.5L71.5 310.5L70.5 310.5" fill="none" stroke="#000" stroke-width="1" stroke-linecap="square"/>
<path d="M73.5 332.5L68.5 332.5L67.5 336.5L68.5 336.5L69.5 335.5L71.5 335.5L72.5 336.5L73.5 337.5L74.5 338.5L74.5 339.5L73.5 341.5L72.5 342.5L71.5 342.5L69.5 342.5L68.5 342.5L67.5 341.5L67.5 340.5" fill="none" stroke="#000" stroke-width="1" stroke-linecap="square"/>
<path d="M70.5 351.5L68.5 351.5L67.5 353.5L67.5 355.5L67.5 357.5L67.5 359.5L68.5 361.5L70.5 361.5L71.5 361.5L72.5 361.5L73.5 359.5L74.5 357.5L74.5 355.5L73.5 353.5L72.5 351.5L71.5 351.5L70.5 351.5" fill="none" stroke="#000" stroke-width="1" stroke-linecap="square"/>
<path d="M56.5 375.5L65.5 375.5M73.5 369.5L68.5 369.5L67.5 373.5L68.5 373.5L69.5 372.5L71.5 372.5L72.5 373.5L73.5 374.5L74.5 375.5L74.5 376.5L73.5 378.5L72.5 379.5L71.5 379.5L69.5 379.5L68.5 379.5L67.5 378.5L67.5 377.5" fill="none" stroke="#000" stroke-width="1" stroke-linecap="square"/>
<path d="M46.5 393.5L55.5 393.5M58.5 389.5L59.5 388.5L61.5 387.5L61.5 397.5M70.5 387.5L68.5 387.5L67.5 389.5L67.5 391.5L67.5 393.5L67.5 395.5L68.5 397.5L70.5 397.5L71.5 397.5L72.5 397.5L73.5 395.5L74.5 393.5L74.5 391.5L73.5 389.5L72.5 387.5L71.5 387.5L70.5 387.5" fill="none" stroke="#000" stroke-width="1" stroke-linecap="square"/>
<path d="M54.5 417.5L49.5 428.5M47.5 417.5L54.5 417.5M60.5 417.5L58.5 418.5L57.5 419.5L57.5 422.5L57.5 423.5L57.5 426.5L58.5 427.5L60.5 428.5L61.5 428.5L62.5 427.5L63.5 426.5L64.5 423.5L64.5 422.5L63.5 419.5L62.5 418.5L61.5 417.5L60.5 417.5M70.5 417.5L68.5 418.5L67.5 419.5L67.5 422.5L67.5 423.5L67.5 426.5L68.5 427.5L70.5 428.5L71.5 428.5L72.5 427.5L73.5 426.5L74.5 423.5L74.5 422.5L73.5 419.5L72.5 418.5L71.5 417.5L70.5 417.5" fill="none" stroke="#000" stroke-width="1" stroke-linecap="square"/>
<path d="M53.5 433.5L53.5 432.5L51.5 431.5L50.5 431.5L49.5 432.5L48.5 433.5L47.5 436.5L47.5 438.5L48.5 440.5L49.5 441.5L50.5 442.5L51.5 442.5L52.5 441.5L53.5 440.5L54.5 439.5L54.5 438.5L53.5 437.5L52.5 436.5L51.5 435.5L50.5 435.5L49.5 436.5L48.5 437.5L47.5 438.5M63.5 431.5L58.5 431.5L57.5 436.5L58.5 435.5L59.5 435.5L61.5 435.5L62.5 435.5L63.5 436.5L64.5 438.5L64.5 439.5L63.5 440.5L62.5 441.5L61.5 442.5L59.5 442.5L58.5 441.5L57.5 441.5L57.5 440.5M70.5 431.5L68.5 432.5L67.5 433.5L67.5 436.5L67.5 437.5L67.5 440.5L68.5 441.5L70.5 442.5L71.5 442.5L72.5 441.5L73.5 440.5L74.5 437.5L74.5 436.5L73.5 433.5L72.5 432.5L71.5 431.5L70.5 431.5" fill="none" stroke="#000" stroke-width="1" stroke-linecap="square"/>
<path d="M53.5 447.5L53.5 446.5L51.5 445.5L50.5 445.5L49.5 446.5L48.5 447.5L47.5 450.5L47.5 452.5L48.5 454.5L49.5 455.5L50.5 456.5L51.5 456.5L52.5 455.5L53.5 454.5L54.5 453.5L54.5 452.5L53.5 451.5L52.5 450.5L51.5 449.5L50.5 449.5L49.5 450.5L48.5 451.5L47.5 452.5M60.5 445.5L58.5 446.5L57.5 447.5L57.5 450.5L57.5 451.5L57.5 454.5L58.5 455.5L60.5 456.5L61.5 456.5L62.5 455.5L63.5 454.5L64.5 451.5L64.5 450.5L63.5 447.5L62.5 446.5L61.5 445.5L60.5 445.5M70.5 445.5L68.5 446.5L67.5 447.5L67.5 450.5L67.5 451.5L67.5 454.5L68.5 455.5L70.5 456.5L71.5 456.5L72.5 455.5L73.5 454.5L74.5 451.5L74.5 450.5L73.5 447.5L72.5 446.5L71.5 445.5L70.5 445.5" fill="none" stroke="#000" stroke-width="1" stroke-linecap="square"/>
<path d="M53.5 459.5L48.5 459.5L47.5 464.5L48.5 463.5L49.5 463.5L51.5 463.5L52.5 463.5L53.5 464.5L54.5 466.5L54.5 467.5L53.5 468.5L52.5 469.5L51.5 470.5L49.5 470.5L48.5 469.5L47.5 469.5L47.5 468.5M63.5 459.5L58.5 459.5L57.5 464.5L58.5 463.5L59.5 463.5L61.5 463.5L62.5 463.5L63.5 464.5L64.5 466.5L64.5 467.5L63.5 468.5L62.5 469.5L61.5 470.5L59.5 470.5L58.5 469.5L57.5 469.5L57.5 468.5M70.5 459.5L68.5 460.5L67.5 461.5L67.5 464.5L67.5 465.5L67.5 468.5L68.5 469.5L70.5 470.5L71.5 470.5L72.5 469.5L73.5 468.5L74.5 465.5L74.5 464.5L73.5 461.5L72.5 460.5L71.5 459.5L70.5 459.5" fill="none" stroke="#000" stroke-width="1" stroke-linecap="square"/>
<path d="M53.5 473.5L48.5 473.5L47.5 478.5L48.5 477.5L49.5 477.5L51.5 477.5L52.5 477.5L53.5 478.5L54.5 480.5L54.5 481.5L53.5 482.5L52.5 483.5L51.5 484.5L49.5 484.5L48.5 483.5L47.5 483.5L47.5 482.5M60.5 473.5L58.5 474.5L57.5 475.5L57.5 478.5L57.5 479.5L57.5 482.5L58.5 483.5L60.5 484.5L61.5 484.5L62.5 483.5L63.5 482.5L64.5 479.5L64.5 478.5L63.5 475.5L62.5 474.5L61.5 473.5L60.5 473.5M70.5 473.5L68.5 474.5L67.5 475.5L67.5 478.5L67.5 479.5L67.5 482.5L68.5 483.5L70.5 484.5L71.5 484.5L72.5 483.5L73.5 482.5L74.5 479.5L74.5 478.5L73.5 475.5L72.5 474.5L71.5 473.5L70.5 473.5" fill="none" stroke="#000" stroke-width="1" stroke-linecap="square"/>
<path d="M52.5 484.5L47.5 491.5L54.5 491.5M52.5 484.5L52.5 494.5M63.5 484.5L58.5 484.5L57.5 488.5L58.5 488.5L59.5 487.5L61.5 487.5L62.5 488.5L63.5 489.5L64.5 490.5L64.5 491.5L63.5 493.5L62.5 494.5L61.5 494.5L59.5 494.5L58.5 494.5L57.5 493.5L57.5 492.5M70.5 484.5L68.5 484.5L67.5 486.5L67.5 488.5L67.5 490.5L67.5 492.5L68.5 494.5L70.5 494.5L71.5 494.5L72.5 494.5L73.5 492.5L74.5 490.5L74.5 488.5L73.5 486.5L72.5 484.5L71.5 484.5L70.5 484.5" fill="none" stroke="#000" stroke-width="1" stroke-linecap="square"/>
<path d="M14.5 229.5L24.5 229.5M14.5 229.5L14.5 226.5L14.5 225.5L15.5 224.5L16.5 223.5L18.5 223.5L20.5 223.5L21.5 223.5L22.5 224.5L23.5 225.5L24.5 226.5L24.5 229.5M19.5 215.5L18.5 215.5L17.5 217.5L17.5 218.5L18.5 220.5L19.5 220.5L20.5 219.5L20.5 216.5L21.5 215.5L22.5 215.5L23.5 215.5L24.5 217.5L24.5 218.5L23.5 220.5L22.5 220.5M14.5 211.5L22.5 211.5L23.5 211.5L24.5 210.5L24.5 209.5M17.5 213.5L17.5 209.5M12.5 196.5L13.5 196.5L14.5 197.5L16.5 198.5L19.5 199.5L20.5 199.5L23.5 198.5L25.5 197.5L26.5 196.5L27.5 196.5M17.5 192.5L24.5 192.5M19.5 192.5L18.5 191.5L17.5 190.5L17.5 189.5L18.5 188.5L19.5 187.5L24.5 187.5M14.5 182.5L24.5 182.5M14.5 185.5L14.5 178.5M12.5 177.5L13.5 176.5L14.5 175.5L16.5 174.5L19.5 173.5L20.5 173.5L23.5 174.5L25.5 175.5L26.5 176.5L27.5 177.5" fill="none" stroke="#000" stroke-width="1" stroke-linecap="square"/>
<path d="M19.5 391.5L30.5 391.5M19.5 391.5L19.5 387.5L20.5 385.5L21.5 384.5L22.5 384.5L23.5 385.5L24.5 385.5L24.5 387.5M24.5 391.5L24.5 387.5L25.5 385.5L26.5 384.5L28.5 384.5L29.5 385.5L30.5 387.5L30.5 391.5M23.5 376.5L30.5 381.5M23.5 381.5L23.5 376.5M30.5 381.5L30.5 376.5M18.5 361.5L19.5 362.5L20.5 363.5L22.5 364.5L24.5 364.5L26.5 364.5L29.5 364.5L31.5 363.5L33.5 362.5L34.5 361.5M23.5 357.5L30.5 357.5M25.5 357.5L24.5 356.5L23.5 355.5L23.5 353.5L24.5 352.5L25.5 352.5L30.5 352.5M20.5 346.5L30.5 346.5M20.5 349.5L20.5 342.5M18.5 340.5L19.5 339.5L20.5 338.5L22.5 337.5L25.5 337.5L27.5 337.5L29.5 337.5L31.5 338.5L33.5 339.5L34.5 340.5" fill="none" stroke="#000" stroke-width="1" stroke-linecap="square"/>
<path d="M21.5 489.5L32.5 485.5M21.5 481.5L32.5 485.5M19.5 467.5L20.5 468.5L22.5 469.5L24.5 470.5L26.5 470.5L28.5 470.5L31.5 470.5L33.5 469.5L35.5 468.5L36.5 467.5M21.5 463.5L32.5 463.5M25.5 458.5L30.5 463.5M28.5 461.5L32.5 458.5M25.5 455.5L32.5 455.5M27.5 455.5L26.5 453.5L25.5 452.5L25.5 451.5L26.5 450.5L27.5 449.5L32.5 449.5M27.5 449.5L26.5 448.5L25.5 447.5L25.5 445.5L26.5 444.5L27.5 444.5L32.5 444.5M20.5 432.5L36.5 441.5M27.5 424.5L26.5 424.5L25.5 426.5L25.5 427.5L26.5 429.5L27.5 429.5L28.5 429.5L28.5 428.5L29.5 425.5L29.5 424.5L30.5 424.5L31.5 424.5L32.5 424.5L32.5 426.5L32.5 427.5L32.5 429.5L31.5 429.5M20.5 421.5L21.5 420.5L22.5 419.5L24.5 418.5L27.5 417.5L29.5 417.5L31.5 418.5L33.5 419.5L35.5 420.5L36.5 421.5" fill="none" stroke="#000" stroke-width="1" stroke-linecap="square"/>
<path d="M73.5 507.5L74.5 506.5L75.5 505.5L75.5 515.5M84.5 505.5L83.5 505.5L82.5 507.5L81.5 509.5L81.5 511.5L82.5 513.5L83.5 515.5L84.5 515.5L85.5 515.5L87.5 515.5L88.5 513.5L88.5 511.5L88.5 509.5L88.5 507.5L87.5 505.5L85.5 505.5L84.5 505.5" fill="none" stroke="#000" stroke-width="1" stroke-linecap="square"/>
<path d="M73.5 520.5L74.5 519.5L75.5 518.5L75.5 528.5M82.5 518.5L88.5 518.5L85.5 522.5L86.5 522.5L87.5 522.5L88.5 523.5L88.5 524.5L88.5 525.5L88.5 527.5L87.5 528.5L85.5 528.5L84.5 528.5L82.5 528.5L82.5 527.5L81.5 526.5" fill="none" stroke="#000" stroke-width="1" stroke-linecap="square"/>
<path d="M145.5 507.5L146.5 506.5L147.5 505.5L147.5 515.5M158.5 505.5L153.5 512.5L161.5 512.5M158.5 505.5L158.5 515.5" fill="none" stroke="#000" stroke-width="1" stroke-linecap="square"/>
<path d="M145.5 520.5L146.5 519.5L147.5 518.5L147.5 528.5M160.5 518.5L155.5 528.5M153.5 518.5L160.5 518.5" fill="none" stroke="#000" stroke-width="1" stroke-linecap="square"/>
<path d="M217.5 507.5L218.5 506.5L219.5 505.5L219.5 515.5M228.5 505.5L226.5 505.5L226.5 506.5L226.5 507.5L226.5 508.5L227.5 509.5L229.5 509.5L231.5 510.5L232.5 511.5L232.5 512.5L232.5 513.5L232.5 514.5L231.5 515.5L230.5 515.5L228.5 515.5L226.5 515.5L226.5 514.5L225.5 513.5L225.5 512.5L226.5 511.5L227.5 510.5L228.5 509.5L230.5 509.5L231.5 508.5L232.5 507.5L232.5 506.5L231.5 505.5L230.5 505.5L228.5 505.5" fill="none" stroke="#000" stroke-width="1" stroke-linecap="square"/>
<path d="M216.5 520.5L216.5 519.5L217.5 518.5L218.5 518.5L220.5 518.5L221.5 518.5L221.5 519.5L222.5 520.5L222.5 521.5L221.5 522.5L220.5 523.5L215.5 528.5L222.5 528.5M227.5 520.5L228.5 519.5L229.5 518.5L229.5 528.5" fill="none" stroke="#000" stroke-width="1" stroke-linecap="square"/>
<path d="M288.5 507.5L289.5 506.5L289.5 505.5L290.5 505.5L292.5 505.5L293.5 505.5L294.5 506.5L294.5 507.5L294.5 508.5L294.5 509.5L293.5 510.5L288.5 515.5L295.5 515.5M298.5 507.5L299.5 506.5L299.5 505.5L300.5 505.5L302.5 505.5L303.5 505.5L304.5 506.5L304.5 507.5L304.5 508.5L304.5 509.5L303.5 510.5L298.5 515.5L305.5 515.5" fill="none" stroke="#000" stroke-width="1" stroke-linecap="square"/>
<path d="M291.5 518.5L289.5 518.5L288.5 520.5L288.5 522.5L288.5 524.5L288.5 526.5L289.5 528.5L291.5 528.5L292.5 528.5L293.5 528.5L294.5 526.5L295.5 524.5L295.5 522.5L294.5 520.5L293.5 518.5L292.5 518.5L291.5 518.5M299.5 520.5L300.5 519.5L302.5 518.5L302.5 528.5" fill="none" stroke="#000" stroke-width="1" stroke-linecap="square"/>
<path d="M363.5 505.5L361.5 505.5L360.5 507.5L360.5 509.5L360.5 511.5L360.5 513.5L361.5 515.5L363.5 515.5L364.5 515.5L365.5 515.5L366.5 513.5L367.5 511.5L367.5 509.5L366.5 507.5L365.5 505.5L364.5 505.5L363.5 505.5M370.5 507.5L371.5 506.5L371.5 505.5L372.5 505.5L374.5 505.5L375.5 505.5L376.5 506.5L376.5 507.5L376.5 508.5L376.5 509.5L375.5 510.5L370.5 515.5L377.5 515.5" fill="none" stroke="#000" stroke-width="1" stroke-linecap="square"/>
<path d="M363.5 518.5L361.5 518.5L360.5 520.5L360.5 522.5L360.5 524.5L360.5 526.5L361.5 528.5L363.5 528.5L364.5 528.5L365.5 528.5L366.5 526.5L367.5 524.5L367.5 522.5L366.5 520.5L365.5 518.5L364.5 518.5L363.5 518.5M376.5 518.5L371.5 518.5L370.5 522.5L371.5 522.5L372.5 521.5L374.5 521.5L375.5 522.5L376.5 523.5L377.5 524.5L377.5 525.5L376.5 527.5L375.5 528.5L374.5 528.5L372.5 528.5L371.5 528.5L370.5 527.5L370.5 526.5" fill="none" stroke="#000" stroke-width="1" stroke-linecap="square"/>
<path d="M435.5 505.5L433.5 505.5L432.5 507.5L432.5 509.5L432.5 511.5L432.5 513.5L433.5 515.5L435.5 515.5L436.5 515.5L437.5 515.5L438.5 513.5L439.5 511.5L439.5 509.5L438.5 507.5L437.5 505.5L436.5 505.5L435.5 505.5M448.5 506.5L448.5 505.5L446.5 505.5L445.5 505.5L444.5 505.5L443.5 507.5L442.5 509.5L442.5 512.5L443.5 514.5L444.5 515.5L445.5 515.5L446.5 515.5L447.5 515.5L448.5 514.5L449.5 512.5L448.5 510.5L447.5 509.5L446.5 509.5L445.5 509.5L444.5 509.5L443.5 510.5L442.5 512.5" fill="none" stroke="#000" stroke-width="1" stroke-linecap="square"/>
<path d="M435.5 518.5L433.5 518.5L432.5 520.5L432.5 522.5L432.5 524.5L432.5 526.5L433.5 528.5L435.5 528.5L436.5 528.5L437.5 528.5L438.5 526.5L439.5 524.5L439.5 522.5L438.5 520.5L437.5 518.5L436.5 518.5L435.5 518.5M448.5 521.5L448.5 523.5L447.5 524.5L445.5 524.5L443.5 524.5L442.5 523.5L442.5 521.5L442.5 519.5L443.5 518.5L445.5 518.5L447.5 518.5L448.5 519.5L448.5 521.5L448.5 524.5L448.5 526.5L447.5 528.5L445.5 528.5L444.5 528.5L443.5 528.5L442.5 527.5" fill="none" stroke="#000" stroke-width="1" stroke-linecap="square"/>
<path d="M506.5 507.5L507.5 506.5L508.5 505.5L508.5 515.5M517.5 505.5L516.5 505.5L515.5 507.5L514.5 509.5L514.5 511.5L515.5 513.5L516.5 515.5L517.5 515.5L518.5 515.5L520.5 515.5L521.5 513.5L521.5 511.5L521.5 509.5L521.5 507.5L520.5 505.5L518.5 505.5L517.5 505.5" fill="none" stroke="#000" stroke-width="1" stroke-linecap="square"/>
<path d="M506.5 520.5L507.5 519.5L508.5 518.5L508.5 528.5M515.5 518.5L521.5 518.5L518.5 522.5L519.5 522.5L520.5 522.5L521.5 523.5L521.5 524.5L521.5 525.5L521.5 527.5L520.5 528.5L518.5 528.5L517.5 528.5L515.5 528.5L515.5 527.5L514.5 526.5" fill="none" stroke="#000" stroke-width="1" stroke-linecap="square"/>
<path d="M578.5 507.5L579.5 506.5L580.5 505.5L580.5 515.5M591.5 505.5L586.5 512.5L594.5 512.5M591.5 505.5L591.5 515.5" fill="none" stroke="#000" stroke-width="1" stroke-linecap="square"/>
<path d="M578.5 520.5L579.5 519.5L580.5 518.5L580.5 528.5M593.5 518.5L588.5 528.5M586.5 518.5L593.5 518.5" fill="none" stroke="#000" stroke-width="1" stroke-linecap="square"/>
<path d="M39 507L39 513L39 514L40 515L42 515L44 515L45 514L45 513L45 507M50 507L50 515M47 507L53 507" fill="none" stroke="#000" stroke-width="2"/>
<path d="M39 521L39 529M39 521L42 529M46 521L42 529M46 521L46 529M55 522L54 521L53 521L51 521L50 521L49 522L49 523L50 524L53 525L54 525L54 526L55 527L55 528L54 529L53 529L51 529L50 529L49 528M58 521L58 529M64 521L58 526M60 524L64 529" fill="none" stroke="#000" stroke-width="2"/>
<path d="M605.5 505.5L604.5 506.5L603.5 507.5L603.5 509.5L603.5 510.5L603.5 512.5L604.5 514.5L605.5 514.5L606.5 514.5L608.5 514.5L608.5 512.5L609.5 510.5L609.5 509.5L608.5 507.5L608.5 506.5L606.5 505.5L605.5 505.5M616.5 505.5L611.5 511.5L618.5 511.5M616.5 505.5L616.5 514.5M621.5 513.5L620.5 514.5L621.5 514.5L621.5 513.5M626.5 505.5L625.5 506.5L624.5 507.5L624.5 509.5L624.5 510.5L624.5 512.5L625.5 514.5L626.5 514.5L627.5 514.5L629.5 514.5L629.5 512.5L630.5 510.5L630.5 509.5L629.5 507.5L629.5 506.5L627.5 505.5L626.5 505.5M637.5 505.5L632.5 511.5L639.5 511.5M637.5 505.5L637.5 514.5M640.5 510.5L650.5 510.5M655.5 505.5L653.5 506.5L653.5 507.5L652.5 509.5L652.5 510.5L653.5 512.5L653.5 514.5L655.5 514.5L657.5 514.5L658.5 512.5L658.5 510.5L658.5 509.5L658.5 507.5L657.5 506.5L655.5 505.5M666.5 505.5L661.5 505.5L661.5 509.5L663.5 508.5L664.5 508.5L665.5 509.5L666.5 509.5L666.5 511.5L666.5 513.5L665.5 514.5L664.5 514.5L663.5 514.5L661.5 514.5L661.5 513.5L661.5 512.5M670.5 513.5L669.5 514.5L670.5 514.5L670.5 513.5M676.5 505.5L674.5 506.5L674.5 507.5L673.5 509.5L673.5 510.5L674.5 512.5L674.5 514.5L676.5 514.5L678.5 514.5L679.5 512.5L679.5 510.5L679.5 509.5L679.5 507.5L678.5 506.5L676.5 505.5M686.5 505.5L682.5 511.5L688.5 511.5M686.5 505.5L686.5 514.5M691.5 513.5L690.5 514.5L691.5 514.5L691.5 513.5M695.5 507.5L695.5 506.5L696.5 505.5L698.5 505.5L699.5 506.5L700.5 507.5L700.5 508.5L699.5 509.5L698.5 510.5L694.5 514.5L700.5 514.5M705.5 505.5L704.5 506.5L703.5 507.5L703.5 509.5L703.5 510.5L703.5 512.5L704.5 514.5L705.5 514.5L706.5 514.5L707.5 514.5L708.5 512.5L708.5 510.5L708.5 509.5L708.5 507.5L707.5 506.5L706.5 505.5L705.5 505.5M711.5 507.5L712.5 506.5L713.5 505.5L715.5 505.5L716.5 506.5L716.5 507.5L716.5 508.5L716.5 509.5L715.5 510.5L711.5 514.5L717.5 514.5M725.5 506.5L724.5 506.5L723.5 505.5L722.5 505.5L721.5 506.5L720.5 507.5L720.5 509.5L720.5 511.5L720.5 513.5L721.5 514.5L722.5 514.5L723.5 514.5L724.5 514.5L725.5 513.5L725.5 511.5L725.5 510.5L724.5 509.5L723.5 509.5L722.5 509.5L721.5 509.5L720.5 510.5L720.5 511.5" fill="none" stroke="#000" stroke-width="1" stroke-linecap="square"/>
<path d="M605.5 519.5L604.5 520.5L603.5 521.5L603.5 523.5L603.5 524.5L603.5 526.5L604.5 528.5L605.5 528.5L606.5 528.5L608.5 528.5L608.5 526.5L609.5 524.5L609.5 523.5L608.5 521.5L608.5 520.5L606.5 519.5L605.5 519.5M616.5 519.5L611.5 525.5L618.5 525.5M616.5 519.5L616.5 528.5M621.5 527.5L620.5 528.5L621.5 528.5L621.5 527.5M626.5 519.5L625.5 520.5L624.5 521.5L624.5 523.5L624.5 524.5L624.5 526.5L625.5 528.5L626.5 528.5L627.5 528.5L629.5 528.5L629.5 526.5L630.5 524.5L630.5 523.5L629.5 521.5L629.5 520.5L627.5 519.5L626.5 519.5M637.5 519.5L632.5 525.5L639.5 525.5M637.5 519.5L637.5 528.5M640.5 524.5L650.5 524.5M655.5 519.5L653.5 520.5L653.5 521.5L652.5 523.5L652.5 524.5L653.5 526.5L653.5 528.5L655.5 528.5L657.5 528.5L658.5 526.5L658.5 524.5L658.5 523.5L658.5 521.5L657.5 520.5L655.5 519.5M666.5 519.5L661.5 519.5L661.5 523.5L663.5 522.5L664.5 522.5L665.5 523.5L666.5 523.5L666.5 525.5L666.5 527.5L665.5 528.5L664.5 528.5L663.5 528.5L661.5 528.5L661.5 527.5L661.5 526.5M670.5 527.5L669.5 528.5L670.5 528.5L670.5 527.5M676.5 519.5L674.5 520.5L674.5 521.5L673.5 523.5L673.5 524.5L674.5 526.5L674.5 528.5L676.5 528.5L678.5 528.5L679.5 526.5L679.5 524.5L679.5 523.5L679.5 521.5L678.5 520.5L676.5 519.5M686.5 519.5L682.5 525.5L688.5 525.5M686.5 519.5L686.5 528.5M691.5 527.5L690.5 528.5L691.5 528.5L691.5 527.5M695.5 521.5L695.5 520.5L696.5 519.5L698.5 519.5L699.5 520.5L700.5 521.5L700.5 522.5L699.5 523.5L698.5 524.5L694.5 528.5L700.5 528.5M705.5 519.5L704.5 520.5L703.5 521.5L703.5 523.5L703.5 524.5L703.5 526.5L704.5 528.5L705.5 528.5L706.5 528.5L707.5 528.5L708.5 526.5L708.5 524.5L708.5 523.5L708.5 521.5L707.5 520.5L706.5 519.5L705.5 519.5M711.5 521.5L712.5 520.5L713.5 519.5L715.5 519.5L716.5 520.5L716.5 521.5L716.5 522.5L716.5 523.5L715.5 524.5L711.5 528.5L717.5 528.5M725.5 520.5L724.5 520.5L723.5 519.5L722.5 519.5L721.5 520.5L720.5 521.5L720.5 523.5L720.5 525.5L720.5 527.5L721.5 528.5L722.5 528.5L723.5 528.5L724.5 528.5L725.5 527.5L725.5 525.5L725.5 524.5L724.5 523.5L723.5 523.5L722.5 523.5L721.5 523.5L720.5 524.5L720.5 525.5" fill="none" stroke="#000" stroke-width="1" stroke-linecap="square"/>
<path d="M81.5 542.5L81.5 551.5M81.5 542.5L84.5 550.5M81.5 542.5L84.5 551.5M87.5 542.5L84.5 551.5M87.5 542.5L87.5 551.5M87.5 542.5L87.5 551.5M79.5 542.5L81.5 542.5M87.5 542.5L89.5 542.5M79.5 551.5L82.5 551.5M86.5 551.5L89.5 551.5M92.5 546.5L92.5 545.5L93.5 545.5L95.5 545.5L96.5 545.5L96.5 546.5L97.5 547.5L97.5 550.5L97.5 551.5L98.5 551.5M96.5 546.5L96.5 550.5L97.5 551.5L98.5 551.5M96.5 547.5L93.5 548.5L92.5 548.5L91.5 549.5L91.5 550.5L92.5 551.5L93.5 551.5L94.5 551.5L95.5 551.5L96.5 550.5M93.5 548.5L92.5 548.5L92.5 549.5L92.5 550.5L92.5 551.5L93.5 551.5M101.5 545.5L101.5 551.5M102.5 545.5L102.5 551.5M100.5 545.5L106.5 545.5L106.5 547.5L106.5 545.5M100.5 551.5L103.5 551.5M110.5 545.5L110.5 551.5M110.5 545.5L110.5 551.5M115.5 545.5L115.5 551.5M115.5 545.5L115.5 551.5M108.5 545.5L112.5 545.5M113.5 545.5L117.5 545.5M110.5 548.5L115.5 548.5M108.5 551.5L112.5 551.5M113.5 551.5L117.5 551.5M120.5 545.5L120.5 551.5M120.5 545.5L120.5 551.5M125.5 545.5L125.5 551.5M125.5 545.5L125.5 551.5M118.5 545.5L122.5 545.5M124.5 545.5L127.5 545.5M118.5 551.5L122.5 551.5M124.5 551.5L127.5 551.5M125.5 545.5L120.5 551.5M132.5 545.5L132.5 551.5M132.5 545.5L132.5 551.5M130.5 545.5L129.5 547.5L129.5 545.5L135.5 545.5L135.5 547.5L135.5 545.5M131.5 551.5L134.5 551.5M139.5 545.5L139.5 551.5M139.5 545.5L139.5 551.5M144.5 545.5L144.5 551.5M144.5 545.5L144.5 551.5M137.5 545.5L141.5 545.5M143.5 545.5L146.5 545.5M139.5 548.5L144.5 548.5M137.5 551.5L141.5 551.5M143.5 551.5L146.5 551.5M151.5 545.5L150.5 545.5L149.5 546.5L148.5 548.5L148.5 549.5L149.5 550.5L150.5 551.5L151.5 551.5L152.5 551.5L153.5 551.5L154.5 550.5L155.5 549.5L155.5 548.5L154.5 546.5L153.5 545.5L152.5 545.5L151.5 545.5M151.5 545.5L150.5 545.5L149.5 546.5L149.5 548.5L149.5 549.5L149.5 550.5L150.5 551.5L151.5 551.5M152.5 551.5L153.5 551.5L154.5 550.5L154.5 549.5L154.5 548.5L154.5 546.5L153.5 545.5L152.5 545.5M158.5 548.5L163.5 548.5L163.5 547.5L163.5 546.5L162.5 545.5L160.5 545.5L159.5 545.5L158.5 546.5L157.5 548.5L157.5 549.5L158.5 550.5L159.5 551.5L160.5 551.5L161.5 551.5L162.5 551.5L163.5 550.5M163.5 548.5L163.5 546.5L162.5 545.5M160.5 545.5L159.5 545.5L158.5 546.5L158.5 548.5L158.5 549.5L158.5 550.5L159.5 551.5L160.5 551.5M175.5 545.5L175.5 551.5M175.5 545.5L175.5 551.5M180.5 545.5L180.5 551.5M180.5 545.5L180.5 551.5M173.5 545.5L181.5 545.5M173.5 551.5L176.5 551.5M178.5 551.5L181.5 551.5M187.5 545.5L185.5 545.5L184.5 546.5L184.5 548.5L184.5 549.5L184.5 550.5L185.5 551.5L187.5 551.5L189.5 551.5L190.5 550.5L190.5 549.5L190.5 548.5L190.5 546.5L189.5 545.5L187.5 545.5M187.5 545.5L186.5 545.5L185.5 546.5L184.5 548.5L184.5 549.5L185.5 550.5L186.5 551.5L187.5 551.5M187.5 551.5L188.5 551.5L189.5 550.5L190.5 549.5L190.5 548.5L189.5 546.5L188.5 545.5L187.5 545.5M195.5 545.5L195.5 547.5L194.5 549.5L194.5 551.5L193.5 551.5L193.5 550.5L193.5 551.5M199.5 545.5L199.5 551.5M200.5 545.5L200.5 551.5M193.5 545.5L201.5 545.5M198.5 551.5L201.5 551.5M204.5 548.5L209.5 548.5L209.5 547.5L209.5 546.5L208.5 545.5L207.5 545.5L206.5 545.5L205.5 545.5L204.5 546.5L203.5 548.5L203.5 549.5L204.5 550.5L205.5 551.5L206.5 551.5L207.5 551.5L208.5 551.5L209.5 550.5M209.5 548.5L209.5 546.5L208.5 545.5M206.5 545.5L205.5 545.5L204.5 546.5L204.5 548.5L204.5 549.5L204.5 550.5L205.5 551.5L206.5 551.5M220.5 545.5L220.5 551.5M221.5 545.5L221.5 551.5M225.5 545.5L225.5 551.5M226.5 545.5L226.5 551.5M219.5 545.5L222.5 545.5M224.5 545.5L227.5 545.5M219.5 551.5L222.5 551.5M224.5 551.5L227.5 551.5M225.5 545.5L221.5 551.5M243.5 546.5L242.5 547.5L243.5 547.5L243.5 546.5L242.5 545.5L241.5 545.5L240.5 545.5L238.5 545.5L237.5 546.5L237.5 548.5L237.5 549.5L237.5 550.5L238.5 551.5L240.5 551.5L241.5 551.5L242.5 551.5L243.5 550.5M240.5 545.5L239.5 545.5L238.5 546.5L237.5 548.5L237.5 549.5L238.5 550.5L239.5 551.5L240.5 551.5M249.5 545.5L247.5 545.5L246.5 546.5L246.5 548.5L246.5 549.5L246.5 550.5L247.5 551.5L249.5 551.5L250.5 551.5L251.5 551.5L252.5 550.5L252.5 549.5L252.5 548.5L252.5 546.5L251.5 545.5L250.5 545.5L249.5 545.5M249.5 545.5L248.5 545.5L247.5 546.5L246.5 548.5L246.5 549.5L247.5 550.5L248.5 551.5L249.5 551.5M250.5 551.5L251.5 550.5L252.5 549.5L252.5 548.5L251.5 546.5L250.5 545.5M257.5 545.5L257.5 547.5L256.5 549.5L256.5 551.5L255.5 551.5L255.5 550.5L256.5 551.5M261.5 545.5L261.5 551.5M262.5 545.5L262.5 551.5M256.5 545.5L263.5 545.5M260.5 551.5L263.5 551.5M266.5 545.5L266.5 551.5M267.5 545.5L267.5 551.5M271.5 545.5L271.5 551.5M272.5 545.5L272.5 551.5M265.5 545.5L268.5 545.5M270.5 545.5L273.5 545.5M267.5 548.5L271.5 548.5M265.5 551.5L268.5 551.5M270.5 551.5L273.5 551.5M276.5 548.5L281.5 548.5L281.5 547.5L281.5 546.5L281.5 545.5L280.5 545.5L278.5 545.5L277.5 545.5L276.5 546.5L275.5 548.5L275.5 549.5L276.5 550.5L277.5 551.5L278.5 551.5L279.5 551.5L281.5 551.5L281.5 550.5M281.5 548.5L281.5 546.5L281.5 545.5M278.5 545.5L277.5 545.5L276.5 546.5L276.5 548.5L276.5 549.5L276.5 550.5L277.5 551.5L278.5 551.5M285.5 545.5L285.5 548.5L286.5 549.5L287.5 549.5L288.5 549.5L289.5 549.5L290.5 548.5M286.5 545.5L286.5 548.5L286.5 549.5L287.5 549.5M290.5 545.5L290.5 551.5M291.5 545.5L291.5 551.5M284.5 545.5L287.5 545.5M289.5 545.5L292.5 545.5M289.5 551.5L292.5 551.5M295.5 545.5L295.5 551.5M296.5 545.5L296.5 551.5M300.5 545.5L300.5 551.5M301.5 545.5L301.5 551.5M294.5 545.5L297.5 545.5M299.5 545.5L302.5 545.5M296.5 548.5L300.5 548.5M294.5 551.5L297.5 551.5M299.5 551.5L302.5 551.5M306.5 545.5L306.5 551.5M306.5 545.5L306.5 551.5M304.5 545.5L307.5 545.5M306.5 548.5L308.5 548.5L309.5 549.5L310.5 549.5L310.5 550.5L309.5 551.5L308.5 551.5L304.5 551.5M308.5 548.5L309.5 549.5L309.5 550.5L309.5 551.5L308.5 551.5M312.5 545.5L312.5 551.5M313.5 545.5L313.5 551.5M311.5 545.5L314.5 545.5M311.5 551.5L314.5 551.5M318.5 545.5L318.5 551.5M318.5 545.5L318.5 551.5M323.5 545.5L323.5 551.5M323.5 545.5L323.5 551.5M316.5 545.5L319.5 545.5M321.5 545.5L325.5 545.5M316.5 551.5L319.5 551.5M321.5 551.5L325.5 551.5M323.5 545.5L318.5 551.5M319.5 542.5L318.5 542.5L319.5 543.5L320.5 543.5L321.5 543.5L322.5 543.5L322.5 542.5M335.5 545.5L335.5 551.5M336.5 545.5L336.5 551.5M334.5 545.5L339.5 545.5L340.5 545.5L341.5 546.5L341.5 547.5L340.5 548.5L339.5 548.5M339.5 545.5L340.5 545.5L340.5 546.5L340.5 547.5L340.5 548.5L339.5 548.5M336.5 548.5L339.5 548.5L340.5 549.5L341.5 549.5L341.5 550.5L340.5 551.5L339.5 551.5L334.5 551.5M339.5 548.5L340.5 549.5L340.5 550.5L340.5 551.5L339.5 551.5M344.5 548.5L350.5 548.5L350.5 547.5L349.5 546.5L349.5 545.5L348.5 545.5L346.5 545.5L345.5 545.5L344.5 546.5L343.5 548.5L343.5 549.5L344.5 550.5L345.5 551.5L346.5 551.5L347.5 551.5L349.5 551.5L350.5 550.5M349.5 548.5L349.5 546.5L349.5 545.5M346.5 545.5L345.5 545.5L344.5 546.5L344.5 548.5L344.5 549.5L344.5 550.5L345.5 551.5L346.5 551.5M355.5 545.5L355.5 551.5M356.5 545.5L356.5 551.5M353.5 545.5L352.5 547.5L352.5 545.5L358.5 545.5L358.5 547.5L358.5 545.5M354.5 551.5L357.5 551.5M362.5 548.5L367.5 548.5L367.5 547.5L367.5 546.5L366.5 545.5L365.5 545.5L364.5 545.5L362.5 545.5L362.5 546.5L361.5 548.5L361.5 549.5L362.5 550.5L362.5 551.5L364.5 551.5L365.5 551.5L366.5 551.5L367.5 550.5M367.5 548.5L367.5 546.5L366.5 545.5M364.5 545.5L363.5 545.5L362.5 546.5L362.5 548.5L362.5 549.5L362.5 550.5L363.5 551.5L364.5 551.5M371.5 545.5L371.5 555.5M371.5 545.5L371.5 555.5M371.5 546.5L372.5 545.5L373.5 545.5L374.5 545.5L375.5 545.5L376.5 546.5L377.5 548.5L377.5 549.5L376.5 550.5L375.5 551.5L374.5 551.5L373.5 551.5L372.5 551.5L371.5 550.5M374.5 545.5L375.5 545.5L376.5 546.5L376.5 548.5L376.5 549.5L376.5 550.5L375.5 551.5L374.5 551.5M369.5 545.5L371.5 545.5M369.5 555.5L373.5 555.5M388.5 545.5L388.5 551.5M388.5 545.5L388.5 551.5M393.5 545.5L393.5 551.5M394.5 545.5L394.5 551.5M387.5 545.5L390.5 545.5M392.5 545.5L395.5 545.5M387.5 551.5L390.5 551.5M392.5 551.5L395.5 551.5M393.5 545.5L388.5 551.5M398.5 546.5L397.5 545.5L397.5 547.5L398.5 546.5L398.5 545.5L399.5 545.5L401.5 545.5L402.5 545.5L403.5 546.5L403.5 547.5L402.5 548.5L401.5 548.5M401.5 545.5L402.5 545.5L402.5 546.5L402.5 547.5L402.5 548.5L401.5 548.5M400.5 548.5L401.5 548.5L402.5 549.5L403.5 549.5L403.5 550.5L402.5 551.5L401.5 551.5L399.5 551.5L398.5 551.5L397.5 550.5L397.5 549.5L398.5 549.5L398.5 550.5M401.5 548.5L402.5 549.5L402.5 550.5L402.5 551.5L401.5 551.5M406.5 545.5L406.5 551.5M406.5 545.5L409.5 551.5M407.5 545.5L409.5 550.5M412.5 545.5L409.5 551.5M412.5 545.5L412.5 551.5M412.5 545.5L412.5 551.5M405.5 545.5L407.5 545.5M412.5 545.5L414.5 545.5M405.5 551.5L408.5 551.5M411.5 551.5L414.5 551.5M417.5 548.5L422.5 548.5L422.5 547.5L422.5 546.5L421.5 545.5L420.5 545.5L419.5 545.5L418.5 545.5L417.5 546.5L416.5 548.5L416.5 549.5L417.5 550.5L418.5 551.5L419.5 551.5L420.5 551.5L421.5 551.5L422.5 550.5M422.5 548.5L422.5 546.5L421.5 545.5M419.5 545.5L418.5 545.5L417.5 546.5L417.5 548.5L417.5 549.5L417.5 550.5L418.5 551.5L419.5 551.5M426.5 545.5L426.5 555.5M426.5 545.5L426.5 555.5M426.5 546.5L427.5 545.5L428.5 545.5L429.5 545.5L431.5 545.5L431.5 546.5L432.5 548.5L432.5 549.5L431.5 550.5L431.5 551.5L429.5 551.5L428.5 551.5L427.5 551.5L426.5 550.5M429.5 545.5L430.5 545.5L431.5 546.5L431.5 548.5L431.5 549.5L431.5 550.5L430.5 551.5L429.5 551.5M425.5 545.5L426.5 545.5M425.5 555.5L428.5 555.5M435.5 548.5L441.5 548.5L441.5 547.5L440.5 546.5L440.5 545.5L439.5 545.5L437.5 545.5L436.5 545.5L435.5 546.5L435.5 548.5L435.5 549.5L435.5 550.5L436.5 551.5L437.5 551.5L438.5 551.5L440.5 551.5L441.5 550.5M440.5 548.5L440.5 546.5L440.5 545.5M437.5 545.5L436.5 546.5L435.5 548.5L435.5 549.5L436.5 550.5L437.5 551.5M444.5 545.5L444.5 551.5M445.5 545.5L445.5 551.5M450.5 545.5L450.5 551.5M450.5 545.5L450.5 551.5M443.5 545.5L446.5 545.5M448.5 545.5L451.5 545.5M445.5 548.5L450.5 548.5M443.5 551.5L446.5 551.5M448.5 551.5L451.5 551.5M455.5 545.5L455.5 551.5M455.5 545.5L455.5 551.5M453.5 545.5L456.5 545.5M455.5 548.5L457.5 548.5L458.5 549.5L459.5 549.5L459.5 550.5L458.5 551.5L457.5 551.5L453.5 551.5M457.5 548.5L458.5 549.5L458.5 550.5L458.5 551.5L457.5 551.5M462.5 545.5L462.5 551.5M462.5 545.5L462.5 551.5M460.5 545.5L463.5 545.5M460.5 551.5L463.5 551.5M479.5 546.5L478.5 547.5L479.5 547.5L479.5 546.5L478.5 545.5L477.5 545.5L476.5 545.5L475.5 545.5L474.5 546.5L473.5 548.5L473.5 549.5L474.5 550.5L475.5 551.5L476.5 551.5L477.5 551.5L478.5 551.5L479.5 550.5M476.5 545.5L475.5 545.5L474.5 546.5L474.5 548.5L474.5 549.5L474.5 550.5L475.5 551.5L476.5 551.5M483.5 545.5L483.5 551.5M483.5 545.5L483.5 551.5M488.5 545.5L488.5 551.5M488.5 545.5L488.5 551.5M481.5 545.5L490.5 545.5M481.5 551.5L485.5 551.5M487.5 551.5L490.5 551.5M492.5 545.5L495.5 551.5M493.5 545.5L495.5 550.5M498.5 545.5L495.5 551.5L494.5 553.5L493.5 554.5L492.5 555.5L491.5 554.5L492.5 554.5M491.5 545.5L494.5 545.5M496.5 545.5L499.5 545.5M503.5 545.5L503.5 551.5M504.5 545.5L504.5 551.5M501.5 545.5L500.5 547.5L500.5 545.5L506.5 545.5L506.5 547.5L506.5 545.5M502.5 551.5L505.5 551.5M510.5 545.5L510.5 551.5M511.5 545.5L511.5 551.5M515.5 545.5L515.5 551.5M516.5 545.5L516.5 551.5M509.5 545.5L512.5 545.5M514.5 545.5L517.5 545.5M511.5 548.5L515.5 548.5M509.5 551.5L512.5 551.5M514.5 551.5L517.5 551.5M520.5 545.5L520.5 551.5M521.5 545.5L521.5 551.5M525.5 545.5L525.5 551.5M526.5 545.5L526.5 551.5M519.5 545.5L522.5 545.5M524.5 545.5L527.5 545.5M519.5 551.5L522.5 551.5M524.5 551.5L527.5 551.5M525.5 545.5L521.5 551.5M531.5 545.5L531.5 551.5M531.5 545.5L531.5 551.5M529.5 545.5L532.5 545.5M531.5 548.5L532.5 548.5L533.5 548.5L534.5 547.5L535.5 545.5L536.5 545.5L536.5 546.5L535.5 545.5M532.5 548.5L533.5 549.5L534.5 549.5L535.5 551.5M532.5 548.5L533.5 549.5L534.5 551.5L535.5 551.5L536.5 551.5L537.5 550.5M529.5 551.5L532.5 551.5M542.5 545.5L540.5 545.5L539.5 546.5L539.5 548.5L539.5 549.5L539.5 550.5L540.5 551.5L542.5 551.5L543.5 551.5L544.5 551.5L545.5 550.5L545.5 549.5L545.5 548.5L545.5 546.5L544.5 545.5L543.5 545.5L542.5 545.5M542.5 545.5L541.5 545.5L540.5 546.5L539.5 548.5L539.5 549.5L540.5 550.5L541.5 551.5L542.5 551.5M543.5 551.5L544.5 551.5L544.5 550.5L545.5 549.5L545.5 548.5L544.5 546.5L544.5 545.5L543.5 545.5M549.5 545.5L549.5 551.5M549.5 545.5L552.5 551.5M550.5 545.5L552.5 550.5M555.5 545.5L552.5 551.5M555.5 545.5L555.5 551.5M555.5 545.5L555.5 551.5M548.5 545.5L550.5 545.5M555.5 545.5L556.5 545.5M548.5 551.5L550.5 551.5M553.5 551.5L556.5 551.5M567.5 542.5L567.5 552.5M567.5 542.5L570.5 542.5L571.5 543.5L572.5 544.5L573.5 545.5L573.5 546.5L573.5 548.5L573.5 550.5L572.5 551.5L571.5 552.5L570.5 552.5L567.5 552.5M582.5 544.5L581.5 543.5L580.5 542.5L578.5 542.5L577.5 543.5L576.5 544.5L576.5 545.5L576.5 546.5L577.5 546.5L578.5 546.5L581.5 547.5L581.5 548.5L582.5 548.5L582.5 549.5L582.5 551.5L581.5 552.5L580.5 552.5L578.5 552.5L577.5 552.5L576.5 551.5M592.5 545.5L592.5 544.5L591.5 543.5L590.5 542.5L588.5 542.5L587.5 543.5L586.5 544.5L586.5 545.5L585.5 546.5L585.5 548.5L586.5 550.5L586.5 551.5L587.5 552.5L588.5 552.5L590.5 552.5L591.5 552.5L592.5 551.5L592.5 550.5M598.5 542.5L597.5 543.5L596.5 544.5L595.5 545.5L595.5 546.5L595.5 548.5L595.5 550.5L596.5 551.5L597.5 552.5L598.5 552.5L600.5 552.5L601.5 551.5L602.5 550.5L602.5 548.5L602.5 546.5L602.5 545.5L601.5 544.5L600.5 543.5L600.5 542.5L598.5 542.5M604.5 542.5L608.5 552.5M612.5 542.5L608.5 552.5M614.5 542.5L614.5 552.5M614.5 542.5L618.5 542.5L619.5 543.5L620.5 543.5L620.5 544.5L620.5 545.5L620.5 546.5L619.5 546.5L618.5 547.5L614.5 547.5M617.5 547.5L620.5 552.5" fill="none" stroke="#000" stroke-width="1" stroke-linecap="square"/>
<path d="M81.5 563.5L81.5 569.5M81.5 563.5L81.5 569.5M86.5 563.5L86.5 569.5M86.5 563.5L86.5 569.5M79.5 563.5L82.5 563.5M84.5 563.5L87.5 563.5M79.5 569.5L82.5 569.5M84.5 569.5L87.5 569.5M86.5 563.5L81.5 569.5M103.5 564.5L102.5 565.5L103.5 565.5L103.5 564.5L102.5 563.5L101.5 563.5L100.5 563.5L99.5 563.5L98.5 564.5L97.5 566.5L97.5 567.5L98.5 568.5L99.5 569.5L100.5 569.5L101.5 569.5L102.5 569.5L103.5 568.5M100.5 563.5L99.5 563.5L98.5 564.5L98.5 566.5L98.5 567.5L98.5 568.5L99.5 569.5L100.5 569.5M108.5 563.5L108.5 565.5L108.5 567.5L107.5 569.5M112.5 563.5L112.5 569.5M113.5 563.5L113.5 569.5M107.5 563.5L114.5 563.5M106.5 569.5L106.5 572.5L106.5 569.5L114.5 569.5L114.5 572.5L114.5 569.5M118.5 563.5L118.5 569.5M118.5 563.5L118.5 569.5M116.5 563.5L121.5 563.5L123.5 563.5L123.5 564.5L123.5 565.5L123.5 566.5L121.5 566.5M121.5 563.5L122.5 563.5L123.5 564.5L123.5 565.5L122.5 566.5L121.5 566.5M118.5 566.5L121.5 566.5L123.5 567.5L123.5 568.5L123.5 569.5L121.5 569.5L116.5 569.5M121.5 566.5L122.5 567.5L123.5 567.5L123.5 568.5L122.5 569.5L121.5 569.5M127.5 563.5L127.5 569.5M127.5 563.5L127.5 569.5M132.5 563.5L132.5 569.5M132.5 563.5L132.5 569.5M125.5 563.5L129.5 563.5M131.5 563.5L134.5 563.5M125.5 569.5L129.5 569.5M131.5 569.5L134.5 569.5M132.5 563.5L127.5 569.5M137.5 563.5L137.5 569.5M137.5 563.5L137.5 569.5M142.5 563.5L142.5 569.5M143.5 563.5L143.5 569.5M136.5 563.5L139.5 563.5M141.5 563.5L144.5 563.5M137.5 566.5L142.5 566.5M136.5 569.5L139.5 569.5M141.5 569.5L144.5 569.5M146.5 563.5L149.5 569.5M147.5 563.5L149.5 568.5M152.5 563.5L149.5 569.5L148.5 571.5L147.5 572.5L146.5 573.5L145.5 572.5L146.5 572.5M145.5 563.5L148.5 563.5M150.5 563.5L153.5 563.5M157.5 563.5L157.5 569.5M158.5 563.5L158.5 569.5M155.5 563.5L155.5 565.5L155.5 563.5L161.5 563.5L161.5 565.5L160.5 563.5M156.5 569.5L159.5 569.5M164.5 563.5L164.5 569.5M165.5 563.5L165.5 569.5M163.5 563.5L166.5 563.5M165.5 566.5L167.5 566.5L168.5 567.5L168.5 568.5L168.5 569.5L167.5 569.5L163.5 569.5M167.5 566.5L168.5 567.5L168.5 568.5L168.5 569.5L167.5 569.5M171.5 563.5L171.5 569.5M172.5 563.5L172.5 569.5M170.5 563.5L173.5 563.5M170.5 569.5L173.5 569.5M184.5 563.5L184.5 569.5M184.5 563.5L184.5 569.5M182.5 563.5L187.5 563.5L189.5 563.5L189.5 564.5L189.5 565.5L189.5 566.5L187.5 566.5M187.5 563.5L188.5 563.5L189.5 564.5L189.5 565.5L188.5 566.5L187.5 566.5M184.5 566.5L187.5 566.5L189.5 567.5L189.5 568.5L189.5 569.5L187.5 569.5L182.5 569.5M187.5 566.5L188.5 567.5L189.5 567.5L189.5 568.5L188.5 569.5L187.5 569.5M193.5 563.5L193.5 569.5M193.5 563.5L193.5 569.5M198.5 563.5L198.5 569.5M199.5 563.5L199.5 569.5M192.5 563.5L200.5 563.5M192.5 569.5L195.5 569.5M197.5 569.5L200.5 569.5M203.5 566.5L208.5 566.5L208.5 565.5L208.5 564.5L207.5 563.5L206.5 563.5L205.5 563.5L204.5 563.5L203.5 564.5L202.5 566.5L202.5 567.5L203.5 568.5L204.5 569.5L205.5 569.5L206.5 569.5L207.5 569.5L208.5 568.5M208.5 566.5L208.5 564.5L207.5 563.5M205.5 563.5L204.5 563.5L203.5 564.5L203.5 566.5L203.5 567.5L203.5 568.5L204.5 569.5L205.5 569.5M212.5 563.5L212.5 573.5M212.5 563.5L212.5 573.5M212.5 564.5L213.5 563.5L214.5 563.5L215.5 563.5L217.5 563.5L218.5 564.5L218.5 566.5L218.5 567.5L218.5 568.5L217.5 569.5L215.5 569.5L214.5 569.5L213.5 569.5L212.5 568.5M215.5 563.5L216.5 563.5L217.5 564.5L218.5 566.5L218.5 567.5L217.5 568.5L216.5 569.5L215.5 569.5M211.5 563.5L212.5 563.5M211.5 573.5L214.5 573.5M221.5 566.5L227.5 566.5L227.5 565.5L226.5 564.5L226.5 563.5L225.5 563.5L224.5 563.5L222.5 563.5L221.5 564.5L221.5 566.5L221.5 567.5L221.5 568.5L222.5 569.5L224.5 569.5L225.5 569.5L226.5 569.5L227.5 568.5M226.5 566.5L226.5 564.5L226.5 563.5M224.5 563.5L223.5 563.5L222.5 564.5L221.5 566.5L221.5 567.5L222.5 568.5L223.5 569.5L224.5 569.5M232.5 563.5L232.5 565.5L231.5 567.5L231.5 569.5M236.5 563.5L236.5 569.5M237.5 563.5L237.5 569.5M231.5 563.5L238.5 563.5M230.5 569.5L229.5 572.5L229.5 569.5L238.5 569.5L238.5 572.5L237.5 569.5M241.5 569.5L241.5 568.5L242.5 569.5L242.5 570.5L241.5 571.5M252.5 563.5L255.5 569.5M253.5 563.5L255.5 568.5M258.5 563.5L255.5 569.5L254.5 571.5L253.5 572.5L252.5 573.5L251.5 572.5L252.5 572.5M251.5 563.5L254.5 563.5M256.5 563.5L259.5 563.5M262.5 563.5L262.5 566.5L262.5 567.5L263.5 567.5L264.5 567.5L266.5 567.5L267.5 566.5M262.5 563.5L262.5 566.5L262.5 567.5L263.5 567.5M267.5 563.5L267.5 569.5M267.5 563.5L267.5 569.5M260.5 563.5L263.5 563.5M265.5 563.5L268.5 563.5M265.5 569.5L268.5 569.5M272.5 563.5L272.5 569.5M272.5 563.5L272.5 569.5M277.5 563.5L277.5 569.5M277.5 563.5L277.5 569.5M270.5 563.5L274.5 563.5M275.5 563.5L279.5 563.5M270.5 569.5L274.5 569.5M275.5 569.5L279.5 569.5M277.5 563.5L272.5 569.5M284.5 563.5L284.5 569.5M284.5 563.5L284.5 569.5M281.5 563.5L281.5 565.5L281.5 563.5L287.5 563.5L287.5 565.5L287.5 563.5M282.5 569.5L286.5 569.5M291.5 563.5L291.5 569.5M291.5 563.5L291.5 569.5M289.5 563.5L293.5 563.5M291.5 566.5L293.5 566.5L294.5 567.5L295.5 567.5L295.5 568.5L294.5 569.5L293.5 569.5L289.5 569.5M293.5 566.5L294.5 567.5L294.5 568.5L294.5 569.5L293.5 569.5M298.5 563.5L298.5 569.5M298.5 563.5L298.5 569.5M296.5 563.5L300.5 563.5M296.5 569.5L300.5 569.5M303.5 563.5L303.5 569.5M303.5 563.5L303.5 569.5M301.5 563.5L306.5 563.5L308.5 563.5L308.5 564.5L308.5 565.5L308.5 566.5L306.5 566.5M306.5 563.5L307.5 563.5L308.5 564.5L308.5 565.5L307.5 566.5L306.5 566.5M303.5 566.5L306.5 566.5L308.5 567.5L308.5 568.5L308.5 569.5L306.5 569.5L301.5 569.5M306.5 566.5L307.5 567.5L308.5 567.5L308.5 568.5L307.5 569.5L306.5 569.5M312.5 564.5L312.5 563.5L313.5 563.5L315.5 563.5L316.5 563.5L316.5 564.5L317.5 565.5L317.5 568.5L317.5 569.5L318.5 569.5M316.5 564.5L316.5 568.5L317.5 569.5L318.5 569.5M316.5 565.5L313.5 566.5L312.5 566.5L311.5 567.5L311.5 568.5L312.5 569.5L313.5 569.5L314.5 569.5L315.5 569.5L316.5 568.5M313.5 566.5L312.5 566.5L312.5 567.5L312.5 568.5L312.5 569.5L313.5 569.5M326.5 563.5L326.5 569.5M326.5 563.5L326.5 569.5M328.5 563.5L323.5 563.5L321.5 563.5L321.5 564.5L321.5 565.5L321.5 566.5L323.5 566.5L326.5 566.5M323.5 563.5L322.5 563.5L321.5 564.5L321.5 565.5L322.5 566.5L323.5 566.5M325.5 566.5L324.5 567.5L323.5 567.5L322.5 569.5M325.5 566.5L324.5 567.5L323.5 569.5L322.5 569.5L321.5 569.5L320.5 568.5M325.5 569.5L328.5 569.5M338.5 563.5L338.5 573.5M339.5 563.5L339.5 573.5M339.5 564.5L340.5 563.5L341.5 563.5L342.5 563.5L343.5 563.5L344.5 564.5L344.5 566.5L344.5 567.5L344.5 568.5L343.5 569.5L342.5 569.5L341.5 569.5L340.5 569.5L339.5 568.5M342.5 563.5L343.5 563.5L343.5 564.5L344.5 566.5L344.5 567.5L343.5 568.5L343.5 569.5L342.5 569.5M337.5 563.5L339.5 563.5M337.5 573.5L340.5 573.5M348.5 564.5L348.5 563.5L349.5 563.5L351.5 563.5L352.5 563.5L352.5 564.5L353.5 565.5L353.5 568.5L353.5 569.5L354.5 569.5M352.5 564.5L352.5 568.5L353.5 569.5L354.5 569.5M352.5 565.5L349.5 566.5L348.5 566.5L347.5 567.5L347.5 568.5L348.5 569.5L349.5 569.5L350.5 569.5L351.5 569.5L352.5 568.5M349.5 566.5L348.5 566.5L348.5 567.5L348.5 568.5L348.5 569.5L349.5 569.5M362.5 564.5L362.5 565.5L362.5 564.5L362.5 563.5L361.5 563.5L359.5 563.5L358.5 563.5L357.5 564.5L356.5 566.5L356.5 567.5L357.5 568.5L358.5 569.5L359.5 569.5L360.5 569.5L362.5 569.5L362.5 568.5M359.5 563.5L358.5 563.5L357.5 564.5L357.5 566.5L357.5 567.5L357.5 568.5L358.5 569.5L359.5 569.5M366.5 563.5L366.5 569.5M367.5 563.5L367.5 569.5M371.5 563.5L371.5 569.5M372.5 563.5L372.5 569.5M365.5 563.5L373.5 563.5M365.5 569.5L368.5 569.5M370.5 569.5L373.5 569.5M376.5 563.5L376.5 573.5M377.5 563.5L377.5 573.5M377.5 564.5L378.5 563.5L379.5 563.5L380.5 563.5L381.5 563.5L382.5 564.5L382.5 566.5L382.5 567.5L382.5 568.5L381.5 569.5L380.5 569.5L379.5 569.5L378.5 569.5L377.5 568.5M380.5 563.5L381.5 563.5L381.5 564.5L382.5 566.5L382.5 567.5L381.5 568.5L381.5 569.5L380.5 569.5M375.5 563.5L377.5 563.5M375.5 573.5L378.5 573.5M388.5 563.5L387.5 563.5L386.5 564.5L385.5 566.5L385.5 567.5L386.5 568.5L387.5 569.5L388.5 569.5L389.5 569.5L390.5 569.5L391.5 568.5L392.5 567.5L392.5 566.5L391.5 564.5L390.5 563.5L389.5 563.5L388.5 563.5M388.5 563.5L387.5 563.5L386.5 564.5L386.5 566.5L386.5 567.5L386.5 568.5L387.5 569.5L388.5 569.5M389.5 569.5L390.5 569.5L391.5 568.5L391.5 567.5L391.5 566.5L391.5 564.5L390.5 563.5L389.5 563.5M400.5 564.5L400.5 565.5L400.5 564.5L400.5 563.5L399.5 563.5L397.5 563.5L396.5 563.5L395.5 564.5L394.5 566.5L394.5 567.5L395.5 568.5L396.5 569.5L397.5 569.5L398.5 569.5L400.5 569.5L400.5 568.5M397.5 563.5L396.5 563.5L395.5 564.5L395.5 566.5L395.5 567.5L395.5 568.5L396.5 569.5L397.5 569.5M406.5 563.5L406.5 569.5M406.5 563.5L406.5 569.5M404.5 563.5L403.5 565.5L403.5 563.5L409.5 563.5L409.5 565.5L409.5 563.5M405.5 569.5L408.5 569.5M413.5 563.5L413.5 573.5M413.5 563.5L413.5 573.5M413.5 564.5L414.5 563.5L415.5 563.5L416.5 563.5L418.5 563.5L419.5 564.5L419.5 566.5L419.5 567.5L419.5 568.5L418.5 569.5L416.5 569.5L415.5 569.5L414.5 569.5L413.5 568.5M416.5 563.5L417.5 563.5L418.5 564.5L419.5 566.5L419.5 567.5L418.5 568.5L417.5 569.5L416.5 569.5M412.5 563.5L413.5 563.5M412.5 573.5L415.5 573.5M423.5 564.5L422.5 564.5L423.5 563.5L424.5 563.5L425.5 563.5L426.5 563.5L427.5 564.5L427.5 565.5L427.5 568.5L428.5 569.5M427.5 564.5L427.5 568.5L427.5 569.5L428.5 569.5L429.5 569.5M427.5 565.5L426.5 565.5L424.5 566.5L422.5 566.5L422.5 567.5L422.5 568.5L422.5 569.5L424.5 569.5L425.5 569.5L426.5 569.5L427.5 568.5M424.5 566.5L423.5 566.5L422.5 567.5L422.5 568.5L423.5 569.5L424.5 569.5M432.5 563.5L432.5 569.5M432.5 563.5L432.5 569.5M437.5 563.5L437.5 569.5M437.5 563.5L437.5 569.5M431.5 563.5L434.5 563.5M436.5 563.5L439.5 563.5M432.5 566.5L437.5 566.5M431.5 569.5L434.5 569.5M436.5 569.5L439.5 569.5M442.5 566.5L447.5 566.5L447.5 565.5L447.5 564.5L446.5 563.5L445.5 563.5L444.5 563.5L443.5 563.5L442.5 564.5L441.5 566.5L441.5 567.5L442.5 568.5L443.5 569.5L444.5 569.5L445.5 569.5L446.5 569.5L447.5 568.5M447.5 566.5L447.5 564.5L446.5 563.5M444.5 563.5L443.5 563.5L442.5 564.5L442.5 566.5L442.5 567.5L442.5 568.5L443.5 569.5L444.5 569.5M451.5 563.5L451.5 569.5M451.5 563.5L451.5 569.5M456.5 563.5L456.5 569.5M456.5 563.5L456.5 569.5M450.5 563.5L453.5 563.5M455.5 563.5L458.5 563.5M451.5 566.5L456.5 566.5M450.5 569.5L453.5 569.5M455.5 569.5L458.5 569.5M461.5 563.5L461.5 569.5M462.5 563.5L462.5 569.5M466.5 563.5L466.5 569.5M467.5 563.5L467.5 569.5M460.5 563.5L463.5 563.5M465.5 563.5L468.5 563.5M460.5 569.5L463.5 569.5M465.5 569.5L468.5 569.5M466.5 563.5L462.5 569.5M471.5 566.5L476.5 566.5L476.5 565.5L476.5 564.5L475.5 563.5L473.5 563.5L472.5 563.5L471.5 564.5L470.5 566.5L470.5 567.5L471.5 568.5L472.5 569.5L473.5 569.5L474.5 569.5L475.5 569.5L476.5 568.5M476.5 566.5L476.5 564.5L475.5 563.5M473.5 563.5L472.5 563.5L471.5 564.5L471.5 566.5L471.5 567.5L471.5 568.5L472.5 569.5L473.5 569.5M487.5 560.5L487.5 570.5M487.5 570.5L493.5 570.5M496.5 562.5L497.5 562.5L498.5 560.5L498.5 570.5M503.5 566.5L514.5 566.5M517.5 561.5L517.5 560.5L517.5 562.5L517.5 561.5L518.5 560.5L519.5 560.5L521.5 560.5L523.5 560.5L523.5 561.5L523.5 562.5L523.5 563.5L521.5 564.5L520.5 564.5M521.5 560.5L522.5 560.5L523.5 561.5L523.5 562.5L522.5 563.5L521.5 564.5M521.5 564.5L522.5 564.5L523.5 565.5L524.5 566.5L524.5 567.5L523.5 568.5L523.5 569.5L521.5 569.5L519.5 569.5L518.5 569.5L517.5 568.5L517.5 567.5L518.5 567.5L517.5 567.5M523.5 565.5L523.5 566.5L523.5 567.5L523.5 568.5L522.5 569.5L521.5 569.5M527.5 566.5L532.5 566.5L532.5 565.5L532.5 564.5L531.5 563.5L530.5 563.5L529.5 563.5L528.5 563.5L527.5 564.5L526.5 566.5L526.5 567.5L527.5 568.5L528.5 569.5L529.5 569.5L530.5 569.5L531.5 569.5L532.5 568.5M532.5 566.5L532.5 564.5L531.5 563.5M529.5 563.5L528.5 563.5L527.5 564.5L527.5 566.5L527.5 567.5L527.5 568.5L528.5 569.5L529.5 569.5M536.5 563.5L536.5 569.5M536.5 563.5L539.5 569.5M536.5 563.5L539.5 568.5M542.5 563.5L539.5 569.5M542.5 563.5L542.5 569.5M542.5 563.5L542.5 569.5M535.5 563.5L536.5 563.5M542.5 563.5L543.5 563.5M535.5 569.5L537.5 569.5M540.5 569.5L543.5 569.5M548.5 563.5L548.5 565.5L547.5 567.5L547.5 569.5L546.5 569.5L545.5 569.5L546.5 568.5L546.5 569.5M552.5 563.5L552.5 569.5M552.5 563.5L552.5 569.5M546.5 563.5L554.5 563.5M550.5 569.5L554.5 569.5M561.5 563.5L561.5 569.5M562.5 563.5L562.5 569.5M563.5 563.5L558.5 563.5L557.5 563.5L556.5 564.5L556.5 565.5L557.5 566.5L558.5 566.5L561.5 566.5M558.5 563.5L557.5 563.5L557.5 564.5L557.5 565.5L557.5 566.5L558.5 566.5M561.5 566.5L559.5 567.5L558.5 569.5L557.5 569.5M561.5 566.5L560.5 567.5L559.5 567.5L558.5 569.5L557.5 569.5L556.5 569.5L556.5 568.5M560.5 569.5L563.5 569.5" fill="none" stroke="#000" stroke-width="1" stroke-linecap="square"/>
<path d="M160.5 586.5L160.5 596.5M161.5 586.5L161.5 596.5M167.5 586.5L167.5 596.5M167.5 586.5L167.5 596.5M159.5 586.5L162.5 586.5M165.5 586.5L169.5 586.5M167.5 587.5L161.5 595.5M159.5 596.5L162.5 596.5M165.5 596.5L169.5 596.5M172.5 589.5L172.5 596.5M173.5 589.5L173.5 596.5M178.5 589.5L178.5 596.5M178.5 589.5L178.5 596.5M171.5 589.5L174.5 589.5M176.5 589.5L180.5 589.5M173.5 593.5L178.5 593.5M171.5 596.5L174.5 596.5M176.5 596.5L180.5 596.5M188.5 591.5L188.5 592.5L189.5 591.5L188.5 590.5L187.5 589.5L185.5 589.5L184.5 590.5L183.5 591.5L182.5 592.5L182.5 593.5L183.5 595.5L184.5 596.5L185.5 596.5L186.5 596.5L188.5 596.5L189.5 595.5M185.5 589.5L184.5 590.5L183.5 591.5L183.5 592.5L183.5 593.5L183.5 595.5L184.5 596.5L185.5 596.5M195.5 589.5L195.5 596.5M195.5 589.5L195.5 596.5M192.5 589.5L192.5 592.5L192.5 589.5L198.5 589.5L198.5 592.5L198.5 589.5M193.5 596.5L197.5 596.5M202.5 589.5L202.5 596.5M203.5 589.5L203.5 596.5M208.5 589.5L208.5 596.5M208.5 589.5L208.5 596.5M201.5 589.5L204.5 589.5M206.5 589.5L210.5 589.5M201.5 596.5L204.5 596.5M206.5 596.5L210.5 596.5M208.5 590.5L203.5 596.5M215.5 589.5L215.5 596.5M216.5 589.5L216.5 596.5M213.5 589.5L212.5 592.5L212.5 589.5L219.5 589.5L219.5 592.5L218.5 589.5M214.5 596.5L217.5 596.5M222.5 589.5L225.5 596.5M223.5 589.5L225.5 595.5M228.5 589.5L225.5 596.5L224.5 598.5L223.5 599.5L222.5 600.5L221.5 599.5L222.5 599.5M221.5 589.5L224.5 589.5M226.5 589.5L229.5 589.5M234.5 589.5L234.5 596.5M235.5 589.5L235.5 596.5M232.5 589.5L231.5 592.5L231.5 589.5L238.5 589.5L238.5 592.5L237.5 589.5M233.5 596.5L236.5 596.5M250.5 589.5L250.5 596.5M250.5 589.5L250.5 596.5M248.5 589.5L252.5 589.5M250.5 593.5L251.5 593.5L253.5 592.5L254.5 590.5L255.5 589.5L256.5 590.5L255.5 590.5M251.5 593.5L253.5 593.5L253.5 594.5L254.5 596.5L255.5 596.5M251.5 593.5L252.5 593.5L253.5 594.5L254.5 596.5L255.5 596.5L256.5 596.5L256.5 595.5M248.5 596.5L252.5 596.5M262.5 589.5L260.5 590.5L259.5 591.5L259.5 592.5L259.5 593.5L259.5 595.5L260.5 596.5L262.5 596.5L263.5 596.5L264.5 596.5L265.5 595.5L266.5 593.5L266.5 592.5L265.5 591.5L264.5 590.5L263.5 589.5L262.5 589.5M262.5 589.5L261.5 590.5L260.5 591.5L259.5 592.5L259.5 593.5L260.5 595.5L261.5 596.5L262.5 596.5M263.5 596.5L264.5 596.5L265.5 595.5L265.5 593.5L265.5 592.5L265.5 591.5L264.5 590.5L263.5 589.5M275.5 591.5L274.5 591.5L275.5 592.5L275.5 591.5L274.5 590.5L273.5 589.5L272.5 589.5L270.5 590.5L269.5 591.5L269.5 592.5L269.5 593.5L269.5 595.5L270.5 596.5L272.5 596.5L273.5 596.5L274.5 596.5L275.5 595.5M272.5 589.5L271.5 590.5L270.5 591.5L269.5 592.5L269.5 593.5L270.5 595.5L271.5 596.5L272.5 596.5M279.5 589.5L279.5 596.5M279.5 589.5L282.5 596.5M280.5 589.5L282.5 595.5M286.5 589.5L282.5 596.5M286.5 589.5L286.5 596.5M286.5 589.5L286.5 596.5M278.5 589.5L280.5 589.5M286.5 589.5L288.5 589.5M278.5 596.5L281.5 596.5M284.5 596.5L288.5 596.5M291.5 589.5L291.5 596.5M292.5 589.5L292.5 596.5M297.5 589.5L297.5 596.5M297.5 589.5L297.5 596.5M290.5 589.5L293.5 589.5M295.5 589.5L299.5 589.5M290.5 596.5L293.5 596.5M295.5 596.5L299.5 596.5M297.5 590.5L292.5 596.5M302.5 589.5L302.5 593.5L303.5 594.5L304.5 594.5L305.5 594.5L307.5 594.5L308.5 593.5M303.5 589.5L303.5 593.5L303.5 594.5L304.5 594.5M308.5 589.5L308.5 596.5M308.5 589.5L308.5 596.5M301.5 589.5L304.5 589.5M306.5 589.5L310.5 589.5M306.5 596.5L310.5 596.5M313.5 592.5L319.5 592.5L319.5 591.5L318.5 590.5L317.5 589.5L315.5 589.5L314.5 590.5L313.5 591.5L312.5 592.5L312.5 593.5L313.5 595.5L314.5 596.5L315.5 596.5L316.5 596.5L318.5 596.5L319.5 595.5M318.5 592.5L318.5 591.5L318.5 590.5M315.5 589.5L314.5 590.5L313.5 591.5L313.5 592.5L313.5 593.5L313.5 595.5L314.5 596.5L315.5 596.5M328.5 591.5L327.5 591.5L328.5 592.5L328.5 591.5L327.5 590.5L326.5 589.5L325.5 589.5L323.5 590.5L322.5 591.5L322.5 592.5L322.5 593.5L322.5 595.5L323.5 596.5L325.5 596.5L326.5 596.5L327.5 596.5L328.5 595.5M325.5 589.5L324.5 590.5L323.5 591.5L322.5 592.5L322.5 593.5L323.5 595.5L324.5 596.5L325.5 596.5M332.5 589.5L332.5 596.5M333.5 589.5L333.5 596.5M331.5 589.5L334.5 589.5M333.5 593.5L334.5 593.5L335.5 592.5L336.5 592.5L337.5 590.5L337.5 589.5L338.5 589.5L338.5 590.5L337.5 590.5M334.5 593.5L335.5 593.5L336.5 594.5L337.5 596.5M334.5 593.5L335.5 593.5L335.5 594.5L336.5 596.5L337.5 596.5L338.5 596.5L339.5 595.5M331.5 596.5L334.5 596.5M342.5 589.5L342.5 596.5M343.5 589.5L343.5 596.5M348.5 589.5L348.5 596.5M349.5 589.5L349.5 596.5M341.5 589.5L344.5 589.5M347.5 589.5L350.5 589.5M341.5 596.5L344.5 596.5M347.5 596.5L350.5 596.5M348.5 590.5L343.5 596.5M353.5 589.5L359.5 596.5M354.5 589.5L359.5 596.5M359.5 589.5L353.5 596.5M352.5 589.5L355.5 589.5M357.5 589.5L360.5 589.5M352.5 596.5L355.5 596.5M357.5 596.5L360.5 596.5M372.5 589.5L372.5 596.5M372.5 589.5L372.5 596.5M377.5 589.5L377.5 596.5M378.5 589.5L378.5 596.5M370.5 589.5L374.5 589.5M376.5 589.5L379.5 589.5M370.5 596.5L374.5 596.5M376.5 596.5L379.5 596.5M377.5 590.5L372.5 596.5M388.5 591.5L387.5 591.5L388.5 592.5L388.5 591.5L387.5 590.5L386.5 589.5L385.5 589.5L383.5 590.5L382.5 591.5L382.5 592.5L382.5 593.5L382.5 595.5L383.5 596.5L385.5 596.5L386.5 596.5L387.5 596.5L388.5 595.5M385.5 589.5L384.5 590.5L383.5 591.5L382.5 592.5L382.5 593.5L383.5 595.5L384.5 596.5L385.5 596.5M397.5 591.5L397.5 592.5L398.5 591.5L397.5 590.5L396.5 589.5L394.5 589.5L393.5 590.5L392.5 591.5L391.5 592.5L391.5 593.5L392.5 595.5L393.5 596.5L394.5 596.5L395.5 596.5L397.5 596.5L398.5 595.5M394.5 589.5L393.5 590.5L392.5 591.5L392.5 592.5L392.5 593.5L392.5 595.5L393.5 596.5L394.5 596.5M403.5 589.5L403.5 591.5L402.5 594.5L402.5 596.5L401.5 596.5L400.5 596.5L401.5 595.5L401.5 596.5M407.5 589.5L407.5 596.5M408.5 589.5L408.5 596.5M401.5 589.5L410.5 589.5M406.5 596.5L410.5 596.5M413.5 592.5L419.5 592.5L419.5 591.5L418.5 590.5L417.5 589.5L415.5 589.5L414.5 590.5L413.5 591.5L412.5 592.5L412.5 593.5L413.5 595.5L414.5 596.5L415.5 596.5L416.5 596.5L418.5 596.5L419.5 595.5M418.5 592.5L418.5 591.5L418.5 590.5M415.5 589.5L414.5 590.5L413.5 591.5L413.5 592.5L413.5 593.5L413.5 595.5L414.5 596.5L415.5 596.5M424.5 589.5L424.5 591.5L424.5 594.5L423.5 596.5M429.5 589.5L429.5 596.5M429.5 589.5L429.5 596.5M423.5 589.5L431.5 589.5M422.5 596.5L421.5 599.5L421.5 596.5L431.5 596.5L431.5 599.5L430.5 596.5M436.5 589.5L435.5 590.5L434.5 591.5L433.5 592.5L433.5 593.5L434.5 595.5L435.5 596.5L436.5 596.5L437.5 596.5L439.5 596.5L440.5 595.5L440.5 593.5L440.5 592.5L440.5 591.5L439.5 590.5L437.5 589.5L436.5 589.5M436.5 589.5L435.5 590.5L434.5 591.5L434.5 592.5L434.5 593.5L434.5 595.5L435.5 596.5L436.5 596.5M437.5 596.5L438.5 596.5L439.5 595.5L440.5 593.5L440.5 592.5L439.5 591.5L438.5 590.5L437.5 589.5M444.5 589.5L444.5 596.5M445.5 589.5L445.5 596.5M443.5 589.5L448.5 589.5L450.5 590.5L450.5 591.5L450.5 592.5L448.5 593.5M448.5 589.5L449.5 590.5L450.5 591.5L449.5 592.5L448.5 593.5M445.5 593.5L448.5 593.5L450.5 593.5L450.5 594.5L450.5 595.5L450.5 596.5L448.5 596.5L443.5 596.5M448.5 593.5L449.5 593.5L450.5 594.5L450.5 595.5L449.5 596.5L448.5 596.5M454.5 590.5L454.5 591.5L454.5 590.5L455.5 589.5L457.5 589.5L458.5 590.5L459.5 590.5L459.5 591.5L459.5 595.5L460.5 596.5M459.5 590.5L459.5 595.5L459.5 596.5L460.5 596.5L461.5 596.5M459.5 591.5L458.5 592.5L455.5 592.5L454.5 593.5L453.5 594.5L453.5 595.5L454.5 596.5L455.5 596.5L457.5 596.5L458.5 596.5L459.5 595.5M455.5 592.5L454.5 593.5L454.5 594.5L454.5 595.5L454.5 596.5L455.5 596.5M464.5 589.5L464.5 596.5M465.5 589.5L465.5 596.5M470.5 589.5L470.5 596.5M470.5 589.5L470.5 596.5M463.5 589.5L466.5 589.5M468.5 589.5L472.5 589.5M465.5 593.5L470.5 593.5M463.5 596.5L466.5 596.5M468.5 596.5L472.5 596.5M476.5 589.5L476.5 596.5M476.5 589.5L476.5 596.5M481.5 589.5L481.5 596.5M482.5 589.5L482.5 596.5M474.5 589.5L478.5 589.5M480.5 589.5L483.5 589.5M474.5 596.5L478.5 596.5M480.5 596.5L483.5 596.5M481.5 590.5L476.5 596.5M487.5 589.5L487.5 596.5M487.5 589.5L487.5 596.5M492.5 589.5L492.5 596.5M493.5 589.5L493.5 596.5M485.5 589.5L489.5 589.5M491.5 589.5L494.5 589.5M485.5 596.5L489.5 596.5M491.5 596.5L494.5 596.5M492.5 590.5L487.5 596.5M488.5 586.5L488.5 587.5L489.5 588.5L490.5 588.5L491.5 587.5L492.5 586.5M506.5 586.5L506.5 596.5M506.5 586.5L506.5 596.5M504.5 586.5L510.5 586.5L512.5 586.5L512.5 587.5L513.5 588.5L513.5 589.5L512.5 590.5L512.5 591.5L510.5 591.5L506.5 591.5M510.5 586.5L511.5 586.5L512.5 587.5L512.5 588.5L512.5 589.5L512.5 590.5L511.5 591.5L510.5 591.5M504.5 596.5L508.5 596.5M519.5 586.5L516.5 596.5M519.5 586.5L523.5 596.5M519.5 587.5L522.5 596.5M517.5 593.5L521.5 593.5M515.5 596.5L518.5 596.5M521.5 596.5L524.5 596.5M527.5 586.5L527.5 596.5M527.5 586.5L527.5 596.5M533.5 586.5L533.5 596.5M534.5 586.5L534.5 596.5M525.5 586.5L529.5 586.5M532.5 586.5L536.5 586.5M527.5 591.5L533.5 591.5M525.5 596.5L529.5 596.5M532.5 596.5L536.5 596.5" fill="none" stroke="#000" stroke-width="1" stroke-linecap="square"/>
<path d="M160.5 603.5L161.5 603.5L161.5 602.5L160.5 603.5M161.5 606.5L161.5 613.5M165.5 603.5L165.5 613.5M170.5 606.5L165.5 611.5M167.5 609.5L170.5 613.5M173.5 603.5L174.5 603.5L173.5 602.5L173.5 603.5M173.5 606.5L173.5 613.5M178.5 612.5L177.5 613.5L178.5 613.5L178.5 612.5M188.5 608.5L187.5 607.5L186.5 606.5L184.5 606.5L183.5 607.5L182.5 608.5L182.5 609.5L182.5 610.5L182.5 612.5L183.5 613.5L184.5 613.5L186.5 613.5L187.5 613.5L188.5 612.5M193.5 606.5L192.5 607.5L191.5 608.5L191.5 609.5L191.5 610.5L191.5 612.5L192.5 613.5L193.5 613.5L195.5 613.5L196.5 613.5L197.5 612.5L197.5 610.5L197.5 609.5L197.5 608.5L196.5 607.5L195.5 606.5L193.5 606.5M206.5 608.5L205.5 607.5L204.5 606.5L202.5 606.5L201.5 607.5L200.5 608.5L201.5 609.5L202.5 609.5L204.5 610.5L205.5 610.5L206.5 611.5L206.5 612.5L205.5 613.5L204.5 613.5L202.5 613.5L201.5 613.5L200.5 612.5M209.5 606.5L209.5 613.5M209.5 608.5L210.5 607.5L211.5 606.5L213.5 606.5L214.5 607.5L214.5 608.5L214.5 613.5M214.5 608.5L216.5 607.5L217.5 606.5L218.5 606.5L219.5 607.5L220.5 608.5L220.5 613.5M226.5 606.5L225.5 607.5L224.5 608.5L223.5 609.5L223.5 610.5L224.5 612.5L225.5 613.5L226.5 613.5L227.5 613.5L228.5 613.5L229.5 612.5L230.5 610.5L230.5 609.5L229.5 608.5L228.5 607.5L227.5 606.5L226.5 606.5M238.5 608.5L238.5 607.5L236.5 606.5L235.5 606.5L233.5 607.5L233.5 608.5L233.5 609.5L234.5 609.5L237.5 610.5L238.5 610.5L238.5 611.5L238.5 612.5L238.5 613.5L236.5 613.5L235.5 613.5L233.5 613.5L233.5 612.5M242.5 612.5L242.5 613.5L243.5 613.5L242.5 612.5M247.5 606.5L247.5 613.5M247.5 609.5L247.5 608.5L248.5 607.5L249.5 606.5L251.5 606.5M253.5 606.5L253.5 611.5L254.5 613.5L255.5 613.5L256.5 613.5L257.5 613.5L259.5 611.5M259.5 606.5L259.5 613.5" fill="none" stroke="#000" stroke-width="1" stroke-linecap="square"/>
<path d="M606.5 570.5L605.5 570.5L604.5 571.5L604.5 572.5L603.5 573.5L603.5 575.5L604.5 576.5L604.5 577.5L605.5 578.5L606.5 578.5L607.5 578.5L609.5 578.5L609.5 577.5L610.5 576.5L610.5 575.5L610.5 573.5L610.5 572.5L609.5 571.5L609.5 570.5L607.5 570.5L606.5 570.5M606.5 570.5L605.5 571.5L604.5 572.5L604.5 573.5L604.5 575.5L604.5 576.5L605.5 577.5L606.5 578.5M607.5 578.5L608.5 578.5L609.5 577.5L609.5 576.5L610.5 575.5L610.5 573.5L609.5 572.5L609.5 571.5L608.5 570.5L607.5 570.5M618.5 570.5L615.5 571.5L614.5 572.5L613.5 573.5L613.5 574.5L613.5 576.5L613.5 577.5L614.5 578.5L615.5 578.5L616.5 578.5L617.5 578.5L618.5 577.5L619.5 576.5L619.5 575.5L618.5 574.5L617.5 573.5L616.5 573.5L615.5 573.5L614.5 573.5L613.5 574.5L613.5 575.5M618.5 570.5L617.5 571.5L615.5 571.5L614.5 572.5L613.5 573.5M615.5 573.5L614.5 573.5L614.5 574.5L613.5 575.5L613.5 576.5L614.5 577.5L614.5 578.5L615.5 578.5M616.5 578.5L617.5 578.5L618.5 577.5L618.5 576.5L618.5 575.5L618.5 574.5L617.5 573.5L616.5 573.5M622.5 573.5L622.5 578.5M622.5 573.5L622.5 578.5M627.5 573.5L627.5 578.5M627.5 573.5L627.5 578.5M621.5 573.5L624.5 573.5M625.5 573.5L628.5 573.5M622.5 575.5L627.5 575.5M621.5 578.5L624.5 578.5M625.5 578.5L628.5 578.5M633.5 573.5L632.5 573.5L631.5 574.5L630.5 575.5L630.5 576.5L631.5 577.5L632.5 578.5L633.5 578.5L634.5 578.5L635.5 578.5L636.5 577.5L636.5 576.5L636.5 575.5L636.5 574.5L635.5 573.5L634.5 573.5L633.5 573.5M633.5 573.5L632.5 573.5L631.5 574.5L631.5 575.5L631.5 576.5L631.5 577.5L632.5 578.5L633.5 578.5M634.5 578.5L635.5 578.5L635.5 577.5L636.5 576.5L636.5 575.5L635.5 574.5L635.5 573.5L634.5 573.5M640.5 573.5L640.5 578.5M640.5 573.5L640.5 578.5M638.5 573.5L643.5 573.5L644.5 573.5L645.5 574.5L644.5 575.5L643.5 575.5M643.5 573.5L644.5 573.5L644.5 574.5L644.5 575.5L643.5 575.5M640.5 575.5L643.5 575.5L644.5 576.5L645.5 577.5L644.5 578.5L643.5 578.5L638.5 578.5M643.5 575.5L644.5 576.5L644.5 577.5L644.5 578.5L643.5 578.5M649.5 573.5L649.5 574.5L648.5 577.5L648.5 578.5L647.5 578.5L648.5 578.5M653.5 573.5L653.5 578.5M653.5 573.5L653.5 578.5M648.5 573.5L654.5 573.5M651.5 578.5L654.5 578.5M657.5 575.5L662.5 575.5L662.5 574.5L661.5 573.5L660.5 573.5L659.5 573.5L658.5 573.5L657.5 574.5L656.5 575.5L656.5 576.5L657.5 577.5L658.5 578.5L659.5 578.5L660.5 578.5L661.5 578.5L662.5 577.5M661.5 575.5L661.5 574.5L661.5 573.5M659.5 573.5L658.5 573.5L657.5 574.5L657.5 575.5L657.5 576.5L657.5 577.5L658.5 578.5L659.5 578.5M665.5 573.5L665.5 578.5M666.5 573.5L666.5 578.5M670.5 573.5L670.5 578.5M670.5 573.5L670.5 578.5M664.5 573.5L667.5 573.5M669.5 573.5L672.5 573.5M666.5 575.5L670.5 575.5M664.5 578.5L667.5 578.5M669.5 578.5L672.5 578.5M676.5 573.5L675.5 573.5L674.5 574.5L674.5 575.5L674.5 576.5L674.5 577.5L675.5 578.5L676.5 578.5L677.5 578.5L678.5 578.5L679.5 577.5L679.5 576.5L679.5 575.5L679.5 574.5L678.5 573.5L677.5 573.5L676.5 573.5M676.5 573.5L675.5 573.5L674.5 574.5L674.5 575.5L674.5 576.5L674.5 577.5L675.5 578.5L676.5 578.5M677.5 578.5L678.5 578.5L679.5 577.5L679.5 576.5L679.5 575.5L679.5 574.5L678.5 573.5L677.5 573.5M690.5 573.5L690.5 578.5M690.5 573.5L690.5 578.5M688.5 573.5L693.5 573.5L694.5 573.5L695.5 574.5L694.5 575.5L693.5 575.5M693.5 573.5L694.5 573.5L694.5 574.5L694.5 575.5L693.5 575.5M690.5 575.5L693.5 575.5L694.5 576.5L695.5 577.5L694.5 578.5L693.5 578.5L688.5 578.5M693.5 575.5L694.5 576.5L694.5 577.5L694.5 578.5L693.5 578.5M698 573.5L699 573.5M698 578.5L699 578.5" fill="none" stroke="#000" stroke-width="1" stroke-linecap="square"/>
<path d="M603.5 587.5L603.5 593.5L604.5 595.5L604.5 596.5L606.5 596.5L607.5 596.5L608.5 596.5L609.5 595.5L609.5 593.5L609.5 587.5M614.5 587.5L614.5 596.5M611.5 587.5L617.5 587.5" fill="none" stroke="#000" stroke-width="1" stroke-linecap="square"/>
<path d="M636.5 589.5L637.5 588.5L638.5 587.5L638.5 596.5M646.5 587.5L644.5 588.5L643.5 589.5L643.5 591.5L643.5 592.5L643.5 594.5L644.5 596.5L646.5 596.5L648.5 596.5L649.5 594.5L649.5 592.5L649.5 591.5L649.5 589.5L648.5 588.5L646.5 587.5M652.5 590.5L652.5 591.5L653.5 591.5L652.5 590.5M652.5 595.5L652.5 596.5L653.5 596.5L652.5 595.5M658.5 587.5L657.5 588.5L656.5 589.5L656.5 591.5L656.5 592.5L656.5 594.5L657.5 596.5L658.5 596.5L659.5 596.5L660.5 596.5L661.5 594.5L662.5 592.5L662.5 591.5L661.5 589.5L660.5 588.5L659.5 587.5L658.5 587.5M669.5 587.5L665.5 587.5L664.5 591.5L665.5 591.5L666.5 590.5L667.5 590.5L669.5 591.5L670.5 591.5L670.5 593.5L670.5 595.5L669.5 596.5L667.5 596.5L666.5 596.5L665.5 596.5L664.5 595.5L664.5 594.5M674.5 596.5L673.5 596.5L673.5 595.5L674.5 596.5L673.5 597.5L673.5 598.5M686.5 587.5L685.5 588.5L684.5 589.5L683.5 591.5L683.5 592.5L684.5 594.5L685.5 596.5L686.5 596.5L687.5 596.5L688.5 596.5L689.5 594.5L689.5 592.5L689.5 591.5L689.5 589.5L688.5 588.5L687.5 587.5L686.5 587.5M697.5 587.5L693.5 587.5L692.5 591.5L693.5 591.5L694.5 590.5L695.5 590.5L696.5 591.5L697.5 591.5L698.5 593.5L697.5 595.5L696.5 596.5L695.5 596.5L694.5 596.5L693.5 596.5L692.5 595.5L692.5 594.5M701.5 595.5L701.5 596.5L701.5 595.5M707.5 587.5L706.5 588.5L705.5 589.5L704.5 591.5L704.5 592.5L705.5 594.5L706.5 596.5L707.5 596.5L708.5 596.5L709.5 596.5L710.5 594.5L710.5 592.5L710.5 591.5L710.5 589.5L709.5 588.5L708.5 587.5L707.5 587.5M717.5 587.5L713.5 593.5L719.5 593.5M717.5 587.5L717.5 596.5M722.5 595.5L722.5 596.5L722.5 595.5M726.5 589.5L726.5 588.5L727.5 588.5L727.5 587.5L729.5 587.5L730.5 588.5L731.5 589.5L731.5 590.5L730.5 591.5L730.5 592.5L725.5 596.5L731.5 596.5M736.5 587.5L735.5 588.5L734.5 589.5L734.5 591.5L734.5 592.5L734.5 594.5L735.5 596.5L736.5 596.5L737.5 596.5L738.5 596.5L739.5 594.5L740.5 592.5L740.5 591.5L739.5 589.5L738.5 588.5L737.5 587.5L736.5 587.5M743.5 589.5L743.5 588.5L744.5 587.5L746.5 587.5L747.5 588.5L748.5 589.5L748.5 590.5L747.5 591.5L746.5 592.5L742.5 596.5L748.5 596.5M756.5 588.5L754.5 587.5L752.5 588.5L751.5 589.5L751.5 591.5L751.5 593.5L751.5 595.5L752.5 596.5L754.5 596.5L755.5 596.5L756.5 595.5L756.5 593.5L756.5 592.5L755.5 591.5L754.5 591.5L752.5 591.5L751.5 592.5L751.5 593.5" fill="none" stroke="#000" stroke-width="1" stroke-linecap="square"/>
<path d="M603.5 605.5L603.5 614.5M603.5 605.5L606.5 614.5M610.5 605.5L606.5 614.5M610.5 605.5L610.5 614.5M619.5 606.5L618.5 606.5L616.5 605.5L615.5 605.5L613.5 606.5L613.5 607.5L613.5 608.5L613.5 609.5L614.5 609.5L617.5 610.5L618.5 610.5L618.5 611.5L619.5 611.5L619.5 613.5L618.5 614.5L616.5 614.5L615.5 614.5L613.5 614.5L613.5 613.5M621.5 605.5L621.5 614.5M627.5 605.5L621.5 611.5M624.5 609.5L627.5 614.5" fill="none" stroke="#000" stroke-width="1" stroke-linecap="square"/>
<path d="M636.5 607.5L637.5 606.5L638.5 605.5L638.5 614.5M644.5 605.5L649.5 605.5L646.5 609.5L647.5 609.5L648.5 609.5L649.5 609.5L649.5 611.5L649.5 613.5L648.5 614.5L646.5 614.5L645.5 614.5L644.5 614.5L643.5 613.5L643.5 612.5M652.5 608.5L652.5 609.5L653.5 609.5L652.5 608.5M652.5 613.5L652.5 614.5L653.5 614.5L652.5 613.5M658.5 605.5L657.5 606.5L656.5 607.5L656.5 609.5L656.5 610.5L656.5 612.5L657.5 614.5L658.5 614.5L659.5 614.5L660.5 614.5L661.5 612.5L662.5 610.5L662.5 609.5L661.5 607.5L660.5 606.5L659.5 605.5L658.5 605.5M669.5 605.5L665.5 605.5L664.5 609.5L665.5 609.5L666.5 608.5L667.5 608.5L669.5 609.5L670.5 609.5L670.5 611.5L670.5 613.5L669.5 614.5L667.5 614.5L666.5 614.5L665.5 614.5L664.5 613.5L664.5 612.5M674.5 614.5L673.5 614.5L673.5 613.5L674.5 614.5L673.5 615.5L673.5 616.5M686.5 605.5L685.5 606.5L684.5 607.5L683.5 609.5L683.5 610.5L684.5 612.5L685.5 614.5L686.5 614.5L687.5 614.5L688.5 614.5L689.5 612.5L689.5 610.5L689.5 609.5L689.5 607.5L688.5 606.5L687.5 605.5L686.5 605.5M697.5 605.5L693.5 605.5L692.5 609.5L693.5 609.5L694.5 608.5L695.5 608.5L696.5 609.5L697.5 609.5L698.5 611.5L697.5 613.5L696.5 614.5L695.5 614.5L694.5 614.5L693.5 614.5L692.5 613.5L692.5 612.5M701.5 613.5L701.5 614.5L701.5 613.5M707.5 605.5L706.5 606.5L705.5 607.5L704.5 609.5L704.5 610.5L705.5 612.5L706.5 614.5L707.5 614.5L708.5 614.5L709.5 614.5L710.5 612.5L710.5 610.5L710.5 609.5L710.5 607.5L709.5 606.5L708.5 605.5L707.5 605.5M717.5 605.5L713.5 611.5L719.5 611.5M717.5 605.5L717.5 614.5M722.5 613.5L722.5 614.5L722.5 613.5M726.5 607.5L726.5 606.5L727.5 606.5L727.5 605.5L729.5 605.5L730.5 606.5L731.5 607.5L731.5 608.5L730.5 609.5L730.5 610.5L725.5 614.5L731.5 614.5M736.5 605.5L735.5 606.5L734.5 607.5L734.5 609.5L734.5 610.5L734.5 612.5L735.5 614.5L736.5 614.5L737.5 614.5L738.5 614.5L739.5 612.5L740.5 610.5L740.5 609.5L739.5 607.5L738.5 606.5L737.5 605.5L736.5 605.5M743.5 607.5L743.5 606.5L744.5 605.5L746.5 605.5L747.5 606.5L748.5 607.5L748.5 608.5L747.5 609.5L746.5 610.5L742.5 614.5L748.5 614.5M756.5 606.5L754.5 605.5L752.5 606.5L751.5 607.5L751.5 609.5L751.5 611.5L751.5 613.5L752.5 614.5L754.5 614.5L755.5 614.5L756.5 613.5L756.5 611.5L756.5 610.5L755.5 609.5L754.5 609.5L752.5 609.5L751.5 610.5L751.5 611.5" fill="none" stroke="#000" stroke-width="1" stroke-linecap="square"/>
<g shape-rendering="geometricPrecision" fill="#222" stroke="#222" stroke-width="0.5"><path vector-effect="non-scaling-stroke" transform="translate(77.2603 612.5) scale(0.0154199 -0.0176734)" d="M35 0V74L207 100V1241L35 1268V1341H694V1268L522 1241V374L1070 1184V1241L898 1268V1341H1559V1268L1386 1241V100L1559 74V0H898V74L1070 100V993L522 183V100L694 74V0Z"/><path vector-effect="non-scaling-stroke" transform="translate(116.033 612.5) scale(0.0162073 -0.0176734)" d="M35 0V74L207 100V1241L35 1268V1341H694V1268L522 1241V374L1070 1184V1241L898 1268V1341H1559V1268L1386 1241V100L1559 74V0H898V74L1070 100V993L522 183V100L694 74V0Z"/><path d="M99 600.3L101.8 600.3L114.3 610.8L114.5 612.5L106.7 612.5L99 603.6Z"/><circle cx="109.5" cy="594" r="6.1"/><path d="M105.9 597.4L113 590.7" stroke="#b4b4b4" stroke-width="2.4" fill="none"/></g>
</svg></body></html>
